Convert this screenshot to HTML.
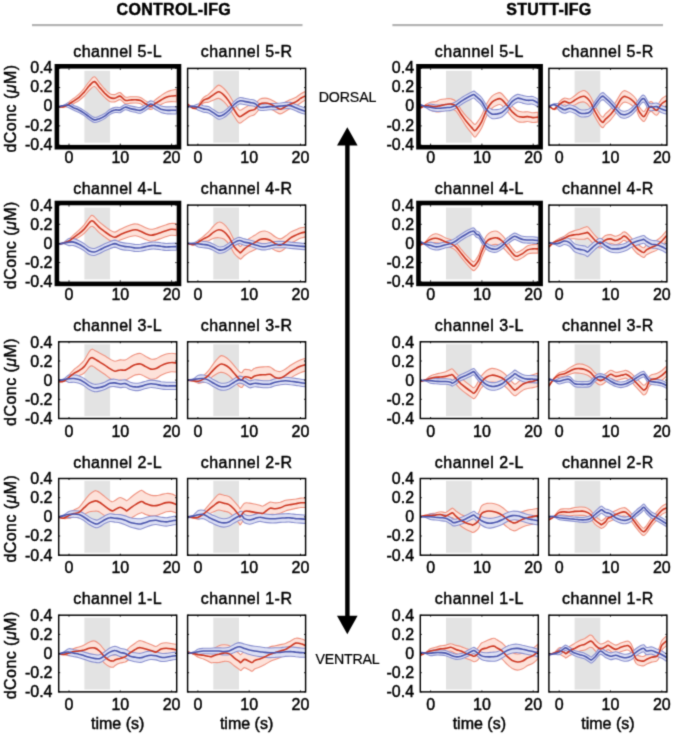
<!DOCTYPE html>
<html><head><meta charset="utf-8"><style>
html,body{margin:0;padding:0;background:#fff;width:675px;height:736px;overflow:hidden;position:relative;font-family:"Liberation Sans",sans-serif}
</style></head><body>
<svg width="675" height="736" viewBox="0 0 675 736" style="position:absolute;left:0;top:0;will-change:transform">
<defs><filter id="soft" x="0" y="0" width="675" height="736" filterUnits="userSpaceOnUse" color-interpolation-filters="sRGB"><feConvolveMatrix order="3" kernelMatrix="0.0225 0.1050 0.0225 0.1050 0.4900 0.1050 0.0225 0.1050 0.0225" preserveAlpha="true" edgeMode="duplicate"/></filter></defs>
<g filter="url(#soft)"><rect width="675" height="736" fill="#fff"/>
<text x="173.8" y="14.6" text-anchor="middle" font-size="16" font-weight="bold" letter-spacing="0.3" font-family="Liberation Sans, sans-serif" stroke="#000" stroke-width="0.45" fill="#000">CONTROL-IFG</text>
<text x="548.9" y="14.6" text-anchor="middle" font-size="16" font-weight="bold" letter-spacing="0.3" font-family="Liberation Sans, sans-serif" stroke="#000" stroke-width="0.45" fill="#000">STUTT-IFG</text>
<rect x="32" y="24" width="270.5" height="2.2" fill="#b4b4b4"/>
<rect x="392.4" y="24" width="270.6" height="2.2" fill="#b4b4b4"/>
<text x="117.7" y="56.6" text-anchor="middle" font-size="16" letter-spacing="0.5" font-family="Liberation Sans, sans-serif" stroke="#000" stroke-width="0.45" fill="#000">channel 5-L</text>
<rect x="84.4" y="70.8" width="25.7" height="71.9" fill="#e3e3e3"/>
<clipPath id="c00"><rect x="58.7" y="68.4" width="118.0" height="76.7"/></clipPath>
<g clip-path="url(#c00)"><path d="M58.5,106.7C59.4,106.6 61.9,107.3 63.6,106.6C65.3,105.8 67.1,103.5 68.8,102.1C70.5,100.7 72.2,99.6 73.9,98.2C75.6,96.9 77.3,95.9 79.0,94.2C80.7,92.6 82.4,90.4 84.2,88.3C85.9,86.2 87.6,83.4 89.3,81.5C91.0,79.5 92.7,76.5 94.4,76.7C96.1,77.0 97.8,80.8 99.5,82.9C101.3,84.9 103.0,87.2 104.7,89.0C106.4,90.8 108.1,92.8 109.8,93.7C111.5,94.6 113.2,94.7 114.9,94.6C116.6,94.4 118.4,92.2 120.1,92.6C121.8,93.1 123.5,96.3 125.2,97.0C126.9,97.7 128.6,96.9 130.3,96.8C132.0,96.8 133.7,96.6 135.5,96.7C137.2,96.8 138.9,96.7 140.6,97.4C142.3,98.1 144.0,99.9 145.7,100.9C147.4,101.8 149.1,103.4 150.8,103.1C152.6,102.9 154.3,100.4 156.0,99.2C157.7,97.9 159.4,96.8 161.1,95.6C162.8,94.4 164.5,93.0 166.2,92.2C167.9,91.3 169.7,90.8 171.4,90.3C173.1,89.8 175.6,89.5 176.5,89.3L176.5,101.9C175.6,101.9 173.1,101.6 171.4,101.6C169.7,101.7 167.9,101.8 166.2,102.2C164.5,102.7 162.8,103.6 161.1,104.4C159.4,105.1 157.7,105.9 156.0,106.7C154.3,107.6 152.6,109.4 150.8,109.4C149.1,109.5 147.4,108.1 145.7,107.2C144.0,106.2 142.3,104.4 140.6,103.7C138.9,103.0 137.2,103.1 135.5,103.0C133.7,102.9 132.0,103.0 130.3,103.1C128.6,103.3 126.9,104.2 125.2,103.7C123.5,103.1 121.8,99.9 120.1,99.6C118.4,99.4 116.6,101.6 114.9,101.9C113.2,102.2 111.5,102.1 109.8,101.4C108.1,100.6 106.4,98.9 104.7,97.4C103.0,95.8 101.3,93.8 99.5,91.9C97.8,90.1 96.1,86.8 94.4,86.5C92.7,86.2 91.0,88.6 89.3,90.2C87.6,91.8 85.9,94.3 84.2,96.0C82.4,97.7 80.7,99.3 79.0,100.5C77.3,101.8 75.6,102.5 73.9,103.5C72.2,104.4 70.5,105.7 68.8,106.3C67.1,106.9 65.3,106.9 63.6,107.1C61.9,107.2 59.4,107.0 58.5,107.0Z" fill="#fde2da" fill-opacity="1.0" stroke="#ef9381" stroke-width="1.1"/><path d="M58.5,106.4C59.4,106.2 61.9,105.8 63.6,105.2C65.3,104.6 67.1,102.7 68.8,102.8C70.5,102.8 72.2,104.6 73.9,105.4C75.6,106.2 77.3,106.6 79.0,107.5C80.7,108.3 82.4,109.4 84.2,110.6C85.9,111.8 87.6,113.3 89.3,114.4C91.0,115.6 92.7,117.1 94.4,117.4C96.1,117.7 97.8,116.8 99.5,116.1C101.3,115.5 103.0,114.6 104.7,113.5C106.4,112.4 108.1,110.5 109.8,109.5C111.5,108.5 113.2,107.7 114.9,107.4C116.6,107.0 118.4,107.8 120.1,107.4C121.8,106.9 123.5,104.8 125.2,104.5C126.9,104.3 128.6,105.5 130.3,105.9C132.0,106.3 133.7,106.6 135.5,106.9C137.2,107.1 138.9,107.9 140.6,107.4C142.3,107.0 144.0,105.4 145.7,104.4C147.4,103.3 149.1,101.1 150.8,100.9C152.6,100.7 154.3,102.4 156.0,103.3C157.7,104.1 159.4,105.3 161.1,105.9C162.8,106.5 164.5,106.7 166.2,106.9C167.9,107.0 169.7,106.8 171.4,106.8C173.1,106.7 175.6,106.7 176.5,106.6L176.5,114.0C175.6,114.0 173.1,113.9 171.4,113.9C169.7,113.8 167.9,114.0 166.2,113.7C164.5,113.5 162.8,113.3 161.1,112.6C159.4,111.9 157.7,110.6 156.0,109.7C154.3,108.8 152.6,107.0 150.8,107.1C149.1,107.2 147.4,109.3 145.7,110.3C144.0,111.3 142.3,112.8 140.6,113.2C138.9,113.5 137.2,112.7 135.5,112.3C133.7,112.0 132.0,111.6 130.3,111.2C128.6,110.7 126.9,109.5 125.2,109.8C123.5,110.0 121.8,112.1 120.1,112.6C118.4,113.0 116.6,112.2 114.9,112.5C113.2,112.9 111.5,113.6 109.8,114.6C108.1,115.6 106.4,117.5 104.7,118.6C103.0,119.7 101.3,120.6 99.5,121.2C97.8,121.9 96.1,122.8 94.4,122.5C92.7,122.2 91.0,120.6 89.3,119.5C87.6,118.3 85.9,116.8 84.2,115.6C82.4,114.4 80.7,113.3 79.0,112.5C77.3,111.6 75.6,111.1 73.9,110.3C72.2,109.6 70.5,108.4 68.8,107.7C67.1,107.0 65.3,106.1 63.6,106.0C61.9,105.9 59.4,107.0 58.5,107.2Z" fill="#dde0f4" fill-opacity="1.0" stroke="#8c92d0" stroke-width="1.1"/><path d="M58.5,106.8C59.4,106.8 61.9,107.2 63.6,106.8C65.3,106.4 67.1,105.2 68.8,104.2C70.5,103.2 72.2,102.0 73.9,100.9C75.6,99.7 77.3,98.8 79.0,97.4C80.7,95.9 82.4,94.0 84.2,92.1C85.9,90.2 87.6,87.6 89.3,85.8C91.0,84.1 92.7,81.4 94.4,81.6C96.1,81.9 97.8,85.5 99.5,87.4C101.3,89.3 103.0,91.5 104.7,93.2C106.4,94.9 108.1,96.7 109.8,97.5C111.5,98.4 113.2,98.5 114.9,98.2C116.6,98.0 118.4,95.8 120.1,96.1C121.8,96.5 123.5,99.7 125.2,100.3C126.9,101.0 128.6,100.1 130.3,100.0C132.0,99.9 133.7,99.7 135.5,99.8C137.2,99.9 138.9,99.8 140.6,100.5C142.3,101.2 144.0,103.1 145.7,104.0C147.4,105.0 149.1,106.5 150.8,106.3C152.6,106.1 154.3,104.0 156.0,103.0C157.7,101.9 159.4,101.0 161.1,100.0C162.8,99.0 164.5,97.9 166.2,97.2C167.9,96.5 169.7,96.2 171.4,96.0C173.1,95.7 175.6,95.7 176.5,95.6" fill="none" stroke="#cd3722" stroke-width="1.6"/><path d="M58.5,106.8C59.4,106.6 61.9,105.8 63.6,105.6C65.3,105.3 67.1,104.9 68.8,105.2C70.5,105.6 72.2,107.1 73.9,107.9C75.6,108.6 77.3,109.1 79.0,110.0C80.7,110.8 82.4,111.9 84.2,113.1C85.9,114.3 87.6,115.8 89.3,116.9C91.0,118.1 92.7,119.6 94.4,119.9C96.1,120.2 97.8,119.3 99.5,118.7C101.3,118.1 103.0,117.2 104.7,116.1C106.4,115.0 108.1,113.1 109.8,112.1C111.5,111.0 113.2,110.3 114.9,110.0C116.6,109.6 118.4,110.4 120.1,110.0C121.8,109.5 123.5,107.4 125.2,107.2C126.9,106.9 128.6,108.1 130.3,108.6C132.0,109.0 133.7,109.3 135.5,109.6C137.2,109.9 138.9,110.7 140.6,110.3C142.3,109.9 144.0,108.4 145.7,107.3C147.4,106.3 149.1,104.2 150.8,104.0C152.6,103.9 154.3,105.6 156.0,106.5C157.7,107.3 159.4,108.6 161.1,109.3C162.8,109.9 164.5,110.1 166.2,110.3C167.9,110.5 169.7,110.3 171.4,110.3C173.1,110.3 175.6,110.3 176.5,110.3" fill="none" stroke="#4b56ad" stroke-width="1.6"/></g>
<line x1="69.0" y1="145.1" x2="69.0" y2="143.6" stroke="#222" stroke-width="1"/>
<line x1="69.0" y1="68.4" x2="69.0" y2="69.9" stroke="#222" stroke-width="1"/>
<line x1="120.3" y1="145.1" x2="120.3" y2="143.6" stroke="#222" stroke-width="1"/>
<line x1="120.3" y1="68.4" x2="120.3" y2="69.9" stroke="#222" stroke-width="1"/>
<line x1="171.6" y1="145.1" x2="171.6" y2="143.6" stroke="#222" stroke-width="1"/>
<line x1="171.6" y1="68.4" x2="171.6" y2="69.9" stroke="#222" stroke-width="1"/>
<line x1="58.7" y1="145.1" x2="60.2" y2="145.1" stroke="#222" stroke-width="1"/>
<line x1="176.7" y1="145.1" x2="175.2" y2="145.1" stroke="#222" stroke-width="1"/>
<line x1="58.7" y1="125.9" x2="60.2" y2="125.9" stroke="#222" stroke-width="1"/>
<line x1="176.7" y1="125.9" x2="175.2" y2="125.9" stroke="#222" stroke-width="1"/>
<line x1="58.7" y1="106.8" x2="60.2" y2="106.8" stroke="#222" stroke-width="1"/>
<line x1="176.7" y1="106.8" x2="175.2" y2="106.8" stroke="#222" stroke-width="1"/>
<line x1="58.7" y1="87.6" x2="60.2" y2="87.6" stroke="#222" stroke-width="1"/>
<line x1="176.7" y1="87.6" x2="175.2" y2="87.6" stroke="#222" stroke-width="1"/>
<line x1="58.7" y1="68.4" x2="60.2" y2="68.4" stroke="#222" stroke-width="1"/>
<line x1="176.7" y1="68.4" x2="175.2" y2="68.4" stroke="#222" stroke-width="1"/>
<rect x="56.9" y="66.3" width="122.1" height="80.9" fill="none" stroke="#000" stroke-width="4.6"/>
<text x="69.0" y="162.9" text-anchor="middle" font-size="16" font-family="Liberation Sans, sans-serif" stroke="#000" stroke-width="0.45" fill="#000">0</text>
<text x="120.3" y="162.9" text-anchor="middle" font-size="16" font-family="Liberation Sans, sans-serif" stroke="#000" stroke-width="0.45" fill="#000">10</text>
<text x="171.6" y="162.9" text-anchor="middle" font-size="16" font-family="Liberation Sans, sans-serif" stroke="#000" stroke-width="0.45" fill="#000">20</text>
<text x="52.5" y="73.0" text-anchor="end" font-size="16" font-family="Liberation Sans, sans-serif" stroke="#000" stroke-width="0.45" fill="#000">0.4</text>
<text x="52.5" y="92.2" text-anchor="end" font-size="16" font-family="Liberation Sans, sans-serif" stroke="#000" stroke-width="0.45" fill="#000">0.2</text>
<text x="52.5" y="111.3" text-anchor="end" font-size="16" font-family="Liberation Sans, sans-serif" stroke="#000" stroke-width="0.45" fill="#000">0</text>
<text x="52.5" y="130.5" text-anchor="end" font-size="16" font-family="Liberation Sans, sans-serif" stroke="#000" stroke-width="0.45" fill="#000">-0.2</text>
<text x="52.5" y="149.7" text-anchor="end" font-size="16" font-family="Liberation Sans, sans-serif" stroke="#000" stroke-width="0.45" fill="#000">-0.4</text>
<text transform="translate(16.2 108.5) rotate(-90)" x="0" y="0" text-anchor="middle" font-size="16" letter-spacing="0.45" font-family="Liberation Sans, sans-serif" stroke="#000" stroke-width="0.45" fill="#000">dConc (<tspan font-style="italic">μ</tspan>M)</text>
<text x="246.6" y="56.6" text-anchor="middle" font-size="16" letter-spacing="0.5" font-family="Liberation Sans, sans-serif" stroke="#000" stroke-width="0.45" fill="#000">channel 5-R</text>
<rect x="213.3" y="70.8" width="25.7" height="71.9" fill="#e3e3e3"/>
<clipPath id="c01"><rect x="187.6" y="68.4" width="118.0" height="76.7"/></clipPath>
<g clip-path="url(#c01)"><path d="M188.0,104.3C188.9,104.9 191.4,107.9 193.1,107.9C194.8,107.9 196.6,106.2 198.3,104.5C200.0,102.8 201.7,99.4 203.4,97.7C205.1,96.0 206.8,95.7 208.5,94.3C210.2,92.9 211.9,90.8 213.7,89.3C215.4,87.7 217.1,85.3 218.8,85.1C220.5,85.0 222.2,86.9 223.9,88.5C225.6,90.1 227.3,92.4 229.0,94.8C230.8,97.3 232.5,100.7 234.2,103.3C235.9,105.8 237.6,109.4 239.3,110.1C241.0,110.9 242.7,108.7 244.4,107.9C246.1,107.1 247.9,105.8 249.6,105.1C251.3,104.5 253.0,105.0 254.7,104.0C256.4,103.0 258.1,100.1 259.8,99.1C261.5,98.1 263.2,98.1 265.0,98.1C266.7,98.1 268.4,98.6 270.1,99.2C271.8,99.9 273.5,101.0 275.2,101.9C276.9,102.8 278.6,104.6 280.3,104.6C282.1,104.6 283.8,102.9 285.5,102.0C287.2,101.2 288.9,100.2 290.6,99.5C292.3,98.7 294.0,98.4 295.7,97.4C297.4,96.5 299.2,94.8 300.9,93.8C302.6,92.8 305.1,91.7 306.0,91.3L306.0,100.0C305.1,100.4 302.6,101.6 300.9,102.7C299.2,103.7 297.4,105.4 295.7,106.4C294.0,107.4 292.3,107.8 290.6,108.6C288.9,109.4 287.2,110.3 285.5,111.2C283.8,112.1 282.1,113.9 280.3,113.9C278.6,113.9 276.9,112.2 275.2,111.4C273.5,110.5 271.8,109.4 270.1,108.8C268.4,108.2 266.7,107.8 265.0,107.8C263.2,107.8 261.5,107.8 259.8,108.9C258.1,110.0 256.4,113.3 254.7,114.5C253.0,115.8 251.3,115.6 249.6,116.5C247.9,117.4 246.1,119.0 244.4,120.1C242.7,121.1 241.0,123.7 239.3,123.1C237.6,122.4 235.9,118.8 234.2,116.3C232.5,113.8 230.8,110.4 229.0,107.9C227.3,105.5 225.6,103.3 223.9,101.7C222.2,100.1 220.5,98.7 218.8,98.4C217.1,98.1 215.4,99.2 213.7,99.9C211.9,100.5 210.2,101.7 208.5,102.2C206.8,102.7 205.1,101.9 203.4,103.0C201.7,104.1 200.0,107.8 198.3,108.7C196.6,109.7 194.8,109.2 193.1,108.5C191.4,107.8 188.9,105.4 188.0,104.8Z" fill="#fde2da" fill-opacity="1.0" stroke="#ef9381" stroke-width="1.1"/><path d="M188.0,105.9C188.9,105.9 191.4,106.2 193.1,105.9C194.8,105.6 196.6,104.0 198.3,104.0C200.0,104.0 201.7,105.3 203.4,105.8C205.1,106.2 206.8,106.0 208.5,106.6C210.2,107.3 211.9,108.7 213.7,109.8C215.4,110.8 217.1,112.7 218.8,112.9C220.5,113.2 222.2,112.3 223.9,111.4C225.6,110.4 227.3,108.8 229.0,107.2C230.8,105.5 232.5,103.0 234.2,101.4C235.9,99.8 237.6,98.2 239.3,97.7C241.0,97.2 242.7,98.0 244.4,98.2C246.1,98.5 247.9,98.9 249.6,99.3C251.3,99.6 253.0,99.6 254.7,100.3C256.4,101.1 258.1,103.4 259.8,104.0C261.5,104.6 263.2,104.1 265.0,104.0C266.7,103.9 268.4,103.6 270.1,103.5C271.8,103.4 273.5,103.6 275.2,103.5C276.9,103.4 278.6,103.1 280.3,103.0C282.1,102.8 283.8,102.5 285.5,102.4C287.2,102.4 288.9,102.1 290.6,102.4C292.3,102.8 294.0,103.8 295.7,104.5C297.4,105.2 299.2,106.0 300.9,106.6C302.6,107.2 305.1,107.9 306.0,108.2L306.0,114.5C305.1,114.2 302.6,113.5 300.9,112.9C299.2,112.3 297.4,111.5 295.7,110.8C294.0,110.1 292.3,109.1 290.6,108.7C288.9,108.4 287.2,108.6 285.5,108.7C283.8,108.8 282.1,109.1 280.3,109.3C278.6,109.4 276.9,109.7 275.2,109.8C273.5,109.9 271.8,109.7 270.1,109.8C268.4,109.9 266.7,110.2 265.0,110.3C263.2,110.4 261.5,110.9 259.8,110.3C258.1,109.7 256.4,107.4 254.7,106.6C253.0,105.8 251.3,105.9 249.6,105.6C247.9,105.2 246.1,104.8 244.4,104.5C242.7,104.3 241.0,103.5 239.3,104.0C237.6,104.5 235.9,106.1 234.2,107.7C232.5,109.3 230.8,111.8 229.0,113.5C227.3,115.1 225.6,116.7 223.9,117.6C222.2,118.6 220.5,119.5 218.8,119.2C217.1,119.0 215.4,117.1 213.7,116.1C211.9,115.0 210.2,113.6 208.5,112.9C206.8,112.3 205.1,112.5 203.4,112.1C201.7,111.6 200.0,111.1 198.3,110.3C196.6,109.5 194.8,107.5 193.1,107.0C191.4,106.4 188.9,107.0 188.0,107.0Z" fill="#dde0f4" fill-opacity="1.0" stroke="#8c92d0" stroke-width="1.1"/><path d="M188.0,104.5C188.9,105.1 191.4,107.9 193.1,108.2C194.8,108.6 196.6,107.9 198.3,106.6C200.0,105.3 201.7,101.7 203.4,100.3C205.1,98.9 206.8,99.2 208.5,98.2C210.2,97.3 211.9,95.6 213.7,94.6C215.4,93.5 217.1,91.7 218.8,91.8C220.5,91.9 222.2,93.5 223.9,95.1C225.6,96.7 227.3,98.9 229.0,101.4C230.8,103.8 232.5,107.2 234.2,109.8C235.9,112.3 237.6,115.9 239.3,116.6C241.0,117.3 242.7,114.9 244.4,114.0C246.1,113.0 247.9,111.6 249.6,110.8C251.3,110.0 253.0,110.4 254.7,109.3C256.4,108.1 258.1,105.1 259.8,104.0C261.5,103.0 263.2,103.0 265.0,103.0C266.7,103.0 268.4,103.4 270.1,104.0C271.8,104.6 273.5,105.8 275.2,106.6C276.9,107.5 278.6,109.3 280.3,109.3C282.1,109.3 283.8,107.5 285.5,106.6C287.2,105.8 288.9,104.8 290.6,104.0C292.3,103.2 294.0,102.9 295.7,101.9C297.4,101.0 299.2,99.3 300.9,98.2C302.6,97.2 305.1,96.1 306.0,95.6" fill="none" stroke="#cd3722" stroke-width="1.6"/><path d="M188.0,106.5C188.9,106.5 191.4,106.3 193.1,106.5C194.8,106.6 196.6,106.8 198.3,107.2C200.0,107.6 201.7,108.5 203.4,108.9C205.1,109.3 206.8,109.1 208.5,109.8C210.2,110.5 211.9,111.9 213.7,112.9C215.4,114.0 217.1,115.8 218.8,116.1C220.5,116.3 222.2,115.5 223.9,114.5C225.6,113.5 227.3,112.0 229.0,110.3C230.8,108.6 232.5,106.1 234.2,104.5C235.9,103.0 237.6,101.4 239.3,100.9C241.0,100.3 242.7,101.1 244.4,101.4C246.1,101.7 247.9,102.1 249.6,102.4C251.3,102.8 253.0,102.7 254.7,103.5C256.4,104.3 258.1,106.5 259.8,107.2C261.5,107.8 263.2,107.2 265.0,107.2C266.7,107.1 268.4,106.7 270.1,106.6C271.8,106.5 273.5,106.7 275.2,106.6C276.9,106.5 278.6,106.3 280.3,106.1C282.1,105.9 283.8,105.7 285.5,105.6C287.2,105.5 288.9,105.2 290.6,105.6C292.3,105.9 294.0,107.0 295.7,107.7C297.4,108.4 299.2,109.2 300.9,109.8C302.6,110.4 305.1,111.1 306.0,111.4" fill="none" stroke="#4b56ad" stroke-width="1.6"/></g>
<line x1="197.9" y1="145.1" x2="197.9" y2="143.6" stroke="#222" stroke-width="1"/>
<line x1="197.9" y1="68.4" x2="197.9" y2="69.9" stroke="#222" stroke-width="1"/>
<line x1="249.2" y1="145.1" x2="249.2" y2="143.6" stroke="#222" stroke-width="1"/>
<line x1="249.2" y1="68.4" x2="249.2" y2="69.9" stroke="#222" stroke-width="1"/>
<line x1="300.5" y1="145.1" x2="300.5" y2="143.6" stroke="#222" stroke-width="1"/>
<line x1="300.5" y1="68.4" x2="300.5" y2="69.9" stroke="#222" stroke-width="1"/>
<line x1="187.6" y1="145.1" x2="189.1" y2="145.1" stroke="#222" stroke-width="1"/>
<line x1="305.6" y1="145.1" x2="304.1" y2="145.1" stroke="#222" stroke-width="1"/>
<line x1="187.6" y1="125.9" x2="189.1" y2="125.9" stroke="#222" stroke-width="1"/>
<line x1="305.6" y1="125.9" x2="304.1" y2="125.9" stroke="#222" stroke-width="1"/>
<line x1="187.6" y1="106.8" x2="189.1" y2="106.8" stroke="#222" stroke-width="1"/>
<line x1="305.6" y1="106.8" x2="304.1" y2="106.8" stroke="#222" stroke-width="1"/>
<line x1="187.6" y1="87.6" x2="189.1" y2="87.6" stroke="#222" stroke-width="1"/>
<line x1="305.6" y1="87.6" x2="304.1" y2="87.6" stroke="#222" stroke-width="1"/>
<line x1="187.6" y1="68.4" x2="189.1" y2="68.4" stroke="#222" stroke-width="1"/>
<line x1="305.6" y1="68.4" x2="304.1" y2="68.4" stroke="#222" stroke-width="1"/>
<rect x="187.6" y="68.4" width="118.0" height="76.7" fill="none" stroke="#000" stroke-width="1.45"/>
<text x="197.9" y="162.9" text-anchor="middle" font-size="16" font-family="Liberation Sans, sans-serif" stroke="#000" stroke-width="0.45" fill="#000">0</text>
<text x="249.2" y="162.9" text-anchor="middle" font-size="16" font-family="Liberation Sans, sans-serif" stroke="#000" stroke-width="0.45" fill="#000">10</text>
<text x="300.5" y="162.9" text-anchor="middle" font-size="16" font-family="Liberation Sans, sans-serif" stroke="#000" stroke-width="0.45" fill="#000">20</text>
<text x="479.3" y="56.6" text-anchor="middle" font-size="16" letter-spacing="0.5" font-family="Liberation Sans, sans-serif" stroke="#000" stroke-width="0.45" fill="#000">channel 5-L</text>
<rect x="446.0" y="70.8" width="25.7" height="71.9" fill="#e3e3e3"/>
<clipPath id="c02"><rect x="420.3" y="68.4" width="118.0" height="76.7"/></clipPath>
<g clip-path="url(#c02)"><path d="M420.0,107.9C420.9,107.4 423.4,106.1 425.1,105.1C426.8,104.2 428.6,102.8 430.3,102.3C432.0,101.7 433.7,102.1 435.4,101.7C437.1,101.2 438.8,99.9 440.5,99.5C442.2,99.0 443.9,99.0 445.7,98.9C447.4,98.7 449.1,98.4 450.8,98.8C452.5,99.2 454.2,99.5 455.9,101.3C457.6,103.1 459.3,107.1 461.0,109.6C462.8,112.1 464.5,114.3 466.2,116.2C467.9,118.1 469.9,119.9 471.3,121.2C472.7,122.6 473.5,124.0 474.4,124.3C475.2,124.6 475.2,124.7 476.4,123.3C477.6,121.8 479.9,118.9 481.6,115.6C483.3,112.4 485.0,106.9 486.7,103.7C488.4,100.4 490.1,98.1 491.8,96.4C493.5,94.7 495.7,93.9 497.0,93.3C498.2,92.7 498.7,92.5 499.5,92.6C500.4,92.8 500.8,92.8 502.1,94.0C503.4,95.2 505.5,97.9 507.2,99.9C508.9,102.0 510.6,104.6 512.3,106.4C514.1,108.2 515.8,109.9 517.5,110.8C519.2,111.7 520.9,111.9 522.6,112.0C524.3,112.2 526.0,111.6 527.7,111.7C529.4,111.8 531.2,112.7 532.9,112.8C534.6,112.8 537.1,112.3 538.0,112.2L538.0,122.0C537.1,122.1 534.6,122.6 532.9,122.5C531.2,122.5 529.4,121.5 527.7,121.5C526.0,121.4 524.3,122.2 522.6,122.2C520.9,122.2 519.2,122.2 517.5,121.4C515.8,120.5 514.1,119.0 512.3,117.3C510.6,115.7 508.9,113.2 507.2,111.2C505.5,109.3 503.4,106.8 502.1,105.7C500.8,104.5 500.4,104.6 499.5,104.5C498.7,104.5 498.2,104.6 497.0,105.3C495.7,105.9 493.5,106.7 491.8,108.5C490.1,110.3 488.4,112.6 486.7,115.9C485.0,119.2 483.3,124.7 481.6,128.0C479.9,131.4 477.6,134.3 476.4,135.8C475.2,137.3 475.2,137.4 474.4,136.9C473.5,136.4 472.7,134.7 471.3,132.9C469.9,131.2 467.9,128.9 466.2,126.4C464.5,124.0 462.8,120.9 461.0,118.3C459.3,115.8 457.6,112.4 455.9,110.9C454.2,109.4 452.5,109.4 450.8,109.3C449.1,109.1 447.4,109.8 445.7,110.2C443.9,110.6 442.2,111.5 440.5,111.7C438.8,111.9 437.1,111.9 435.4,111.6C433.7,111.3 432.0,110.9 430.3,110.0C428.6,109.0 426.8,106.3 425.1,106.1C423.4,105.8 420.9,108.1 420.0,108.5Z" fill="#fde2da" fill-opacity="1.0" stroke="#ef9381" stroke-width="1.1"/><path d="M420.0,104.0C420.9,104.4 423.4,106.1 425.1,106.1C426.8,106.1 428.6,104.2 430.3,104.0C432.0,103.8 433.7,104.8 435.4,105.0C437.1,105.2 438.8,105.1 440.5,105.0C442.2,104.9 443.9,104.6 445.7,104.4C447.4,104.3 449.1,104.3 450.8,103.9C452.5,103.5 454.2,102.8 455.9,101.8C457.6,100.8 459.3,99.2 461.0,98.1C462.8,97.0 464.5,95.9 466.2,94.9C467.9,94.0 470.0,92.9 471.3,92.3C472.6,91.7 473.0,91.0 473.9,91.1C474.7,91.2 475.2,92.0 476.4,93.0C477.7,94.1 479.9,95.4 481.6,97.5C483.3,99.5 485.0,103.5 486.7,105.5C488.4,107.5 490.1,108.8 491.8,109.4C493.5,110.1 495.2,109.8 497.0,109.6C498.7,109.4 500.4,109.1 502.1,108.1C503.8,107.1 505.5,105.3 507.2,103.6C508.9,101.8 510.6,98.9 512.3,97.4C514.1,95.9 515.8,94.7 517.5,94.4C519.2,94.1 520.9,95.1 522.6,95.4C524.3,95.8 526.0,96.3 527.7,96.5C529.4,96.7 531.2,96.1 532.9,96.5C534.6,96.9 537.1,98.7 538.0,99.1L538.0,106.8C537.1,106.4 534.6,104.6 532.9,104.2C531.2,103.7 529.4,104.4 527.7,104.2C526.0,104.0 524.3,103.5 522.6,103.1C520.9,102.8 519.2,101.7 517.5,102.1C515.8,102.5 514.1,103.8 512.3,105.4C510.6,107.0 508.9,109.9 507.2,111.8C505.5,113.7 503.8,115.6 502.1,116.7C500.4,117.8 498.7,118.1 497.0,118.4C495.2,118.7 493.5,119.2 491.8,118.5C490.1,117.8 488.4,116.2 486.7,114.0C485.0,111.8 483.3,107.6 481.6,105.3C479.9,103.0 477.7,101.5 476.4,100.3C475.2,99.1 474.7,98.3 473.9,98.0C473.0,97.8 472.6,98.4 471.3,98.9C470.0,99.5 467.9,100.6 466.2,101.5C464.5,102.5 462.8,103.5 461.0,104.7C459.3,105.8 457.6,107.4 455.9,108.3C454.2,109.3 452.5,110.0 450.8,110.4C449.1,110.8 447.4,110.7 445.7,110.9C443.9,111.1 442.2,111.3 440.5,111.4C438.8,111.5 437.1,111.6 435.4,111.4C433.7,111.2 432.0,111.0 430.3,110.3C428.6,109.6 426.8,108.1 425.1,107.2C423.4,106.3 420.9,105.4 420.0,105.1Z" fill="#dde0f4" fill-opacity="1.0" stroke="#8c92d0" stroke-width="1.1"/><path d="M420.0,108.2C420.9,107.8 423.4,105.9 425.1,105.6C426.8,105.2 428.6,105.9 430.3,106.1C432.0,106.3 433.7,106.7 435.4,106.6C437.1,106.5 438.8,105.9 440.5,105.6C442.2,105.2 443.9,104.8 445.7,104.5C447.4,104.3 449.1,103.7 450.8,104.0C452.5,104.3 454.2,104.4 455.9,106.1C457.6,107.8 459.3,111.4 461.0,114.0C462.8,116.5 464.5,119.1 466.2,121.3C467.9,123.5 469.9,125.5 471.3,127.1C472.7,128.6 473.5,130.2 474.4,130.6C475.2,131.0 475.2,131.0 476.4,129.5C477.6,128.1 479.9,125.1 481.6,121.8C483.3,118.6 485.0,113.0 486.7,109.8C488.4,106.5 490.1,104.2 491.8,102.4C493.5,100.7 495.7,99.9 497.0,99.3C498.2,98.7 498.7,98.5 499.5,98.6C500.4,98.7 500.8,98.7 502.1,99.8C503.4,101.0 505.5,103.6 507.2,105.6C508.9,107.6 510.6,110.1 512.3,111.9C514.1,113.6 515.8,115.2 517.5,116.1C519.2,116.9 520.9,117.0 522.6,117.1C524.3,117.2 526.0,116.5 527.7,116.6C529.4,116.7 531.2,117.6 532.9,117.6C534.6,117.7 537.1,117.2 538.0,117.1" fill="none" stroke="#cd3722" stroke-width="1.6"/><path d="M420.0,104.5C420.9,104.9 423.4,106.2 425.1,106.6C426.8,107.1 428.6,106.9 430.3,107.2C432.0,107.4 433.7,108.0 435.4,108.2C437.1,108.4 438.8,108.3 440.5,108.2C442.2,108.1 443.9,107.9 445.7,107.7C447.4,107.5 449.1,107.6 450.8,107.2C452.5,106.7 454.2,106.0 455.9,105.1C457.6,104.1 459.3,102.5 461.0,101.4C462.8,100.3 464.5,99.2 466.2,98.2C467.9,97.3 470.0,96.2 471.3,95.6C472.6,95.0 473.0,94.4 473.9,94.6C474.7,94.7 475.2,95.5 476.4,96.7C477.7,97.8 479.9,99.2 481.6,101.4C483.3,103.6 485.0,107.7 486.7,109.8C488.4,111.9 490.1,113.3 491.8,114.0C493.5,114.7 495.2,114.2 497.0,114.0C498.7,113.7 500.4,113.5 502.1,112.4C503.8,111.4 505.5,109.5 507.2,107.7C508.9,105.8 510.6,103.0 512.3,101.4C514.1,99.8 515.8,98.6 517.5,98.2C519.2,97.9 520.9,98.9 522.6,99.3C524.3,99.6 526.0,100.2 527.7,100.3C529.4,100.5 531.2,99.9 532.9,100.3C534.6,100.8 537.1,102.5 538.0,103.0" fill="none" stroke="#4b56ad" stroke-width="1.6"/></g>
<line x1="430.6" y1="145.1" x2="430.6" y2="143.6" stroke="#222" stroke-width="1"/>
<line x1="430.6" y1="68.4" x2="430.6" y2="69.9" stroke="#222" stroke-width="1"/>
<line x1="481.9" y1="145.1" x2="481.9" y2="143.6" stroke="#222" stroke-width="1"/>
<line x1="481.9" y1="68.4" x2="481.9" y2="69.9" stroke="#222" stroke-width="1"/>
<line x1="533.2" y1="145.1" x2="533.2" y2="143.6" stroke="#222" stroke-width="1"/>
<line x1="533.2" y1="68.4" x2="533.2" y2="69.9" stroke="#222" stroke-width="1"/>
<line x1="420.3" y1="145.1" x2="421.8" y2="145.1" stroke="#222" stroke-width="1"/>
<line x1="538.3" y1="145.1" x2="536.8" y2="145.1" stroke="#222" stroke-width="1"/>
<line x1="420.3" y1="125.9" x2="421.8" y2="125.9" stroke="#222" stroke-width="1"/>
<line x1="538.3" y1="125.9" x2="536.8" y2="125.9" stroke="#222" stroke-width="1"/>
<line x1="420.3" y1="106.8" x2="421.8" y2="106.8" stroke="#222" stroke-width="1"/>
<line x1="538.3" y1="106.8" x2="536.8" y2="106.8" stroke="#222" stroke-width="1"/>
<line x1="420.3" y1="87.6" x2="421.8" y2="87.6" stroke="#222" stroke-width="1"/>
<line x1="538.3" y1="87.6" x2="536.8" y2="87.6" stroke="#222" stroke-width="1"/>
<line x1="420.3" y1="68.4" x2="421.8" y2="68.4" stroke="#222" stroke-width="1"/>
<line x1="538.3" y1="68.4" x2="536.8" y2="68.4" stroke="#222" stroke-width="1"/>
<rect x="418.5" y="66.3" width="122.1" height="80.9" fill="none" stroke="#000" stroke-width="4.6"/>
<text x="430.6" y="162.9" text-anchor="middle" font-size="16" font-family="Liberation Sans, sans-serif" stroke="#000" stroke-width="0.45" fill="#000">0</text>
<text x="481.9" y="162.9" text-anchor="middle" font-size="16" font-family="Liberation Sans, sans-serif" stroke="#000" stroke-width="0.45" fill="#000">10</text>
<text x="533.2" y="162.9" text-anchor="middle" font-size="16" font-family="Liberation Sans, sans-serif" stroke="#000" stroke-width="0.45" fill="#000">20</text>
<text x="414.1" y="73.0" text-anchor="end" font-size="16" font-family="Liberation Sans, sans-serif" stroke="#000" stroke-width="0.45" fill="#000">0.4</text>
<text x="414.1" y="92.2" text-anchor="end" font-size="16" font-family="Liberation Sans, sans-serif" stroke="#000" stroke-width="0.45" fill="#000">0.2</text>
<text x="414.1" y="111.3" text-anchor="end" font-size="16" font-family="Liberation Sans, sans-serif" stroke="#000" stroke-width="0.45" fill="#000">0</text>
<text x="414.1" y="130.5" text-anchor="end" font-size="16" font-family="Liberation Sans, sans-serif" stroke="#000" stroke-width="0.45" fill="#000">-0.2</text>
<text x="414.1" y="149.7" text-anchor="end" font-size="16" font-family="Liberation Sans, sans-serif" stroke="#000" stroke-width="0.45" fill="#000">-0.4</text>
<text x="607.9" y="56.6" text-anchor="middle" font-size="16" letter-spacing="0.5" font-family="Liberation Sans, sans-serif" stroke="#000" stroke-width="0.45" fill="#000">channel 5-R</text>
<rect x="574.6" y="70.8" width="25.7" height="71.9" fill="#e3e3e3"/>
<clipPath id="c03"><rect x="548.9" y="68.4" width="118.0" height="76.7"/></clipPath>
<g clip-path="url(#c03)"><path d="M549.0,105.9C549.9,106.4 552.4,109.6 554.1,108.9C555.8,108.2 557.6,103.7 559.3,101.9C561.0,100.0 562.7,98.5 564.4,98.1C566.1,97.6 567.8,99.4 569.5,99.0C571.2,98.7 572.9,97.0 574.7,95.8C576.4,94.6 578.1,92.9 579.8,92.0C581.5,91.2 583.2,90.1 584.9,90.7C586.6,91.3 588.3,93.2 590.0,95.8C591.8,98.4 593.5,103.2 595.2,106.4C596.9,109.6 599.0,113.2 600.3,115.0C601.6,116.7 602.0,117.3 602.9,117.1C603.7,116.9 604.2,115.3 605.4,113.9C606.7,112.6 608.9,111.0 610.6,109.1C612.3,107.1 614.0,104.7 615.7,102.1C617.4,99.5 619.5,95.5 620.8,93.6C622.1,91.7 622.5,91.3 623.4,90.9C624.2,90.5 624.7,90.5 626.0,91.0C627.2,91.5 629.4,92.5 631.1,93.9C632.8,95.2 634.9,97.3 636.2,99.3C637.5,101.3 637.9,104.0 638.8,105.7C639.6,107.4 640.5,108.5 641.3,109.5C642.2,110.5 643.1,111.9 643.9,111.7C644.8,111.5 645.6,109.5 646.5,108.0C647.3,106.5 648.2,103.8 649.0,102.8C649.9,101.7 650.3,101.3 651.6,101.7C652.9,102.2 655.0,105.9 656.7,105.4C658.4,104.9 660.2,100.3 661.9,98.6C663.6,96.9 666.1,96.0 667.0,95.4L667.0,105.2C666.1,105.8 663.6,106.7 661.9,108.4C660.2,110.0 658.4,114.7 656.7,115.2C655.0,115.7 652.9,112.0 651.6,111.5C650.3,111.1 649.9,111.5 649.0,112.6C648.2,113.6 647.3,116.3 646.5,117.8C645.6,119.3 644.8,121.2 643.9,121.5C643.1,121.8 642.2,120.4 641.3,119.5C640.5,118.6 639.6,117.6 638.8,115.9C637.9,114.3 637.5,111.6 636.2,109.8C634.9,107.9 632.8,106.0 631.1,104.7C629.4,103.5 627.2,102.7 626.0,102.3C624.7,101.9 624.2,102.0 623.4,102.4C622.5,102.9 622.1,103.2 620.8,105.0C619.5,106.8 617.4,110.8 615.7,113.3C614.0,115.7 612.3,118.1 610.6,119.9C608.9,121.8 606.7,123.3 605.4,124.5C604.2,125.8 603.7,127.4 602.9,127.6C602.0,127.8 601.6,127.3 600.3,125.6C599.0,123.9 596.9,120.4 595.2,117.3C593.5,114.3 591.8,109.5 590.0,107.0C588.3,104.5 586.6,103.0 584.9,102.3C583.2,101.5 581.5,101.9 579.8,102.4C578.1,102.8 576.4,104.1 574.7,104.9C572.9,105.6 571.2,106.9 569.5,106.9C567.8,106.9 566.1,104.7 564.4,104.7C562.7,104.8 561.0,106.4 559.3,107.2C557.6,108.0 555.8,109.7 554.1,109.6C552.4,109.5 549.9,106.9 549.0,106.3Z" fill="#fde2da" fill-opacity="1.0" stroke="#ef9381" stroke-width="1.1"/><path d="M549.0,106.0C549.9,105.7 552.4,104.3 554.1,103.9C555.8,103.5 557.6,103.3 559.3,103.7C561.0,104.1 562.7,106.1 564.4,106.3C566.1,106.5 567.8,104.7 569.5,104.7C571.2,104.7 572.9,105.5 574.7,106.3C576.4,107.1 578.1,108.8 579.8,109.4C581.5,110.0 583.2,110.1 584.9,110.0C586.6,109.8 588.3,109.9 590.0,108.4C591.8,106.9 593.5,103.4 595.2,101.0C596.9,98.7 599.0,95.6 600.3,94.2C601.6,92.8 602.0,92.6 602.9,92.6C603.7,92.7 604.2,93.6 605.4,94.7C606.7,95.9 608.9,97.7 610.6,99.5C612.3,101.2 614.0,103.4 615.7,105.2C617.4,107.1 619.1,109.5 620.8,110.5C622.5,111.4 624.2,111.4 626.0,111.0C627.7,110.7 629.4,109.7 631.1,108.4C632.8,107.1 634.5,105.1 636.2,103.1C637.9,101.1 640.1,97.6 641.3,96.3C642.6,95.0 643.1,94.8 643.9,95.3C644.8,95.7 645.6,97.6 646.5,98.9C647.3,100.3 648.2,102.4 649.0,103.1C649.9,103.9 650.3,103.7 651.6,103.7C652.9,103.7 655.0,102.8 656.7,103.1C658.4,103.5 660.2,105.1 661.9,105.8C663.6,106.5 666.1,107.1 667.0,107.3L667.0,114.3C666.1,114.1 663.6,113.5 661.9,112.8C660.2,112.1 658.4,110.5 656.7,110.1C655.0,109.8 652.9,110.7 651.6,110.7C650.3,110.7 649.9,110.9 649.0,110.1C648.2,109.3 647.3,107.2 646.5,105.9C645.6,104.6 644.8,102.7 643.9,102.3C643.1,101.8 642.6,102.0 641.3,103.3C640.1,104.6 637.9,108.1 636.2,110.1C634.5,112.1 632.8,114.1 631.1,115.4C629.4,116.7 627.7,117.6 626.0,118.0C624.2,118.3 622.5,118.4 620.8,117.5C619.1,116.5 617.4,114.1 615.7,112.2C614.0,110.4 612.3,108.2 610.6,106.5C608.9,104.7 606.7,102.9 605.4,101.7C604.2,100.6 603.7,99.7 602.9,99.6C602.0,99.6 601.6,99.8 600.3,101.2C599.0,102.6 596.9,105.7 595.2,108.0C593.5,110.4 591.8,113.9 590.0,115.4C588.3,116.9 586.6,116.8 584.9,116.9C583.2,117.1 581.5,117.0 579.8,116.4C578.1,115.8 576.4,114.1 574.7,113.3C572.9,112.5 571.2,111.7 569.5,111.7C567.8,111.7 566.1,113.5 564.4,113.3C562.7,113.1 561.0,112.0 559.3,110.7C557.6,109.3 555.8,105.7 554.1,105.1C552.4,104.6 549.9,106.9 549.0,107.2Z" fill="#dde0f4" fill-opacity="1.0" stroke="#8c92d0" stroke-width="1.1"/><path d="M549.0,106.1C549.9,106.6 552.4,109.5 554.1,109.3C555.8,109.0 557.6,105.8 559.3,104.5C561.0,103.2 562.7,101.7 564.4,101.4C566.1,101.1 567.8,103.1 569.5,103.0C571.2,102.8 572.9,101.3 574.7,100.3C576.4,99.4 578.1,97.8 579.8,97.2C581.5,96.6 583.2,95.8 584.9,96.5C586.6,97.2 588.3,98.8 590.0,101.4C591.8,104.0 593.5,108.7 595.2,111.9C596.9,115.0 599.0,118.5 600.3,120.3C601.6,122.0 602.0,122.5 602.9,122.4C603.7,122.2 604.2,120.5 605.4,119.2C606.7,117.9 608.9,116.4 610.6,114.5C612.3,112.6 614.0,110.2 615.7,107.7C617.4,105.1 619.5,101.1 620.8,99.3C622.1,97.5 622.5,97.1 623.4,96.7C624.2,96.2 624.7,96.2 626.0,96.7C627.2,97.1 629.4,98.0 631.1,99.3C632.8,100.6 634.9,102.6 636.2,104.5C637.5,106.5 637.9,109.2 638.8,110.8C639.6,112.5 640.5,113.5 641.3,114.5C642.2,115.5 643.1,116.9 643.9,116.6C644.8,116.3 645.6,114.4 646.5,112.9C647.3,111.4 648.2,108.7 649.0,107.7C649.9,106.6 650.3,106.2 651.6,106.6C652.9,107.1 655.0,110.8 656.7,110.3C658.4,109.8 660.2,105.1 661.9,103.5C663.6,101.8 666.1,100.9 667.0,100.3" fill="none" stroke="#cd3722" stroke-width="1.6"/><path d="M549.0,106.6C549.9,106.3 552.4,104.4 554.1,104.5C555.8,104.6 557.6,106.3 559.3,107.2C561.0,108.0 562.7,109.6 564.4,109.8C566.1,110.0 567.8,108.2 569.5,108.2C571.2,108.2 572.9,109.0 574.7,109.8C576.4,110.6 578.1,112.3 579.8,112.9C581.5,113.5 583.2,113.6 584.9,113.5C586.6,113.3 588.3,113.4 590.0,111.9C591.8,110.4 593.5,106.9 595.2,104.5C596.9,102.2 599.0,99.1 600.3,97.7C601.6,96.3 602.0,96.1 602.9,96.1C603.7,96.2 604.2,97.1 605.4,98.2C606.7,99.4 608.9,101.2 610.6,103.0C612.3,104.7 614.0,106.9 615.7,108.7C617.4,110.6 619.1,113.0 620.8,114.0C622.5,114.9 624.2,114.9 626.0,114.5C627.7,114.2 629.4,113.2 631.1,111.9C632.8,110.6 634.5,108.6 636.2,106.6C637.9,104.6 640.1,101.1 641.3,99.8C642.6,98.5 643.1,98.3 643.9,98.8C644.8,99.2 645.6,101.1 646.5,102.4C647.3,103.7 648.2,105.8 649.0,106.6C649.9,107.4 650.3,107.2 651.6,107.2C652.9,107.2 655.0,106.3 656.7,106.6C658.4,107.0 660.2,108.6 661.9,109.3C663.6,110.0 666.1,110.6 667.0,110.8" fill="none" stroke="#4b56ad" stroke-width="1.6"/></g>
<line x1="559.2" y1="145.1" x2="559.2" y2="143.6" stroke="#222" stroke-width="1"/>
<line x1="559.2" y1="68.4" x2="559.2" y2="69.9" stroke="#222" stroke-width="1"/>
<line x1="610.5" y1="145.1" x2="610.5" y2="143.6" stroke="#222" stroke-width="1"/>
<line x1="610.5" y1="68.4" x2="610.5" y2="69.9" stroke="#222" stroke-width="1"/>
<line x1="661.8" y1="145.1" x2="661.8" y2="143.6" stroke="#222" stroke-width="1"/>
<line x1="661.8" y1="68.4" x2="661.8" y2="69.9" stroke="#222" stroke-width="1"/>
<line x1="548.9" y1="145.1" x2="550.4" y2="145.1" stroke="#222" stroke-width="1"/>
<line x1="666.9" y1="145.1" x2="665.4" y2="145.1" stroke="#222" stroke-width="1"/>
<line x1="548.9" y1="125.9" x2="550.4" y2="125.9" stroke="#222" stroke-width="1"/>
<line x1="666.9" y1="125.9" x2="665.4" y2="125.9" stroke="#222" stroke-width="1"/>
<line x1="548.9" y1="106.8" x2="550.4" y2="106.8" stroke="#222" stroke-width="1"/>
<line x1="666.9" y1="106.8" x2="665.4" y2="106.8" stroke="#222" stroke-width="1"/>
<line x1="548.9" y1="87.6" x2="550.4" y2="87.6" stroke="#222" stroke-width="1"/>
<line x1="666.9" y1="87.6" x2="665.4" y2="87.6" stroke="#222" stroke-width="1"/>
<line x1="548.9" y1="68.4" x2="550.4" y2="68.4" stroke="#222" stroke-width="1"/>
<line x1="666.9" y1="68.4" x2="665.4" y2="68.4" stroke="#222" stroke-width="1"/>
<rect x="548.9" y="68.4" width="118.0" height="76.7" fill="none" stroke="#000" stroke-width="1.45"/>
<text x="559.2" y="162.9" text-anchor="middle" font-size="16" font-family="Liberation Sans, sans-serif" stroke="#000" stroke-width="0.45" fill="#000">0</text>
<text x="610.5" y="162.9" text-anchor="middle" font-size="16" font-family="Liberation Sans, sans-serif" stroke="#000" stroke-width="0.45" fill="#000">10</text>
<text x="661.8" y="162.9" text-anchor="middle" font-size="16" font-family="Liberation Sans, sans-serif" stroke="#000" stroke-width="0.45" fill="#000">20</text>
<text x="117.7" y="194.1" text-anchor="middle" font-size="16" letter-spacing="0.5" font-family="Liberation Sans, sans-serif" stroke="#000" stroke-width="0.45" fill="#000">channel 4-L</text>
<rect x="84.4" y="207.5" width="25.7" height="71.9" fill="#e3e3e3"/>
<clipPath id="c10"><rect x="58.7" y="205.1" width="118.0" height="76.7"/></clipPath>
<g clip-path="url(#c10)"><path d="M58.5,244.0C59.4,243.8 61.9,243.7 63.6,242.9C65.3,242.1 67.1,240.6 68.8,239.3C70.5,237.9 72.2,236.2 73.9,234.7C75.6,233.2 77.3,231.9 79.0,230.2C80.7,228.6 82.4,227.0 84.2,224.9C85.9,222.8 88.0,219.4 89.3,217.8C90.6,216.2 91.0,215.5 91.8,215.3C92.7,215.2 93.1,215.8 94.4,216.9C95.7,218.1 97.8,220.6 99.5,222.2C101.3,223.7 103.0,225.0 104.7,226.2C106.4,227.5 108.1,229.0 109.8,230.0C111.5,230.9 113.2,232.2 114.9,232.1C116.6,232.0 118.4,230.1 120.1,229.3C121.8,228.5 123.5,227.8 125.2,227.0C126.9,226.3 128.6,225.5 130.3,224.9C132.0,224.4 133.7,223.8 135.5,223.9C137.2,223.9 138.9,224.6 140.6,225.3C142.3,225.9 144.0,227.1 145.7,227.7C147.4,228.4 149.1,229.2 150.8,229.3C152.6,229.4 154.3,228.7 156.0,228.3C157.7,227.8 159.4,227.1 161.1,226.5C162.8,225.9 164.5,225.3 166.2,224.8C167.9,224.2 169.7,223.5 171.4,223.4C173.1,223.2 175.6,223.6 176.5,223.7L176.5,235.6C175.6,235.5 173.1,235.1 171.4,235.2C169.7,235.4 167.9,236.1 166.2,236.6C164.5,237.2 162.8,237.8 161.1,238.4C159.4,239.0 157.7,239.7 156.0,240.1C154.3,240.6 152.6,241.3 150.8,241.2C149.1,241.1 147.4,240.3 145.7,239.6C144.0,238.9 142.3,237.8 140.6,237.2C138.9,236.5 137.2,235.9 135.5,235.8C133.7,235.7 132.0,236.1 130.3,236.5C128.6,236.9 126.9,237.6 125.2,238.2C123.5,238.8 121.8,239.4 120.1,240.1C118.4,240.9 116.6,242.5 114.9,242.6C113.2,242.6 111.5,241.5 109.8,240.5C108.1,239.6 106.4,238.2 104.7,236.9C103.0,235.6 101.3,234.4 99.5,232.9C97.8,231.4 95.7,228.8 94.4,227.7C93.1,226.6 92.7,226.1 91.8,226.2C91.0,226.2 90.6,226.7 89.3,227.9C88.0,229.0 85.9,231.8 84.2,233.3C82.4,234.9 80.7,236.0 79.0,237.1C77.3,238.2 75.6,239.0 73.9,240.0C72.2,240.9 70.5,242.2 68.8,242.8C67.1,243.3 65.3,243.1 63.6,243.3C61.9,243.6 59.4,244.1 58.5,244.3Z" fill="#fde2da" fill-opacity="1.0" stroke="#ef9381" stroke-width="1.1"/><path d="M58.5,243.6C59.4,243.4 61.9,243.3 63.6,242.5C65.3,241.7 67.1,239.2 68.8,238.6C70.5,237.9 72.2,238.2 73.9,238.6C75.6,238.9 77.3,239.8 79.0,240.7C80.7,241.5 82.4,242.7 84.2,243.8C85.9,244.9 87.6,246.7 89.3,247.5C91.0,248.3 92.7,248.7 94.4,248.5C96.1,248.4 97.8,247.2 99.5,246.4C101.3,245.6 103.0,244.6 104.7,243.8C106.4,243.0 108.1,242.3 109.8,241.7C111.5,241.1 113.2,240.1 114.9,240.1C116.6,240.2 118.4,241.6 120.1,242.1C121.8,242.6 123.5,242.9 125.2,243.1C126.9,243.3 128.6,243.2 130.3,243.5C132.0,243.7 133.7,244.4 135.5,244.5C137.2,244.6 138.9,244.4 140.6,244.2C142.3,243.9 144.0,243.5 145.7,243.1C147.4,242.8 149.1,242.2 150.8,242.1C152.6,241.9 154.3,241.9 156.0,242.1C157.7,242.2 159.4,242.5 161.1,242.8C162.8,243.0 164.5,243.4 166.2,243.5C167.9,243.5 169.7,243.3 171.4,243.3C173.1,243.2 175.6,243.1 176.5,243.1L176.5,250.1C175.6,250.1 173.1,250.2 171.4,250.3C169.7,250.3 167.9,250.5 166.2,250.5C164.5,250.4 162.8,250.0 161.1,249.8C159.4,249.5 157.7,249.2 156.0,249.1C154.3,248.9 152.6,248.9 150.8,249.1C149.1,249.2 147.4,249.8 145.7,250.1C144.0,250.5 142.3,250.9 140.6,251.2C138.9,251.4 137.2,251.6 135.5,251.5C133.7,251.4 132.0,250.7 130.3,250.5C128.6,250.2 126.9,250.3 125.2,250.1C123.5,249.9 121.8,249.5 120.1,249.1C118.4,248.6 116.6,247.2 114.9,247.1C113.2,247.1 111.5,248.1 109.8,248.7C108.1,249.3 106.4,250.0 104.7,250.8C103.0,251.6 101.3,252.6 99.5,253.4C97.8,254.2 96.1,255.3 94.4,255.5C92.7,255.7 91.0,255.3 89.3,254.5C87.6,253.7 85.9,251.9 84.2,250.8C82.4,249.7 80.7,248.5 79.0,247.7C77.3,246.8 75.6,245.9 73.9,245.6C72.2,245.2 70.5,245.9 68.8,245.6C67.1,245.2 65.3,243.8 63.6,243.7C61.9,243.6 59.4,244.6 58.5,244.8Z" fill="#dde0f4" fill-opacity="1.0" stroke="#8c92d0" stroke-width="1.1"/><path d="M58.5,244.2C59.4,244.0 61.9,243.6 63.6,243.1C65.3,242.6 67.1,242.0 68.8,241.0C70.5,240.1 72.2,238.6 73.9,237.3C75.6,236.1 77.3,235.0 79.0,233.7C80.7,232.3 82.4,230.9 84.2,229.1C85.9,227.3 88.0,224.2 89.3,222.8C90.6,221.4 91.0,220.8 91.8,220.7C92.7,220.6 93.1,221.2 94.4,222.3C95.7,223.4 97.8,226.0 99.5,227.6C101.3,229.1 103.0,230.3 104.7,231.6C106.4,232.9 108.1,234.3 109.8,235.2C111.5,236.2 113.2,237.4 114.9,237.3C116.6,237.3 118.4,235.5 120.1,234.7C121.8,233.9 123.5,233.3 125.2,232.6C126.9,232.0 128.6,231.2 130.3,230.7C132.0,230.2 133.7,229.7 135.5,229.8C137.2,229.9 138.9,230.6 140.6,231.2C142.3,231.9 144.0,233.0 145.7,233.7C147.4,234.3 149.1,235.2 150.8,235.2C152.6,235.3 154.3,234.7 156.0,234.2C157.7,233.7 159.4,233.0 161.1,232.4C162.8,231.9 164.5,231.2 166.2,230.7C167.9,230.2 169.7,229.5 171.4,229.3C173.1,229.1 175.6,229.6 176.5,229.6" fill="none" stroke="#cd3722" stroke-width="1.6"/><path d="M58.5,244.2C59.4,244.0 61.9,243.5 63.6,243.1C65.3,242.8 67.1,242.2 68.8,242.1C70.5,241.9 72.2,241.7 73.9,242.1C75.6,242.4 77.3,243.3 79.0,244.2C80.7,245.0 82.4,246.2 84.2,247.3C85.9,248.4 87.6,250.2 89.3,251.0C91.0,251.8 92.7,252.2 94.4,252.0C96.1,251.9 97.8,250.7 99.5,249.9C101.3,249.1 103.0,248.1 104.7,247.3C106.4,246.5 108.1,245.8 109.8,245.2C111.5,244.6 113.2,243.6 114.9,243.6C116.6,243.7 118.4,245.1 120.1,245.6C121.8,246.1 123.5,246.4 125.2,246.6C126.9,246.8 128.6,246.7 130.3,247.0C132.0,247.2 133.7,247.9 135.5,248.0C137.2,248.1 138.9,247.9 140.6,247.7C142.3,247.4 144.0,247.0 145.7,246.6C147.4,246.3 149.1,245.7 150.8,245.6C152.6,245.4 154.3,245.4 156.0,245.6C157.7,245.7 159.4,246.0 161.1,246.3C162.8,246.5 164.5,246.9 166.2,247.0C167.9,247.0 169.7,246.8 171.4,246.8C173.1,246.7 175.6,246.6 176.5,246.6" fill="none" stroke="#4b56ad" stroke-width="1.6"/></g>
<line x1="69.0" y1="281.8" x2="69.0" y2="280.3" stroke="#222" stroke-width="1"/>
<line x1="69.0" y1="205.1" x2="69.0" y2="206.6" stroke="#222" stroke-width="1"/>
<line x1="120.3" y1="281.8" x2="120.3" y2="280.3" stroke="#222" stroke-width="1"/>
<line x1="120.3" y1="205.1" x2="120.3" y2="206.6" stroke="#222" stroke-width="1"/>
<line x1="171.6" y1="281.8" x2="171.6" y2="280.3" stroke="#222" stroke-width="1"/>
<line x1="171.6" y1="205.1" x2="171.6" y2="206.6" stroke="#222" stroke-width="1"/>
<line x1="58.7" y1="281.8" x2="60.2" y2="281.8" stroke="#222" stroke-width="1"/>
<line x1="176.7" y1="281.8" x2="175.2" y2="281.8" stroke="#222" stroke-width="1"/>
<line x1="58.7" y1="262.6" x2="60.2" y2="262.6" stroke="#222" stroke-width="1"/>
<line x1="176.7" y1="262.6" x2="175.2" y2="262.6" stroke="#222" stroke-width="1"/>
<line x1="58.7" y1="243.4" x2="60.2" y2="243.4" stroke="#222" stroke-width="1"/>
<line x1="176.7" y1="243.4" x2="175.2" y2="243.4" stroke="#222" stroke-width="1"/>
<line x1="58.7" y1="224.3" x2="60.2" y2="224.3" stroke="#222" stroke-width="1"/>
<line x1="176.7" y1="224.3" x2="175.2" y2="224.3" stroke="#222" stroke-width="1"/>
<line x1="58.7" y1="205.1" x2="60.2" y2="205.1" stroke="#222" stroke-width="1"/>
<line x1="176.7" y1="205.1" x2="175.2" y2="205.1" stroke="#222" stroke-width="1"/>
<rect x="56.9" y="203.0" width="122.1" height="80.9" fill="none" stroke="#000" stroke-width="4.6"/>
<text x="69.0" y="299.9" text-anchor="middle" font-size="16" font-family="Liberation Sans, sans-serif" stroke="#000" stroke-width="0.45" fill="#000">0</text>
<text x="120.3" y="299.9" text-anchor="middle" font-size="16" font-family="Liberation Sans, sans-serif" stroke="#000" stroke-width="0.45" fill="#000">10</text>
<text x="171.6" y="299.9" text-anchor="middle" font-size="16" font-family="Liberation Sans, sans-serif" stroke="#000" stroke-width="0.45" fill="#000">20</text>
<text x="52.5" y="210.5" text-anchor="end" font-size="16" font-family="Liberation Sans, sans-serif" stroke="#000" stroke-width="0.45" fill="#000">0.4</text>
<text x="52.5" y="229.7" text-anchor="end" font-size="16" font-family="Liberation Sans, sans-serif" stroke="#000" stroke-width="0.45" fill="#000">0.2</text>
<text x="52.5" y="248.8" text-anchor="end" font-size="16" font-family="Liberation Sans, sans-serif" stroke="#000" stroke-width="0.45" fill="#000">0</text>
<text x="52.5" y="268.0" text-anchor="end" font-size="16" font-family="Liberation Sans, sans-serif" stroke="#000" stroke-width="0.45" fill="#000">-0.2</text>
<text x="52.5" y="287.2" text-anchor="end" font-size="16" font-family="Liberation Sans, sans-serif" stroke="#000" stroke-width="0.45" fill="#000">-0.4</text>
<text transform="translate(16.2 245.2) rotate(-90)" x="0" y="0" text-anchor="middle" font-size="16" letter-spacing="0.45" font-family="Liberation Sans, sans-serif" stroke="#000" stroke-width="0.45" fill="#000">dConc (<tspan font-style="italic">μ</tspan>M)</text>
<text x="246.6" y="194.1" text-anchor="middle" font-size="16" letter-spacing="0.5" font-family="Liberation Sans, sans-serif" stroke="#000" stroke-width="0.45" fill="#000">channel 4-R</text>
<rect x="213.3" y="207.5" width="25.7" height="71.9" fill="#e3e3e3"/>
<clipPath id="c11"><rect x="187.6" y="205.1" width="118.0" height="76.7"/></clipPath>
<g clip-path="url(#c11)"><path d="M188.0,243.3C188.9,243.5 191.4,245.0 193.1,244.5C194.8,244.0 196.6,241.7 198.3,240.3C200.0,239.0 201.7,237.7 203.4,236.3C205.1,234.9 206.8,233.6 208.5,231.9C210.2,230.2 211.9,227.6 213.7,226.0C215.4,224.3 217.1,222.3 218.8,222.0C220.5,221.6 222.2,222.7 223.9,224.1C225.6,225.5 227.3,227.6 229.0,230.3C230.8,232.9 232.5,237.5 234.2,240.1C235.9,242.7 238.2,244.7 239.3,245.7C240.4,246.7 240.0,246.7 240.8,246.2C241.7,245.6 243.0,243.6 244.4,242.3C245.9,241.0 247.9,239.4 249.6,238.3C251.3,237.1 253.0,236.4 254.7,235.3C256.4,234.3 258.1,232.6 259.8,231.9C261.5,231.2 263.2,230.9 265.0,231.0C266.7,231.2 268.4,232.0 270.1,233.0C271.8,233.9 273.5,235.8 275.2,236.8C276.9,237.8 278.6,239.0 280.3,238.9C282.1,238.8 283.8,237.2 285.5,236.0C287.2,234.9 288.9,233.2 290.6,232.1C292.3,231.1 294.0,230.5 295.7,229.8C297.4,229.1 299.2,228.3 300.9,227.8C302.6,227.3 305.1,227.2 306.0,227.0L306.0,236.8C305.1,237.0 302.6,237.5 300.9,238.1C299.2,238.8 297.4,239.8 295.7,240.7C294.0,241.6 292.3,242.4 290.6,243.6C288.9,244.8 287.2,246.8 285.5,248.1C283.8,249.4 282.1,251.1 280.3,251.5C278.6,251.9 276.9,251.1 275.2,250.5C273.5,249.8 271.8,248.3 270.1,247.7C268.4,247.0 266.7,246.9 265.0,246.8C263.2,246.7 261.5,246.5 259.8,247.0C258.1,247.5 256.4,249.0 254.7,249.8C253.0,250.7 251.3,251.2 249.6,252.1C247.9,253.1 245.9,254.4 244.4,255.5C243.0,256.6 241.7,258.5 240.8,258.9C240.0,259.4 240.4,259.2 239.3,258.3C238.2,257.4 235.9,255.8 234.2,253.5C232.5,251.2 230.8,246.8 229.0,244.4C227.3,242.0 225.6,240.2 223.9,239.0C222.2,237.9 220.5,237.8 218.8,237.7C217.1,237.6 215.4,237.7 213.7,238.2C211.9,238.7 210.2,240.1 208.5,240.7C206.8,241.2 205.1,241.0 203.4,241.5C201.7,242.1 200.0,243.2 198.3,243.8C196.6,244.4 194.8,244.9 193.1,244.9C191.4,244.9 188.9,243.8 188.0,243.6Z" fill="#fde2da" fill-opacity="1.0" stroke="#ef9381" stroke-width="1.1"/><path d="M188.0,242.9C188.9,243.0 191.4,243.5 193.1,243.1C194.8,242.7 196.6,241.0 198.3,240.7C200.0,240.4 201.7,241.1 203.4,241.4C205.1,241.6 206.8,241.6 208.5,242.1C210.2,242.5 211.9,243.4 213.7,244.2C215.4,244.9 217.1,246.4 218.8,246.8C220.5,247.1 222.2,246.9 223.9,246.3C225.6,245.6 227.3,244.2 229.0,243.1C230.8,242.0 232.5,240.4 234.2,239.4C235.9,238.5 237.6,237.4 239.3,237.3C241.0,237.3 242.7,238.5 244.4,238.9C246.1,239.4 247.9,239.5 249.6,240.0C251.3,240.4 253.0,241.0 254.7,241.5C256.4,242.1 258.1,242.8 259.8,243.1C261.5,243.5 263.2,243.7 265.0,243.6C266.7,243.5 268.4,242.9 270.1,242.6C271.8,242.2 273.5,241.7 275.2,241.5C276.9,241.3 278.6,241.4 280.3,241.4C282.1,241.4 283.8,241.4 285.5,241.5C287.2,241.7 288.9,241.9 290.6,242.1C292.3,242.2 294.0,242.4 295.7,242.6C297.4,242.8 299.2,243.0 300.9,243.1C302.6,243.3 305.1,243.4 306.0,243.5L306.0,249.8C305.1,249.7 302.6,249.5 300.9,249.4C299.2,249.3 297.4,249.1 295.7,248.9C294.0,248.7 292.3,248.5 290.6,248.4C288.9,248.2 287.2,247.9 285.5,247.8C283.8,247.7 282.1,247.7 280.3,247.7C278.6,247.7 276.9,247.6 275.2,247.8C273.5,248.0 271.8,248.5 270.1,248.9C268.4,249.2 266.7,249.8 265.0,249.9C263.2,250.0 261.5,249.8 259.8,249.4C258.1,249.1 256.4,248.4 254.7,247.8C253.0,247.3 251.3,246.7 249.6,246.3C247.9,245.8 246.1,245.6 244.4,245.2C242.7,244.8 241.0,243.5 239.3,243.6C237.6,243.7 235.9,244.8 234.2,245.7C232.5,246.7 230.8,248.3 229.0,249.4C227.3,250.5 225.6,251.9 223.9,252.5C222.2,253.2 220.5,253.4 218.8,253.1C217.1,252.7 215.4,251.2 213.7,250.5C211.9,249.7 210.2,248.8 208.5,248.4C206.8,247.9 205.1,247.9 203.4,247.7C201.7,247.4 200.0,247.5 198.3,247.0C196.6,246.4 194.8,244.7 193.1,244.2C191.4,243.7 188.9,244.0 188.0,244.0Z" fill="#dde0f4" fill-opacity="1.0" stroke="#8c92d0" stroke-width="1.1"/><path d="M188.0,243.5C188.9,243.7 191.4,244.9 193.1,244.7C194.8,244.4 196.6,243.0 198.3,242.1C200.0,241.1 201.7,239.9 203.4,238.9C205.1,238.0 206.8,237.4 208.5,236.3C210.2,235.2 211.9,233.2 213.7,232.1C215.4,231.0 217.1,229.9 218.8,229.8C220.5,229.7 222.2,230.3 223.9,231.6C225.6,232.8 227.3,234.8 229.0,237.3C230.8,239.9 232.5,244.3 234.2,246.8C235.9,249.2 238.2,251.1 239.3,252.0C240.4,253.0 240.0,253.1 240.8,252.5C241.7,252.0 243.0,250.1 244.4,248.9C245.9,247.7 247.9,246.3 249.6,245.2C251.3,244.2 253.0,243.5 254.7,242.6C256.4,241.6 258.1,240.1 259.8,239.4C261.5,238.8 263.2,238.8 265.0,238.9C266.7,239.1 268.4,239.5 270.1,240.3C271.8,241.1 273.5,242.8 275.2,243.6C276.9,244.4 278.6,245.5 280.3,245.2C282.1,244.9 283.8,243.3 285.5,242.1C287.2,240.8 288.9,239.0 290.6,237.9C292.3,236.7 294.0,236.1 295.7,235.2C297.4,234.4 299.2,233.5 300.9,233.0C302.6,232.4 305.1,232.1 306.0,231.9" fill="none" stroke="#cd3722" stroke-width="1.6"/><path d="M188.0,243.5C188.9,243.5 191.4,243.6 193.1,243.6C194.8,243.7 196.6,243.7 198.3,243.8C200.0,244.0 201.7,244.3 203.4,244.5C205.1,244.7 206.8,244.7 208.5,245.2C210.2,245.7 211.9,246.5 213.7,247.3C215.4,248.1 217.1,249.6 218.8,249.9C220.5,250.3 222.2,250.0 223.9,249.4C225.6,248.8 227.3,247.4 229.0,246.3C230.8,245.1 232.5,243.5 234.2,242.6C235.9,241.6 237.6,240.6 239.3,240.5C241.0,240.4 242.7,241.6 244.4,242.1C246.1,242.5 247.9,242.7 249.6,243.1C251.3,243.5 253.0,244.2 254.7,244.7C256.4,245.2 258.1,245.9 259.8,246.3C261.5,246.6 263.2,246.9 265.0,246.8C266.7,246.7 268.4,246.1 270.1,245.7C271.8,245.4 273.5,244.9 275.2,244.7C276.9,244.5 278.6,244.5 280.3,244.5C282.1,244.5 283.8,244.6 285.5,244.7C287.2,244.8 288.9,245.0 290.6,245.2C292.3,245.4 294.0,245.6 295.7,245.7C297.4,245.9 299.2,246.1 300.9,246.3C302.6,246.4 305.1,246.5 306.0,246.6" fill="none" stroke="#4b56ad" stroke-width="1.6"/></g>
<line x1="197.9" y1="281.8" x2="197.9" y2="280.3" stroke="#222" stroke-width="1"/>
<line x1="197.9" y1="205.1" x2="197.9" y2="206.6" stroke="#222" stroke-width="1"/>
<line x1="249.2" y1="281.8" x2="249.2" y2="280.3" stroke="#222" stroke-width="1"/>
<line x1="249.2" y1="205.1" x2="249.2" y2="206.6" stroke="#222" stroke-width="1"/>
<line x1="300.5" y1="281.8" x2="300.5" y2="280.3" stroke="#222" stroke-width="1"/>
<line x1="300.5" y1="205.1" x2="300.5" y2="206.6" stroke="#222" stroke-width="1"/>
<line x1="187.6" y1="281.8" x2="189.1" y2="281.8" stroke="#222" stroke-width="1"/>
<line x1="305.6" y1="281.8" x2="304.1" y2="281.8" stroke="#222" stroke-width="1"/>
<line x1="187.6" y1="262.6" x2="189.1" y2="262.6" stroke="#222" stroke-width="1"/>
<line x1="305.6" y1="262.6" x2="304.1" y2="262.6" stroke="#222" stroke-width="1"/>
<line x1="187.6" y1="243.4" x2="189.1" y2="243.4" stroke="#222" stroke-width="1"/>
<line x1="305.6" y1="243.4" x2="304.1" y2="243.4" stroke="#222" stroke-width="1"/>
<line x1="187.6" y1="224.3" x2="189.1" y2="224.3" stroke="#222" stroke-width="1"/>
<line x1="305.6" y1="224.3" x2="304.1" y2="224.3" stroke="#222" stroke-width="1"/>
<line x1="187.6" y1="205.1" x2="189.1" y2="205.1" stroke="#222" stroke-width="1"/>
<line x1="305.6" y1="205.1" x2="304.1" y2="205.1" stroke="#222" stroke-width="1"/>
<rect x="187.6" y="205.1" width="118.0" height="76.7" fill="none" stroke="#000" stroke-width="1.45"/>
<text x="197.9" y="299.9" text-anchor="middle" font-size="16" font-family="Liberation Sans, sans-serif" stroke="#000" stroke-width="0.45" fill="#000">0</text>
<text x="249.2" y="299.9" text-anchor="middle" font-size="16" font-family="Liberation Sans, sans-serif" stroke="#000" stroke-width="0.45" fill="#000">10</text>
<text x="300.5" y="299.9" text-anchor="middle" font-size="16" font-family="Liberation Sans, sans-serif" stroke="#000" stroke-width="0.45" fill="#000">20</text>
<text x="479.3" y="194.1" text-anchor="middle" font-size="16" letter-spacing="0.5" font-family="Liberation Sans, sans-serif" stroke="#000" stroke-width="0.45" fill="#000">channel 4-L</text>
<rect x="446.0" y="207.5" width="25.7" height="71.9" fill="#e3e3e3"/>
<clipPath id="c12"><rect x="420.3" y="205.1" width="118.0" height="76.7"/></clipPath>
<g clip-path="url(#c12)"><path d="M420.0,245.0C420.9,244.5 423.4,243.7 425.1,242.2C426.8,240.7 428.6,237.4 430.3,236.1C432.0,234.7 433.7,234.0 435.4,233.8C437.1,233.7 438.8,234.5 440.5,235.2C442.2,235.9 443.9,237.2 445.7,238.0C447.4,238.7 449.1,238.8 450.8,239.7C452.5,240.5 454.2,241.4 455.9,242.9C457.6,244.5 459.3,247.0 461.0,249.1C462.8,251.1 464.5,253.3 466.2,255.2C467.9,257.1 470.0,259.2 471.3,260.3C472.6,261.4 473.0,262.1 473.9,261.8C474.7,261.6 475.6,260.1 476.4,258.9C477.3,257.6 478.1,256.4 479.0,254.3C479.9,252.3 480.3,249.8 481.6,246.7C482.8,243.5 485.0,238.0 486.7,235.5C488.4,233.0 490.1,232.4 491.8,231.7C493.5,231.0 495.2,230.7 497.0,231.2C498.7,231.8 500.4,233.3 502.1,235.1C503.8,236.8 505.5,239.3 507.2,241.5C508.9,243.8 511.1,246.9 512.3,248.5C513.6,250.2 514.1,250.9 514.9,251.5C515.8,252.1 516.2,252.7 517.5,252.4C518.8,252.1 520.9,250.7 522.6,249.6C524.3,248.5 526.0,246.6 527.7,245.8C529.4,245.0 531.2,244.9 532.9,244.6C534.6,244.4 537.1,244.5 538.0,244.5L538.0,253.2C537.1,253.2 534.6,253.0 532.9,253.1C531.2,253.2 529.4,253.3 527.7,254.0C526.0,254.8 524.3,256.6 522.6,257.6C520.9,258.6 518.8,259.7 517.5,260.1C516.2,260.5 515.8,260.3 514.9,259.9C514.1,259.5 513.6,258.9 512.3,257.6C511.1,256.3 508.9,253.8 507.2,252.0C505.5,250.2 503.8,248.2 502.1,247.0C500.4,245.7 498.7,244.8 497.0,244.5C495.2,244.2 493.5,244.5 491.8,245.1C490.1,245.6 488.4,245.5 486.7,247.5C485.0,249.6 482.8,254.6 481.6,257.4C480.3,260.2 479.9,262.6 479.0,264.4C478.1,266.2 477.3,267.2 476.4,268.3C475.6,269.3 474.7,270.4 473.9,270.6C473.0,270.7 472.6,270.1 471.3,268.9C470.0,267.7 467.9,265.5 466.2,263.5C464.5,261.5 462.8,259.2 461.0,257.1C459.3,254.9 457.6,252.2 455.9,250.6C454.2,249.1 452.5,248.4 450.8,247.6C449.1,246.9 447.4,246.8 445.7,246.2C443.9,245.5 442.2,244.3 440.5,243.7C438.8,243.1 437.1,242.7 435.4,242.6C433.7,242.4 432.0,242.8 430.3,242.8C428.6,242.9 426.8,242.6 425.1,243.0C423.4,243.4 420.9,245.0 420.0,245.4Z" fill="#fde2da" fill-opacity="1.0" stroke="#ef9381" stroke-width="1.1"/><path d="M420.0,241.0C420.9,241.4 423.4,243.4 425.1,243.6C426.8,243.8 428.6,242.1 430.3,242.1C432.0,242.1 433.7,243.5 435.4,243.6C437.1,243.8 438.8,243.5 440.5,243.1C442.2,242.8 443.9,242.0 445.7,241.5C447.4,241.1 449.1,241.1 450.8,240.5C452.5,239.9 454.2,238.9 455.9,237.9C457.6,236.8 459.3,235.3 461.0,234.2C462.8,233.1 464.5,232.0 466.2,231.0C467.9,230.1 470.0,228.9 471.3,228.4C472.6,227.9 473.0,227.6 473.9,228.1C474.7,228.5 475.6,230.4 476.4,231.0C477.3,231.7 478.1,231.2 479.0,232.1C479.9,233.0 480.3,234.5 481.6,236.3C482.8,238.1 485.0,241.5 486.7,243.1C488.4,244.7 490.1,245.3 491.8,245.7C493.5,246.2 495.2,246.3 497.0,245.7C498.7,245.2 500.4,243.9 502.1,242.6C503.8,241.3 505.5,239.3 507.2,237.9C508.9,236.5 511.1,235.0 512.3,234.2C513.6,233.4 514.1,233.1 514.9,233.1C515.8,233.1 516.2,233.7 517.5,234.2C518.8,234.7 520.9,235.9 522.6,236.3C524.3,236.7 526.0,236.7 527.7,236.8C529.4,236.9 531.2,236.7 532.9,236.8C534.6,236.9 537.1,237.3 538.0,237.3L538.0,243.6C537.1,243.5 534.6,243.2 532.9,243.1C531.2,243.0 529.4,243.2 527.7,243.1C526.0,243.0 524.3,243.0 522.6,242.6C520.9,242.1 518.8,241.0 517.5,240.5C516.2,240.0 515.8,239.4 514.9,239.4C514.1,239.4 513.6,239.7 512.3,240.5C511.1,241.3 508.9,242.8 507.2,244.2C505.5,245.6 503.8,247.6 502.1,248.9C500.4,250.2 498.7,251.5 497.0,252.0C495.2,252.5 493.5,252.5 491.8,252.0C490.1,251.6 488.4,251.0 486.7,249.4C485.0,247.8 482.8,244.4 481.6,242.6C480.3,240.7 479.9,239.3 479.0,238.4C478.1,237.5 477.3,238.0 476.4,237.3C475.6,236.7 474.7,234.8 473.9,234.4C473.0,233.9 472.6,234.2 471.3,234.7C470.0,235.2 467.9,236.4 466.2,237.3C464.5,238.3 462.8,239.4 461.0,240.5C459.3,241.6 457.6,243.1 455.9,244.2C454.2,245.2 452.5,246.2 450.8,246.8C449.1,247.4 447.4,247.4 445.7,247.8C443.9,248.3 442.2,249.1 440.5,249.4C438.8,249.8 437.1,250.1 435.4,249.9C433.7,249.8 432.0,249.2 430.3,248.4C428.6,247.5 426.8,245.7 425.1,244.7C423.4,243.6 420.9,242.5 420.0,242.1Z" fill="#dde0f4" fill-opacity="1.0" stroke="#8c92d0" stroke-width="1.1"/><path d="M420.0,245.2C420.9,244.8 423.4,243.5 425.1,242.6C426.8,241.6 428.6,240.2 430.3,239.4C432.0,238.7 433.7,238.2 435.4,238.2C437.1,238.2 438.8,238.8 440.5,239.4C442.2,240.1 443.9,241.4 445.7,242.1C447.4,242.8 449.1,242.8 450.8,243.6C452.5,244.4 454.2,245.2 455.9,246.8C457.6,248.4 459.3,251.0 461.0,253.1C462.8,255.2 464.5,257.4 466.2,259.4C467.9,261.3 470.0,263.5 471.3,264.6C472.6,265.7 473.0,266.4 473.9,266.2C474.7,266.0 475.6,264.7 476.4,263.6C477.3,262.4 478.1,261.3 479.0,259.4C479.9,257.4 480.3,255.0 481.6,252.0C482.8,249.1 485.0,243.8 486.7,241.5C488.4,239.3 490.1,239.0 491.8,238.4C493.5,237.8 495.2,237.4 497.0,237.9C498.7,238.3 500.4,239.5 502.1,241.0C503.8,242.5 505.5,244.8 507.2,246.8C508.9,248.8 511.1,251.6 512.3,253.1C513.6,254.6 514.1,255.2 514.9,255.7C515.8,256.2 516.2,256.6 517.5,256.2C518.8,255.9 520.9,254.6 522.6,253.6C524.3,252.5 526.0,250.7 527.7,249.9C529.4,249.1 531.2,249.1 532.9,248.9C534.6,248.7 537.1,248.9 538.0,248.9" fill="none" stroke="#cd3722" stroke-width="1.6"/><path d="M420.0,241.5C420.9,242.0 423.4,243.5 425.1,244.2C426.8,244.8 428.6,244.8 430.3,245.2C432.0,245.6 433.7,246.6 435.4,246.8C437.1,247.0 438.8,246.6 440.5,246.3C442.2,245.9 443.9,245.1 445.7,244.7C447.4,244.2 449.1,244.2 450.8,243.6C452.5,243.0 454.2,242.1 455.9,241.0C457.6,240.0 459.3,238.5 461.0,237.3C462.8,236.2 464.5,235.2 466.2,234.2C467.9,233.2 470.0,232.1 471.3,231.6C472.6,231.1 473.0,230.8 473.9,231.2C474.7,231.7 475.6,233.5 476.4,234.2C477.3,234.9 478.1,234.4 479.0,235.2C479.9,236.1 480.3,237.6 481.6,239.4C482.8,241.3 485.0,244.7 486.7,246.3C488.4,247.8 490.1,248.4 491.8,248.9C493.5,249.3 495.2,249.4 497.0,248.9C498.7,248.4 500.4,247.0 502.1,245.7C503.8,244.4 505.5,242.4 507.2,241.0C508.9,239.6 511.1,238.1 512.3,237.3C513.6,236.6 514.1,236.3 514.9,236.3C515.8,236.3 516.2,236.8 517.5,237.3C518.8,237.9 520.9,239.0 522.6,239.4C524.3,239.9 526.0,239.9 527.7,240.0C529.4,240.1 531.2,239.9 532.9,240.0C534.6,240.1 537.1,240.4 538.0,240.5" fill="none" stroke="#4b56ad" stroke-width="1.6"/></g>
<line x1="430.6" y1="281.8" x2="430.6" y2="280.3" stroke="#222" stroke-width="1"/>
<line x1="430.6" y1="205.1" x2="430.6" y2="206.6" stroke="#222" stroke-width="1"/>
<line x1="481.9" y1="281.8" x2="481.9" y2="280.3" stroke="#222" stroke-width="1"/>
<line x1="481.9" y1="205.1" x2="481.9" y2="206.6" stroke="#222" stroke-width="1"/>
<line x1="533.2" y1="281.8" x2="533.2" y2="280.3" stroke="#222" stroke-width="1"/>
<line x1="533.2" y1="205.1" x2="533.2" y2="206.6" stroke="#222" stroke-width="1"/>
<line x1="420.3" y1="281.8" x2="421.8" y2="281.8" stroke="#222" stroke-width="1"/>
<line x1="538.3" y1="281.8" x2="536.8" y2="281.8" stroke="#222" stroke-width="1"/>
<line x1="420.3" y1="262.6" x2="421.8" y2="262.6" stroke="#222" stroke-width="1"/>
<line x1="538.3" y1="262.6" x2="536.8" y2="262.6" stroke="#222" stroke-width="1"/>
<line x1="420.3" y1="243.4" x2="421.8" y2="243.4" stroke="#222" stroke-width="1"/>
<line x1="538.3" y1="243.4" x2="536.8" y2="243.4" stroke="#222" stroke-width="1"/>
<line x1="420.3" y1="224.3" x2="421.8" y2="224.3" stroke="#222" stroke-width="1"/>
<line x1="538.3" y1="224.3" x2="536.8" y2="224.3" stroke="#222" stroke-width="1"/>
<line x1="420.3" y1="205.1" x2="421.8" y2="205.1" stroke="#222" stroke-width="1"/>
<line x1="538.3" y1="205.1" x2="536.8" y2="205.1" stroke="#222" stroke-width="1"/>
<rect x="418.5" y="203.0" width="122.1" height="80.9" fill="none" stroke="#000" stroke-width="4.6"/>
<text x="430.6" y="299.9" text-anchor="middle" font-size="16" font-family="Liberation Sans, sans-serif" stroke="#000" stroke-width="0.45" fill="#000">0</text>
<text x="481.9" y="299.9" text-anchor="middle" font-size="16" font-family="Liberation Sans, sans-serif" stroke="#000" stroke-width="0.45" fill="#000">10</text>
<text x="533.2" y="299.9" text-anchor="middle" font-size="16" font-family="Liberation Sans, sans-serif" stroke="#000" stroke-width="0.45" fill="#000">20</text>
<text x="414.1" y="210.5" text-anchor="end" font-size="16" font-family="Liberation Sans, sans-serif" stroke="#000" stroke-width="0.45" fill="#000">0.4</text>
<text x="414.1" y="229.7" text-anchor="end" font-size="16" font-family="Liberation Sans, sans-serif" stroke="#000" stroke-width="0.45" fill="#000">0.2</text>
<text x="414.1" y="248.8" text-anchor="end" font-size="16" font-family="Liberation Sans, sans-serif" stroke="#000" stroke-width="0.45" fill="#000">0</text>
<text x="414.1" y="268.0" text-anchor="end" font-size="16" font-family="Liberation Sans, sans-serif" stroke="#000" stroke-width="0.45" fill="#000">-0.2</text>
<text x="414.1" y="287.2" text-anchor="end" font-size="16" font-family="Liberation Sans, sans-serif" stroke="#000" stroke-width="0.45" fill="#000">-0.4</text>
<text x="607.9" y="194.1" text-anchor="middle" font-size="16" letter-spacing="0.5" font-family="Liberation Sans, sans-serif" stroke="#000" stroke-width="0.45" fill="#000">channel 4-R</text>
<rect x="574.6" y="207.5" width="25.7" height="71.9" fill="#e3e3e3"/>
<clipPath id="c13"><rect x="548.9" y="205.1" width="118.0" height="76.7"/></clipPath>
<g clip-path="url(#c13)"><path d="M549.0,246.5C549.9,245.7 552.4,243.1 554.1,241.8C555.8,240.4 557.6,239.4 559.3,238.5C561.0,237.6 562.7,237.1 564.4,236.1C566.1,235.1 567.8,233.5 569.5,232.6C571.2,231.7 572.9,231.2 574.7,230.6C576.4,230.0 578.1,229.7 579.8,229.2C581.5,228.6 583.6,227.6 584.9,227.2C586.2,226.8 586.6,226.4 587.5,226.8C588.3,227.1 588.8,227.8 590.0,229.3C591.3,230.8 593.5,233.9 595.2,235.6C596.9,237.3 598.6,239.3 600.3,239.3C602.0,239.3 603.7,236.4 605.4,235.6C607.1,234.9 608.9,234.5 610.6,234.6C612.3,234.7 614.0,236.3 615.7,236.2C617.4,236.2 619.5,234.9 620.8,234.2C622.1,233.5 622.5,232.4 623.4,232.1C624.2,231.8 624.7,231.6 626.0,232.5C627.2,233.5 629.4,235.8 631.1,237.6C632.8,239.4 634.5,241.7 636.2,243.2C637.9,244.7 640.1,246.0 641.3,246.7C642.6,247.4 643.1,247.9 643.9,247.7C644.8,247.4 645.2,245.9 646.5,245.0C647.8,244.2 649.9,243.2 651.6,242.4C653.3,241.6 655.0,241.4 656.7,240.3C658.4,239.3 660.2,237.8 661.9,236.1C663.6,234.5 666.1,231.3 667.0,230.3L667.0,240.1C666.1,241.1 663.6,244.2 661.9,245.9C660.2,247.6 658.4,249.1 656.7,250.1C655.0,251.2 653.3,251.4 651.6,252.2C649.9,253.0 647.8,253.9 646.5,254.8C645.2,255.7 644.8,257.2 643.9,257.4C643.1,257.7 642.6,257.1 641.3,256.3C640.1,255.5 637.9,254.1 636.2,252.5C634.5,250.8 632.8,248.4 631.1,246.5C629.4,244.6 627.2,242.1 626.0,241.1C624.7,240.1 624.2,240.2 623.4,240.5C622.5,240.7 622.1,241.9 620.8,242.6C619.5,243.3 617.4,244.6 615.7,244.7C614.0,244.8 612.3,243.3 610.6,243.2C608.9,243.1 607.1,243.5 605.4,244.3C603.7,245.1 602.0,247.8 600.3,248.0C598.6,248.2 596.9,246.7 595.2,245.4C593.5,244.1 591.3,241.3 590.0,240.1C588.8,238.9 588.3,238.3 587.5,238.1C586.6,238.0 586.2,238.9 584.9,239.1C583.6,239.3 581.5,239.3 579.8,239.2C578.1,239.2 576.4,238.9 574.7,238.8C572.9,238.8 571.2,238.7 569.5,239.0C567.8,239.3 566.1,240.1 564.4,240.7C562.7,241.2 561.0,242.2 559.3,242.5C557.6,242.7 555.8,241.6 554.1,242.3C552.4,243.1 549.9,246.2 549.0,247.0Z" fill="#fde2da" fill-opacity="1.0" stroke="#ef9381" stroke-width="1.1"/><path d="M549.0,242.1C549.9,242.3 552.4,243.5 554.1,243.1C555.8,242.7 557.6,240.8 559.3,239.8C561.0,238.9 562.7,237.7 564.4,237.5C566.1,237.4 567.8,237.8 569.5,238.9C571.2,239.9 572.9,242.8 574.7,243.9C576.4,244.9 578.1,244.8 579.8,245.2C581.5,245.6 583.6,245.6 584.9,246.0C586.2,246.4 586.6,247.6 587.5,247.5C588.3,247.4 588.8,246.6 590.0,245.5C591.3,244.5 593.5,242.3 595.2,241.1C596.9,239.9 598.6,238.1 600.3,238.3C602.0,238.4 603.7,241.0 605.4,242.1C607.1,243.1 608.9,244.2 610.6,244.7C612.3,245.2 614.0,245.1 615.7,245.0C617.4,245.0 619.1,244.9 620.8,244.5C622.5,244.2 624.2,243.7 626.0,242.9C627.7,242.1 629.4,240.7 631.1,239.8C632.8,238.9 634.5,238.3 636.2,237.7C637.9,237.1 640.1,236.5 641.3,236.1C642.6,235.8 643.1,235.3 643.9,235.6C644.8,235.9 645.2,236.9 646.5,237.7C647.8,238.5 649.9,239.8 651.6,240.3C653.3,240.8 655.0,240.4 656.7,240.8C658.4,241.3 660.2,242.1 661.9,242.9C663.6,243.7 666.1,245.1 667.0,245.6L667.0,253.2C666.1,252.8 663.6,251.4 661.9,250.6C660.2,249.8 658.4,249.0 656.7,248.5C655.0,248.1 653.3,248.5 651.6,248.0C649.9,247.5 647.8,246.2 646.5,245.4C645.2,244.6 644.8,243.5 643.9,243.3C643.1,243.0 642.6,243.5 641.3,243.8C640.1,244.2 637.9,244.8 636.2,245.4C634.5,246.0 632.8,246.6 631.1,247.5C629.4,248.4 627.7,249.8 626.0,250.6C624.2,251.4 622.5,251.9 620.8,252.2C619.1,252.5 617.4,252.8 615.7,252.7C614.0,252.7 612.3,252.6 610.6,252.0C608.9,251.4 607.1,250.1 605.4,249.1C603.7,248.0 602.0,245.8 600.3,245.9C598.6,245.9 596.9,247.9 595.2,249.3C593.5,250.7 591.3,253.1 590.0,254.3C588.8,255.5 588.3,256.5 587.5,256.6C586.6,256.7 586.2,255.4 584.9,254.9C583.6,254.4 581.5,254.1 579.8,253.6C578.1,253.1 576.4,253.0 574.7,251.8C572.9,250.6 571.2,247.5 569.5,246.3C567.8,245.1 566.1,244.5 564.4,244.5C562.7,244.5 561.0,246.4 559.3,246.4C557.6,246.3 555.8,244.7 554.1,244.1C552.4,243.6 549.9,243.2 549.0,243.1Z" fill="#dde0f4" fill-opacity="1.0" stroke="#8c92d0" stroke-width="1.1"/><path d="M549.0,246.8C549.9,246.0 552.4,243.1 554.1,242.1C555.8,241.0 557.6,241.1 559.3,240.5C561.0,239.9 562.7,239.2 564.4,238.4C566.1,237.6 567.8,236.4 569.5,235.8C571.2,235.2 572.9,235.0 574.7,234.7C576.4,234.5 578.1,234.5 579.8,234.2C581.5,233.9 583.6,233.4 584.9,233.1C586.2,232.9 586.6,232.2 587.5,232.4C588.3,232.7 588.8,233.4 590.0,234.7C591.3,236.1 593.5,239.0 595.2,240.5C596.9,242.0 598.6,243.7 600.3,243.6C602.0,243.5 603.7,240.7 605.4,240.0C607.1,239.2 608.9,238.8 610.6,238.9C612.3,239.0 614.0,240.6 615.7,240.5C617.4,240.4 619.5,239.1 620.8,238.4C622.1,237.7 622.5,236.6 623.4,236.3C624.2,236.0 624.7,235.9 626.0,236.8C627.2,237.8 629.4,240.2 631.1,242.1C632.8,243.9 634.5,246.3 636.2,247.8C637.9,249.4 640.1,250.7 641.3,251.5C642.6,252.3 643.1,252.8 643.9,252.5C644.8,252.3 645.2,250.8 646.5,249.9C647.8,249.1 649.9,248.1 651.6,247.3C653.3,246.5 655.0,246.3 656.7,245.2C658.4,244.2 660.2,242.7 661.9,241.0C663.6,239.4 666.1,236.2 667.0,235.2" fill="none" stroke="#cd3722" stroke-width="1.6"/><path d="M549.0,242.6C549.9,242.8 552.4,243.5 554.1,243.6C555.8,243.7 557.6,243.5 559.3,243.1C561.0,242.7 562.7,241.1 564.4,241.0C566.1,240.9 567.8,241.4 569.5,242.6C571.2,243.7 572.9,246.7 574.7,247.8C576.4,249.0 578.1,249.0 579.8,249.4C581.5,249.8 583.6,250.0 584.9,250.5C586.2,250.9 586.6,252.1 587.5,252.0C588.3,251.9 588.8,251.1 590.0,249.9C591.3,248.8 593.5,246.5 595.2,245.2C596.9,243.9 598.6,242.0 600.3,242.1C602.0,242.1 603.7,244.5 605.4,245.6C607.1,246.6 608.9,247.8 610.6,248.4C612.3,248.9 614.0,248.9 615.7,248.9C617.4,248.9 619.1,248.7 620.8,248.4C622.5,248.0 624.2,247.6 626.0,246.8C627.7,246.0 629.4,244.5 631.1,243.6C632.8,242.8 634.5,242.1 636.2,241.5C637.9,240.9 640.1,240.3 641.3,240.0C642.6,239.6 643.1,239.2 643.9,239.4C644.8,239.7 645.2,240.7 646.5,241.5C647.8,242.3 649.9,243.6 651.6,244.2C653.3,244.7 655.0,244.2 656.7,244.7C658.4,245.1 660.2,246.0 661.9,246.8C663.6,247.6 666.1,249.0 667.0,249.4" fill="none" stroke="#4b56ad" stroke-width="1.6"/></g>
<line x1="559.2" y1="281.8" x2="559.2" y2="280.3" stroke="#222" stroke-width="1"/>
<line x1="559.2" y1="205.1" x2="559.2" y2="206.6" stroke="#222" stroke-width="1"/>
<line x1="610.5" y1="281.8" x2="610.5" y2="280.3" stroke="#222" stroke-width="1"/>
<line x1="610.5" y1="205.1" x2="610.5" y2="206.6" stroke="#222" stroke-width="1"/>
<line x1="661.8" y1="281.8" x2="661.8" y2="280.3" stroke="#222" stroke-width="1"/>
<line x1="661.8" y1="205.1" x2="661.8" y2="206.6" stroke="#222" stroke-width="1"/>
<line x1="548.9" y1="281.8" x2="550.4" y2="281.8" stroke="#222" stroke-width="1"/>
<line x1="666.9" y1="281.8" x2="665.4" y2="281.8" stroke="#222" stroke-width="1"/>
<line x1="548.9" y1="262.6" x2="550.4" y2="262.6" stroke="#222" stroke-width="1"/>
<line x1="666.9" y1="262.6" x2="665.4" y2="262.6" stroke="#222" stroke-width="1"/>
<line x1="548.9" y1="243.4" x2="550.4" y2="243.4" stroke="#222" stroke-width="1"/>
<line x1="666.9" y1="243.4" x2="665.4" y2="243.4" stroke="#222" stroke-width="1"/>
<line x1="548.9" y1="224.3" x2="550.4" y2="224.3" stroke="#222" stroke-width="1"/>
<line x1="666.9" y1="224.3" x2="665.4" y2="224.3" stroke="#222" stroke-width="1"/>
<line x1="548.9" y1="205.1" x2="550.4" y2="205.1" stroke="#222" stroke-width="1"/>
<line x1="666.9" y1="205.1" x2="665.4" y2="205.1" stroke="#222" stroke-width="1"/>
<rect x="548.9" y="205.1" width="118.0" height="76.7" fill="none" stroke="#000" stroke-width="1.45"/>
<text x="559.2" y="299.9" text-anchor="middle" font-size="16" font-family="Liberation Sans, sans-serif" stroke="#000" stroke-width="0.45" fill="#000">0</text>
<text x="610.5" y="299.9" text-anchor="middle" font-size="16" font-family="Liberation Sans, sans-serif" stroke="#000" stroke-width="0.45" fill="#000">10</text>
<text x="661.8" y="299.9" text-anchor="middle" font-size="16" font-family="Liberation Sans, sans-serif" stroke="#000" stroke-width="0.45" fill="#000">20</text>
<text x="117.7" y="331.1" text-anchor="middle" font-size="16" letter-spacing="0.5" font-family="Liberation Sans, sans-serif" stroke="#000" stroke-width="0.45" fill="#000">channel 3-L</text>
<rect x="84.4" y="344.2" width="25.7" height="71.9" fill="#e3e3e3"/>
<clipPath id="c20"><rect x="58.7" y="341.8" width="118.0" height="76.7"/></clipPath>
<g clip-path="url(#c20)"><path d="M58.5,381.5C59.4,381.4 61.9,381.9 63.6,380.9C65.3,379.9 67.1,377.3 68.8,375.4C70.5,373.5 72.2,371.2 73.9,369.6C75.6,368.0 77.3,367.2 79.0,365.6C80.7,364.1 82.4,362.6 84.2,360.3C85.9,357.9 88.0,353.4 89.3,351.6C90.6,349.7 91.0,349.4 91.8,349.2C92.7,348.9 93.1,349.6 94.4,350.2C95.7,350.9 97.8,352.1 99.5,353.0C101.3,353.9 103.0,354.8 104.7,355.8C106.4,356.8 108.1,358.1 109.8,359.0C111.5,359.9 113.2,361.1 114.9,361.2C116.6,361.4 118.4,360.1 120.1,359.9C121.8,359.7 123.5,360.5 125.2,360.0C126.9,359.5 128.6,357.9 130.3,356.9C132.0,355.9 133.7,354.7 135.5,354.2C137.2,353.6 138.9,353.2 140.6,353.5C142.3,353.9 144.0,355.4 145.7,356.4C147.4,357.3 149.1,358.6 150.8,359.0C152.6,359.4 154.3,359.2 156.0,358.7C157.7,358.2 159.4,356.7 161.1,355.9C162.8,355.1 164.5,354.5 166.2,354.0C167.9,353.6 169.7,353.2 171.4,353.2C173.1,353.1 175.6,353.8 176.5,353.9L176.5,372.1C175.6,372.0 173.1,371.6 171.4,371.7C169.7,371.9 167.9,372.4 166.2,373.0C164.5,373.6 162.8,374.4 161.1,375.3C159.4,376.2 157.7,377.8 156.0,378.5C154.3,379.1 152.6,379.4 150.8,379.2C149.1,378.9 147.4,377.7 145.7,376.9C144.0,376.2 142.3,374.8 140.6,374.5C138.9,374.2 137.2,374.4 135.5,374.9C133.7,375.4 132.0,376.6 130.3,377.5C128.6,378.3 126.9,379.9 125.2,380.3C123.5,380.8 121.8,379.9 120.1,380.0C118.4,380.2 116.6,381.5 114.9,381.2C113.2,380.8 111.5,379.3 109.8,378.2C108.1,377.1 106.4,375.6 104.7,374.3C103.0,373.1 101.3,372.0 99.5,370.8C97.8,369.7 95.7,368.2 94.4,367.3C93.1,366.5 92.7,366.0 91.8,365.9C91.0,365.9 90.6,365.8 89.3,367.0C88.0,368.2 85.9,371.6 84.2,373.0C82.4,374.5 80.7,375.0 79.0,375.7C77.3,376.3 75.6,376.3 73.9,377.0C72.2,377.6 70.5,378.8 68.8,379.6C67.1,380.3 65.3,381.0 63.6,381.4C61.9,381.8 59.4,381.8 58.5,381.8Z" fill="#fde2da" fill-opacity="1.0" stroke="#ef9381" stroke-width="1.1"/><path d="M58.5,380.0C59.4,379.8 61.9,379.8 63.6,379.0C65.3,378.1 67.1,375.7 68.8,375.0C70.5,374.4 72.2,374.7 73.9,374.9C75.6,375.0 77.3,375.3 79.0,375.9C80.7,376.5 82.4,377.5 84.2,378.5C85.9,379.6 87.6,381.2 89.3,382.2C91.0,383.2 92.7,384.0 94.4,384.3C96.1,384.6 97.8,384.1 99.5,383.8C101.3,383.4 103.0,382.9 104.7,382.2C106.4,381.5 108.1,380.1 109.8,379.6C111.5,379.1 113.2,379.1 114.9,379.2C116.6,379.4 118.4,380.2 120.1,380.3C121.8,380.4 123.5,379.6 125.2,379.9C126.9,380.3 128.6,381.7 130.3,382.2C132.0,382.8 133.7,383.2 135.5,383.3C137.2,383.3 138.9,383.1 140.6,382.7C142.3,382.4 144.0,381.6 145.7,381.2C147.4,380.7 149.1,380.2 150.8,380.1C152.6,380.0 154.3,380.4 156.0,380.6C157.7,380.9 159.4,381.4 161.1,381.7C162.8,381.9 164.5,382.1 166.2,382.2C167.9,382.3 169.7,382.2 171.4,382.2C173.1,382.2 175.6,382.2 176.5,382.2L176.5,389.5C175.6,389.5 173.1,389.5 171.4,389.5C169.7,389.5 167.9,389.6 166.2,389.5C164.5,389.5 162.8,389.3 161.1,389.0C159.4,388.8 157.7,388.2 156.0,388.0C154.3,387.7 152.6,387.4 150.8,387.5C149.1,387.5 147.4,388.1 145.7,388.5C144.0,388.9 142.3,389.7 140.6,390.1C138.9,390.4 137.2,390.7 135.5,390.6C133.7,390.5 132.0,390.1 130.3,389.5C128.6,389.0 126.9,387.6 125.2,387.3C123.5,387.0 121.8,387.7 120.1,387.6C118.4,387.5 116.6,386.7 114.9,386.6C113.2,386.5 111.5,386.4 109.8,386.9C108.1,387.4 106.4,388.9 104.7,389.5C103.0,390.2 101.3,390.8 99.5,391.1C97.8,391.5 96.1,391.9 94.4,391.6C92.7,391.4 91.0,390.5 89.3,389.5C87.6,388.6 85.9,386.9 84.2,385.9C82.4,384.8 80.7,383.9 79.0,383.3C77.3,382.6 75.6,382.4 73.9,382.2C72.2,382.1 70.5,382.7 68.8,382.4C67.1,382.0 65.3,380.4 63.6,380.2C61.9,380.0 59.4,381.1 58.5,381.3Z" fill="#dde0f4" fill-opacity="1.0" stroke="#8c92d0" stroke-width="1.1"/><path d="M58.5,381.7C59.4,381.6 61.9,381.9 63.6,381.2C65.3,380.5 67.1,378.8 68.8,377.5C70.5,376.2 72.2,374.4 73.9,373.3C75.6,372.2 77.3,371.8 79.0,370.7C80.7,369.6 82.4,368.5 84.2,366.6C85.9,364.8 88.0,360.8 89.3,359.3C90.6,357.8 91.0,357.6 91.8,357.6C92.7,357.5 93.1,358.1 94.4,358.8C95.7,359.5 97.8,360.9 99.5,361.9C101.3,363.0 103.0,364.0 104.7,365.1C106.4,366.2 108.1,367.6 109.8,368.6C111.5,369.6 113.2,371.0 114.9,371.2C116.6,371.4 118.4,370.1 120.1,370.0C121.8,369.8 123.5,370.6 125.2,370.1C126.9,369.7 128.6,368.1 130.3,367.2C132.0,366.2 133.7,365.1 135.5,364.6C137.2,364.0 138.9,363.7 140.6,364.0C142.3,364.4 144.0,365.8 145.7,366.6C147.4,367.5 149.1,368.8 150.8,369.1C152.6,369.4 154.3,369.2 156.0,368.6C157.7,368.0 159.4,366.4 161.1,365.6C162.8,364.8 164.5,364.0 166.2,363.5C167.9,363.0 169.7,362.5 171.4,362.5C173.1,362.4 175.6,362.9 176.5,363.0" fill="none" stroke="#cd3722" stroke-width="1.6"/><path d="M58.5,380.6C59.4,380.5 61.9,379.9 63.6,379.6C65.3,379.3 67.1,378.9 68.8,378.7C70.5,378.5 72.2,378.4 73.9,378.5C75.6,378.7 77.3,379.0 79.0,379.6C80.7,380.2 82.4,381.2 84.2,382.2C85.9,383.3 87.6,384.9 89.3,385.9C91.0,386.8 92.7,387.7 94.4,388.0C96.1,388.2 97.8,387.8 99.5,387.5C101.3,387.1 103.0,386.6 104.7,385.9C106.4,385.2 108.1,383.8 109.8,383.3C111.5,382.8 113.2,382.8 114.9,382.9C116.6,383.0 118.4,383.8 120.1,384.0C121.8,384.1 123.5,383.3 125.2,383.6C126.9,383.9 128.6,385.3 130.3,385.9C132.0,386.4 133.7,386.8 135.5,386.9C137.2,387.0 138.9,386.8 140.6,386.4C142.3,386.1 144.0,385.3 145.7,384.8C147.4,384.4 149.1,383.9 150.8,383.8C152.6,383.7 154.3,384.0 156.0,384.3C157.7,384.6 159.4,385.1 161.1,385.4C162.8,385.6 164.5,385.8 166.2,385.9C167.9,386.0 169.7,385.9 171.4,385.9C173.1,385.9 175.6,385.9 176.5,385.9" fill="none" stroke="#4b56ad" stroke-width="1.6"/></g>
<line x1="69.0" y1="418.5" x2="69.0" y2="417.0" stroke="#222" stroke-width="1"/>
<line x1="69.0" y1="341.8" x2="69.0" y2="343.3" stroke="#222" stroke-width="1"/>
<line x1="120.3" y1="418.5" x2="120.3" y2="417.0" stroke="#222" stroke-width="1"/>
<line x1="120.3" y1="341.8" x2="120.3" y2="343.3" stroke="#222" stroke-width="1"/>
<line x1="171.6" y1="418.5" x2="171.6" y2="417.0" stroke="#222" stroke-width="1"/>
<line x1="171.6" y1="341.8" x2="171.6" y2="343.3" stroke="#222" stroke-width="1"/>
<line x1="58.7" y1="418.5" x2="60.2" y2="418.5" stroke="#222" stroke-width="1"/>
<line x1="176.7" y1="418.5" x2="175.2" y2="418.5" stroke="#222" stroke-width="1"/>
<line x1="58.7" y1="399.3" x2="60.2" y2="399.3" stroke="#222" stroke-width="1"/>
<line x1="176.7" y1="399.3" x2="175.2" y2="399.3" stroke="#222" stroke-width="1"/>
<line x1="58.7" y1="380.1" x2="60.2" y2="380.1" stroke="#222" stroke-width="1"/>
<line x1="176.7" y1="380.1" x2="175.2" y2="380.1" stroke="#222" stroke-width="1"/>
<line x1="58.7" y1="361.0" x2="60.2" y2="361.0" stroke="#222" stroke-width="1"/>
<line x1="176.7" y1="361.0" x2="175.2" y2="361.0" stroke="#222" stroke-width="1"/>
<line x1="58.7" y1="341.8" x2="60.2" y2="341.8" stroke="#222" stroke-width="1"/>
<line x1="176.7" y1="341.8" x2="175.2" y2="341.8" stroke="#222" stroke-width="1"/>
<rect x="58.7" y="341.8" width="118.0" height="76.7" fill="none" stroke="#000" stroke-width="1.45"/>
<text x="69.0" y="436.9" text-anchor="middle" font-size="16" font-family="Liberation Sans, sans-serif" stroke="#000" stroke-width="0.45" fill="#000">0</text>
<text x="120.3" y="436.9" text-anchor="middle" font-size="16" font-family="Liberation Sans, sans-serif" stroke="#000" stroke-width="0.45" fill="#000">10</text>
<text x="171.6" y="436.9" text-anchor="middle" font-size="16" font-family="Liberation Sans, sans-serif" stroke="#000" stroke-width="0.45" fill="#000">20</text>
<text x="52.5" y="347.5" text-anchor="end" font-size="16" font-family="Liberation Sans, sans-serif" stroke="#000" stroke-width="0.45" fill="#000">0.4</text>
<text x="52.5" y="366.7" text-anchor="end" font-size="16" font-family="Liberation Sans, sans-serif" stroke="#000" stroke-width="0.45" fill="#000">0.2</text>
<text x="52.5" y="385.9" text-anchor="end" font-size="16" font-family="Liberation Sans, sans-serif" stroke="#000" stroke-width="0.45" fill="#000">0</text>
<text x="52.5" y="405.0" text-anchor="end" font-size="16" font-family="Liberation Sans, sans-serif" stroke="#000" stroke-width="0.45" fill="#000">-0.2</text>
<text x="52.5" y="424.2" text-anchor="end" font-size="16" font-family="Liberation Sans, sans-serif" stroke="#000" stroke-width="0.45" fill="#000">-0.4</text>
<text transform="translate(16.2 381.9) rotate(-90)" x="0" y="0" text-anchor="middle" font-size="16" letter-spacing="0.45" font-family="Liberation Sans, sans-serif" stroke="#000" stroke-width="0.45" fill="#000">dConc (<tspan font-style="italic">μ</tspan>M)</text>
<text x="246.6" y="331.1" text-anchor="middle" font-size="16" letter-spacing="0.5" font-family="Liberation Sans, sans-serif" stroke="#000" stroke-width="0.45" fill="#000">channel 3-R</text>
<rect x="213.3" y="344.2" width="25.7" height="71.9" fill="#e3e3e3"/>
<clipPath id="c21"><rect x="187.6" y="341.8" width="118.0" height="76.7"/></clipPath>
<g clip-path="url(#c21)"><path d="M188.0,380.0C188.9,380.1 191.4,380.7 193.1,380.6C194.8,380.4 196.6,379.9 198.3,379.1C200.0,378.3 201.7,377.1 203.4,375.7C205.1,374.3 206.8,372.7 208.5,370.6C210.2,368.6 211.9,365.6 213.7,363.4C215.4,361.2 217.5,358.7 218.8,357.4C220.1,356.1 220.5,355.8 221.3,355.6C222.2,355.5 222.6,355.6 223.9,356.3C225.2,357.0 227.3,358.2 229.0,359.8C230.8,361.3 232.5,363.7 234.2,365.6C235.9,367.6 238.0,370.5 239.3,371.7C240.6,372.9 241.0,373.1 241.9,372.7C242.7,372.3 243.2,370.0 244.4,369.5C245.7,369.1 248.5,369.7 249.6,369.9C250.7,370.2 250.2,371.2 251.1,371.0C252.0,370.7 253.2,368.9 254.7,368.3C256.1,367.6 258.1,367.3 259.8,367.1C261.5,366.9 263.2,366.9 265.0,366.8C266.7,366.8 268.4,366.3 270.1,366.9C271.8,367.6 273.5,369.8 275.2,370.6C276.9,371.3 278.6,371.8 280.3,371.5C282.1,371.3 283.8,370.0 285.5,369.0C287.2,367.9 288.9,366.4 290.6,365.3C292.3,364.2 294.0,363.1 295.7,362.2C297.4,361.3 299.2,360.5 300.9,359.8C302.6,359.1 305.1,358.5 306.0,358.3L306.0,370.8C305.1,371.1 302.6,371.8 300.9,372.5C299.2,373.1 297.4,374.0 295.7,374.9C294.0,375.9 292.3,377.0 290.6,378.1C288.9,379.3 287.2,380.8 285.5,381.8C283.8,382.9 282.1,384.0 280.3,384.5C278.6,384.9 276.9,384.9 275.2,384.4C273.5,384.0 271.8,382.1 270.1,381.7C268.4,381.4 266.7,382.4 265.0,382.6C263.2,382.7 261.5,382.5 259.8,382.6C258.1,382.8 256.1,383.0 254.7,383.6C253.2,384.2 252.0,385.9 251.1,386.1C250.2,386.4 250.7,385.3 249.6,385.0C248.5,384.8 245.7,384.0 244.4,384.4C243.2,384.8 242.7,387.2 241.9,387.5C241.0,387.8 240.6,387.5 239.3,386.4C238.0,385.3 235.9,382.7 234.2,380.9C232.5,379.1 230.8,377.0 229.0,375.6C227.3,374.3 225.2,373.3 223.9,372.8C222.6,372.3 222.2,372.4 221.3,372.4C220.5,372.4 220.1,372.2 218.8,372.7C217.5,373.3 215.4,374.6 213.7,375.8C211.9,377.1 210.2,379.1 208.5,380.2C206.8,381.3 205.1,381.9 203.4,382.4C201.7,382.9 200.0,383.5 198.3,383.3C196.6,383.0 194.8,381.6 193.1,381.1C191.4,380.6 188.9,380.4 188.0,380.3Z" fill="#fde2da" fill-opacity="1.0" stroke="#ef9381" stroke-width="1.1"/><path d="M188.0,379.5C188.9,379.4 191.4,379.7 193.1,379.0C194.8,378.3 196.6,375.9 198.3,375.2C200.0,374.6 201.7,374.8 203.4,375.0C205.1,375.3 206.8,375.8 208.5,376.6C210.2,377.4 211.9,378.8 213.7,379.8C215.4,380.7 217.1,381.8 218.8,382.4C220.5,383.0 222.2,383.3 223.9,383.3C225.6,383.2 227.3,382.6 229.0,381.9C230.8,381.1 232.5,379.7 234.2,378.7C235.9,377.7 237.6,376.3 239.3,376.1C241.0,375.9 242.7,376.9 244.4,377.7C246.1,378.4 247.9,380.5 249.6,380.8C251.3,381.2 253.0,379.8 254.7,379.8C256.4,379.7 258.1,380.1 259.8,380.3C261.5,380.5 263.2,380.8 265.0,380.8C266.7,380.8 268.4,380.8 270.1,380.5C271.8,380.1 273.5,379.2 275.2,378.7C276.9,378.2 278.6,377.9 280.3,377.7C282.1,377.4 283.8,377.3 285.5,377.3C287.2,377.3 288.9,377.5 290.6,377.7C292.3,377.8 294.0,378.1 295.7,378.4C297.4,378.6 299.2,379.0 300.9,379.2C302.6,379.5 305.1,379.7 306.0,379.8L306.0,386.8C305.1,386.7 302.6,386.5 300.9,386.2C299.2,386.0 297.4,385.6 295.7,385.4C294.0,385.1 292.3,384.8 290.6,384.7C288.9,384.5 287.2,384.3 285.5,384.3C283.8,384.3 282.1,384.4 280.3,384.7C278.6,384.9 276.9,385.2 275.2,385.7C273.5,386.2 271.8,387.1 270.1,387.5C268.4,387.8 266.7,387.8 265.0,387.8C263.2,387.8 261.5,387.5 259.8,387.3C258.1,387.1 256.4,386.7 254.7,386.8C253.0,386.8 251.3,388.2 249.6,387.8C247.9,387.5 246.1,385.4 244.4,384.7C242.7,383.9 241.0,382.9 239.3,383.1C237.6,383.3 235.9,384.7 234.2,385.7C232.5,386.7 230.8,388.1 229.0,388.9C227.3,389.6 225.6,390.2 223.9,390.2C222.2,390.3 220.5,390.0 218.8,389.4C217.1,388.8 215.4,387.7 213.7,386.8C211.9,385.8 210.2,384.4 208.5,383.6C206.8,382.8 205.1,382.3 203.4,382.0C201.7,381.8 200.0,382.5 198.3,382.2C196.6,381.9 194.8,380.4 193.1,380.2C191.4,379.9 188.9,380.6 188.0,380.7Z" fill="#dde0f4" fill-opacity="1.0" stroke="#8c92d0" stroke-width="1.1"/><path d="M188.0,380.1C188.9,380.2 191.4,380.6 193.1,380.8C194.8,381.0 196.6,381.4 198.3,381.2C200.0,380.9 201.7,380.0 203.4,379.1C205.1,378.1 206.8,377.0 208.5,375.4C210.2,373.8 211.9,371.3 213.7,369.6C215.4,367.9 217.5,366.0 218.8,365.1C220.1,364.1 220.5,364.1 221.3,364.0C222.2,363.9 222.6,363.9 223.9,364.6C225.2,365.2 227.3,366.2 229.0,367.7C230.8,369.2 232.5,371.4 234.2,373.3C235.9,375.2 238.0,377.9 239.3,379.1C240.6,380.2 241.0,380.5 241.9,380.1C242.7,379.8 243.2,377.4 244.4,377.0C245.7,376.5 248.5,377.2 249.6,377.5C250.7,377.7 250.2,378.8 251.1,378.5C252.0,378.3 253.2,376.5 254.7,375.9C256.1,375.3 258.1,375.1 259.8,374.9C261.5,374.7 263.2,374.8 265.0,374.7C266.7,374.6 268.4,373.9 270.1,374.3C271.8,374.8 273.5,376.9 275.2,377.5C276.9,378.1 278.6,378.4 280.3,378.0C282.1,377.7 283.8,376.4 285.5,375.4C287.2,374.3 288.9,372.9 290.6,371.7C292.3,370.6 294.0,369.5 295.7,368.6C297.4,367.6 299.2,366.8 300.9,366.1C302.6,365.5 305.1,364.8 306.0,364.6" fill="none" stroke="#cd3722" stroke-width="1.6"/><path d="M188.0,380.1C188.9,380.0 191.4,379.8 193.1,379.6C194.8,379.4 196.6,378.9 198.3,378.7C200.0,378.5 201.7,378.3 203.4,378.5C205.1,378.8 206.8,379.3 208.5,380.1C210.2,380.9 211.9,382.3 213.7,383.3C215.4,384.2 217.1,385.3 218.8,385.9C220.5,386.5 222.2,386.8 223.9,386.8C225.6,386.7 227.3,386.1 229.0,385.4C230.8,384.6 232.5,383.2 234.2,382.2C235.9,381.2 237.6,379.8 239.3,379.6C241.0,379.4 242.7,380.4 244.4,381.2C246.1,381.9 247.9,384.0 249.6,384.3C251.3,384.7 253.0,383.3 254.7,383.3C256.4,383.2 258.1,383.6 259.8,383.8C261.5,384.0 263.2,384.3 265.0,384.3C266.7,384.3 268.4,384.3 270.1,384.0C271.8,383.6 273.5,382.7 275.2,382.2C276.9,381.7 278.6,381.4 280.3,381.2C282.1,380.9 283.8,380.8 285.5,380.8C287.2,380.8 288.9,381.0 290.6,381.2C292.3,381.3 294.0,381.6 295.7,381.9C297.4,382.1 299.2,382.5 300.9,382.7C302.6,383.0 305.1,383.2 306.0,383.3" fill="none" stroke="#4b56ad" stroke-width="1.6"/></g>
<line x1="197.9" y1="418.5" x2="197.9" y2="417.0" stroke="#222" stroke-width="1"/>
<line x1="197.9" y1="341.8" x2="197.9" y2="343.3" stroke="#222" stroke-width="1"/>
<line x1="249.2" y1="418.5" x2="249.2" y2="417.0" stroke="#222" stroke-width="1"/>
<line x1="249.2" y1="341.8" x2="249.2" y2="343.3" stroke="#222" stroke-width="1"/>
<line x1="300.5" y1="418.5" x2="300.5" y2="417.0" stroke="#222" stroke-width="1"/>
<line x1="300.5" y1="341.8" x2="300.5" y2="343.3" stroke="#222" stroke-width="1"/>
<line x1="187.6" y1="418.5" x2="189.1" y2="418.5" stroke="#222" stroke-width="1"/>
<line x1="305.6" y1="418.5" x2="304.1" y2="418.5" stroke="#222" stroke-width="1"/>
<line x1="187.6" y1="399.3" x2="189.1" y2="399.3" stroke="#222" stroke-width="1"/>
<line x1="305.6" y1="399.3" x2="304.1" y2="399.3" stroke="#222" stroke-width="1"/>
<line x1="187.6" y1="380.1" x2="189.1" y2="380.1" stroke="#222" stroke-width="1"/>
<line x1="305.6" y1="380.1" x2="304.1" y2="380.1" stroke="#222" stroke-width="1"/>
<line x1="187.6" y1="361.0" x2="189.1" y2="361.0" stroke="#222" stroke-width="1"/>
<line x1="305.6" y1="361.0" x2="304.1" y2="361.0" stroke="#222" stroke-width="1"/>
<line x1="187.6" y1="341.8" x2="189.1" y2="341.8" stroke="#222" stroke-width="1"/>
<line x1="305.6" y1="341.8" x2="304.1" y2="341.8" stroke="#222" stroke-width="1"/>
<rect x="187.6" y="341.8" width="118.0" height="76.7" fill="none" stroke="#000" stroke-width="1.45"/>
<text x="197.9" y="436.9" text-anchor="middle" font-size="16" font-family="Liberation Sans, sans-serif" stroke="#000" stroke-width="0.45" fill="#000">0</text>
<text x="249.2" y="436.9" text-anchor="middle" font-size="16" font-family="Liberation Sans, sans-serif" stroke="#000" stroke-width="0.45" fill="#000">10</text>
<text x="300.5" y="436.9" text-anchor="middle" font-size="16" font-family="Liberation Sans, sans-serif" stroke="#000" stroke-width="0.45" fill="#000">20</text>
<text x="479.3" y="331.1" text-anchor="middle" font-size="16" letter-spacing="0.5" font-family="Liberation Sans, sans-serif" stroke="#000" stroke-width="0.45" fill="#000">channel 3-L</text>
<rect x="446.0" y="344.2" width="25.7" height="71.9" fill="#e3e3e3"/>
<clipPath id="c22"><rect x="420.3" y="341.8" width="118.0" height="76.7"/></clipPath>
<g clip-path="url(#c22)"><path d="M420.0,381.4C420.9,381.2 423.4,380.7 425.1,379.8C426.8,378.9 428.6,376.9 430.3,376.0C432.0,375.0 433.7,374.7 435.4,374.2C437.1,373.7 438.8,373.4 440.5,373.0C442.2,372.6 443.9,372.3 445.7,371.7C447.4,371.1 449.7,369.8 450.8,369.3C451.9,368.9 451.5,368.3 452.3,368.9C453.2,369.5 454.5,371.3 455.9,372.8C457.4,374.4 459.3,376.6 461.0,378.2C462.8,379.8 464.5,381.1 466.2,382.4C467.9,383.8 470.0,385.3 471.3,386.2C472.6,387.1 473.0,388.0 473.9,387.8C474.7,387.6 475.6,386.3 476.4,385.0C477.3,383.7 478.1,381.6 479.0,380.1C479.9,378.5 480.3,377.3 481.6,375.7C482.8,374.1 485.0,371.8 486.7,370.5C488.4,369.3 490.1,368.6 491.8,368.4C493.5,368.2 495.2,368.8 497.0,369.3C498.7,369.9 500.4,370.5 502.1,371.7C503.8,372.8 505.5,374.4 507.2,376.1C508.9,377.8 511.1,380.7 512.3,382.1C513.6,383.5 514.1,384.2 514.9,384.3C515.8,384.4 516.2,383.6 517.5,382.6C518.8,381.6 520.9,379.4 522.6,378.2C524.3,377.1 526.0,376.5 527.7,376.0C529.4,375.4 531.2,375.2 532.9,374.7C534.6,374.2 537.1,373.2 538.0,372.9L538.0,386.2C537.1,386.5 534.6,387.2 532.9,387.6C531.2,388.0 529.4,388.0 527.7,388.5C526.0,388.9 524.3,389.4 522.6,390.4C520.9,391.3 518.8,393.5 517.5,394.4C516.2,395.3 515.8,395.9 514.9,395.8C514.1,395.8 513.6,395.1 512.3,393.9C511.1,392.6 508.9,389.9 507.2,388.3C505.5,386.7 503.8,385.3 502.1,384.4C500.4,383.4 498.7,382.9 497.0,382.5C495.2,382.1 493.5,381.9 491.8,382.0C490.1,382.2 488.4,382.4 486.7,383.4C485.0,384.3 482.8,386.3 481.6,387.7C480.3,389.1 479.9,390.3 479.0,391.7C478.1,393.1 477.3,395.1 476.4,396.2C475.6,397.4 474.7,398.5 473.9,398.6C473.0,398.8 472.6,398.0 471.3,397.1C470.0,396.3 467.9,394.8 466.2,393.5C464.5,392.2 462.8,391.0 461.0,389.4C459.3,387.9 457.4,385.7 455.9,384.2C454.5,382.8 453.2,381.1 452.3,380.5C451.5,379.8 451.9,380.3 450.8,380.4C449.7,380.5 447.4,381.1 445.7,381.2C443.9,381.3 442.2,381.0 440.5,380.9C438.8,380.8 437.1,380.4 435.4,380.5C433.7,380.5 432.0,381.1 430.3,381.1C428.6,381.1 426.8,380.3 425.1,380.4C423.4,380.6 420.9,381.7 420.0,381.9Z" fill="#fde2da" fill-opacity="1.0" stroke="#ef9381" stroke-width="1.1"/><path d="M420.0,380.2C420.9,380.2 423.4,380.4 425.1,380.0C426.8,379.7 428.6,378.3 430.3,378.0C432.0,377.8 433.7,378.4 435.4,378.5C437.1,378.6 438.8,378.7 440.5,378.8C442.2,378.8 443.9,378.6 445.7,378.7C447.4,378.8 449.7,379.1 450.8,379.3C451.9,379.6 451.5,380.6 452.3,380.4C453.2,380.2 454.5,379.2 455.9,378.2C457.4,377.2 459.3,375.5 461.0,374.5C462.8,373.5 464.5,373.1 466.2,372.3C467.9,371.5 470.0,370.3 471.3,369.6C472.6,369.0 473.0,368.2 473.9,368.5C474.7,368.8 475.6,370.5 476.4,371.5C477.3,372.6 478.1,373.7 479.0,374.6C479.9,375.5 480.3,376.0 481.6,377.1C482.8,378.2 485.0,380.3 486.7,381.2C488.4,382.1 490.1,382.4 491.8,382.6C493.5,382.7 495.2,382.5 497.0,382.1C498.7,381.6 500.4,381.0 502.1,380.0C503.8,379.0 505.5,377.2 507.2,375.9C508.9,374.6 511.1,373.2 512.3,372.2C513.6,371.3 514.1,370.2 514.9,370.1C515.8,370.1 516.2,371.0 517.5,371.7C518.8,372.4 520.9,373.8 522.6,374.4C524.3,375.0 526.0,375.3 527.7,375.5C529.4,375.7 531.2,375.4 532.9,375.5C534.6,375.6 537.1,376.0 538.0,376.1L538.0,383.1C537.1,383.0 534.6,382.7 532.9,382.6C531.2,382.5 529.4,382.8 527.7,382.6C526.0,382.5 524.3,382.2 522.6,381.6C520.9,381.0 518.8,379.7 517.5,379.0C516.2,378.4 515.8,377.4 514.9,377.5C514.1,377.6 513.6,378.6 512.3,379.6C511.1,380.6 508.9,382.0 507.2,383.3C505.5,384.6 503.8,386.5 502.1,387.5C500.4,388.6 498.7,389.2 497.0,389.7C495.2,390.1 493.5,390.4 491.8,390.2C490.1,390.1 488.4,389.5 486.7,388.5C485.0,387.5 482.8,385.3 481.6,384.1C480.3,383.0 479.9,382.4 479.0,381.4C478.1,380.4 477.3,379.3 476.4,378.2C475.6,377.1 474.7,375.3 473.9,375.0C473.0,374.6 472.6,375.3 471.3,375.9C470.0,376.5 467.9,377.7 466.2,378.5C464.5,379.2 462.8,379.6 461.0,380.5C459.3,381.4 457.4,383.2 455.9,384.1C454.5,385.0 453.2,386.0 452.3,386.1C451.5,386.3 451.9,385.4 450.8,385.1C449.7,384.8 447.4,384.4 445.7,384.3C443.9,384.2 442.2,384.3 440.5,384.2C438.8,384.2 437.1,384.0 435.4,383.8C433.7,383.6 432.0,383.7 430.3,383.2C428.6,382.7 426.8,381.2 425.1,380.9C423.4,380.5 420.9,381.0 420.0,381.1Z" fill="#dde0f4" fill-opacity="1.0" stroke="#8c92d0" stroke-width="1.1"/><path d="M420.0,381.7C420.9,381.4 423.4,380.6 425.1,380.1C426.8,379.6 428.6,379.0 430.3,378.5C432.0,378.1 433.7,377.6 435.4,377.3C437.1,377.1 438.8,377.1 440.5,377.0C442.2,376.8 443.9,376.8 445.7,376.4C447.4,376.1 449.7,375.2 450.8,374.9C451.9,374.6 451.5,374.1 452.3,374.7C453.2,375.3 454.5,377.0 455.9,378.5C457.4,380.1 459.3,382.2 461.0,383.8C462.8,385.4 464.5,386.7 466.2,388.0C467.9,389.3 470.0,390.8 471.3,391.6C472.6,392.5 473.0,393.4 473.9,393.2C474.7,393.0 475.6,391.8 476.4,390.6C477.3,389.4 478.1,387.4 479.0,385.9C479.9,384.4 480.3,383.2 481.6,381.7C482.8,380.2 485.0,378.0 486.7,377.0C488.4,375.9 490.1,375.4 491.8,375.2C493.5,375.0 495.2,375.4 497.0,375.9C498.7,376.4 500.4,377.0 502.1,378.0C503.8,379.1 505.5,380.5 507.2,382.2C508.9,383.9 511.1,386.7 512.3,388.0C513.6,389.3 514.1,390.0 514.9,390.1C515.8,390.2 516.2,389.5 517.5,388.5C518.8,387.5 520.9,385.4 522.6,384.3C524.3,383.3 526.0,382.7 527.7,382.2C529.4,381.7 531.2,381.6 532.9,381.2C534.6,380.7 537.1,379.8 538.0,379.6" fill="none" stroke="#cd3722" stroke-width="1.6"/><path d="M420.0,380.6C420.9,380.6 423.4,380.5 425.1,380.5C426.8,380.5 428.6,380.5 430.3,380.6C432.0,380.8 433.7,381.0 435.4,381.2C437.1,381.3 438.8,381.4 440.5,381.5C442.2,381.6 443.9,381.4 445.7,381.5C447.4,381.6 449.7,381.9 450.8,382.2C451.9,382.5 451.5,383.4 452.3,383.3C453.2,383.1 454.5,382.1 455.9,381.2C457.4,380.2 459.3,378.4 461.0,377.5C462.8,376.5 464.5,376.2 466.2,375.4C467.9,374.6 470.0,373.4 471.3,372.8C472.6,372.2 473.0,371.4 473.9,371.7C474.7,372.1 475.6,373.8 476.4,374.9C477.3,375.9 478.1,377.1 479.0,378.0C479.9,379.0 480.3,379.5 481.6,380.6C482.8,381.8 485.0,383.9 486.7,384.8C488.4,385.8 490.1,386.2 491.8,386.4C493.5,386.6 495.2,386.3 497.0,385.9C498.7,385.4 500.4,384.8 502.1,383.8C503.8,382.7 505.5,380.9 507.2,379.6C508.9,378.3 511.1,376.9 512.3,375.9C513.6,375.0 514.1,373.9 514.9,373.8C515.8,373.7 516.2,374.7 517.5,375.4C518.8,376.1 520.9,377.4 522.6,378.0C524.3,378.6 526.0,378.9 527.7,379.1C529.4,379.2 531.2,379.0 532.9,379.1C534.6,379.1 537.1,379.5 538.0,379.6" fill="none" stroke="#4b56ad" stroke-width="1.6"/></g>
<line x1="430.6" y1="418.5" x2="430.6" y2="417.0" stroke="#222" stroke-width="1"/>
<line x1="430.6" y1="341.8" x2="430.6" y2="343.3" stroke="#222" stroke-width="1"/>
<line x1="481.9" y1="418.5" x2="481.9" y2="417.0" stroke="#222" stroke-width="1"/>
<line x1="481.9" y1="341.8" x2="481.9" y2="343.3" stroke="#222" stroke-width="1"/>
<line x1="533.2" y1="418.5" x2="533.2" y2="417.0" stroke="#222" stroke-width="1"/>
<line x1="533.2" y1="341.8" x2="533.2" y2="343.3" stroke="#222" stroke-width="1"/>
<line x1="420.3" y1="418.5" x2="421.8" y2="418.5" stroke="#222" stroke-width="1"/>
<line x1="538.3" y1="418.5" x2="536.8" y2="418.5" stroke="#222" stroke-width="1"/>
<line x1="420.3" y1="399.3" x2="421.8" y2="399.3" stroke="#222" stroke-width="1"/>
<line x1="538.3" y1="399.3" x2="536.8" y2="399.3" stroke="#222" stroke-width="1"/>
<line x1="420.3" y1="380.1" x2="421.8" y2="380.1" stroke="#222" stroke-width="1"/>
<line x1="538.3" y1="380.1" x2="536.8" y2="380.1" stroke="#222" stroke-width="1"/>
<line x1="420.3" y1="361.0" x2="421.8" y2="361.0" stroke="#222" stroke-width="1"/>
<line x1="538.3" y1="361.0" x2="536.8" y2="361.0" stroke="#222" stroke-width="1"/>
<line x1="420.3" y1="341.8" x2="421.8" y2="341.8" stroke="#222" stroke-width="1"/>
<line x1="538.3" y1="341.8" x2="536.8" y2="341.8" stroke="#222" stroke-width="1"/>
<rect x="420.3" y="341.8" width="118.0" height="76.7" fill="none" stroke="#000" stroke-width="1.45"/>
<text x="430.6" y="436.9" text-anchor="middle" font-size="16" font-family="Liberation Sans, sans-serif" stroke="#000" stroke-width="0.45" fill="#000">0</text>
<text x="481.9" y="436.9" text-anchor="middle" font-size="16" font-family="Liberation Sans, sans-serif" stroke="#000" stroke-width="0.45" fill="#000">10</text>
<text x="533.2" y="436.9" text-anchor="middle" font-size="16" font-family="Liberation Sans, sans-serif" stroke="#000" stroke-width="0.45" fill="#000">20</text>
<text x="414.1" y="347.5" text-anchor="end" font-size="16" font-family="Liberation Sans, sans-serif" stroke="#000" stroke-width="0.45" fill="#000">0.4</text>
<text x="414.1" y="366.7" text-anchor="end" font-size="16" font-family="Liberation Sans, sans-serif" stroke="#000" stroke-width="0.45" fill="#000">0.2</text>
<text x="414.1" y="385.9" text-anchor="end" font-size="16" font-family="Liberation Sans, sans-serif" stroke="#000" stroke-width="0.45" fill="#000">0</text>
<text x="414.1" y="405.0" text-anchor="end" font-size="16" font-family="Liberation Sans, sans-serif" stroke="#000" stroke-width="0.45" fill="#000">-0.2</text>
<text x="414.1" y="424.2" text-anchor="end" font-size="16" font-family="Liberation Sans, sans-serif" stroke="#000" stroke-width="0.45" fill="#000">-0.4</text>
<text x="607.9" y="331.1" text-anchor="middle" font-size="16" letter-spacing="0.5" font-family="Liberation Sans, sans-serif" stroke="#000" stroke-width="0.45" fill="#000">channel 3-R</text>
<rect x="574.6" y="344.2" width="25.7" height="71.9" fill="#e3e3e3"/>
<clipPath id="c23"><rect x="548.9" y="341.8" width="118.0" height="76.7"/></clipPath>
<g clip-path="url(#c23)"><path d="M549.0,385.6C549.9,384.4 552.4,380.4 554.1,378.2C555.8,376.1 557.6,373.8 559.3,372.7C561.0,371.5 562.7,372.0 564.4,371.2C566.1,370.4 567.8,368.9 569.5,367.9C571.2,366.8 572.9,365.6 574.7,364.9C576.4,364.2 578.1,363.8 579.8,363.9C581.5,363.9 583.2,364.3 584.9,365.0C586.6,365.6 588.3,366.4 590.0,367.7C591.8,369.0 593.5,371.6 595.2,373.0C596.9,374.5 598.6,376.1 600.3,376.3C602.0,376.4 603.7,374.8 605.4,373.8C607.1,372.7 608.9,370.4 610.6,370.2C612.3,370.0 614.0,372.2 615.7,372.4C617.4,372.6 619.5,371.7 620.8,371.5C622.1,371.3 622.5,371.2 623.4,371.0C624.2,370.8 624.7,370.0 626.0,370.4C627.2,370.7 629.4,371.9 631.1,373.2C632.8,374.6 634.5,376.6 636.2,378.2C637.9,379.9 640.1,382.1 641.3,383.2C642.6,384.4 643.1,385.2 643.9,385.2C644.8,385.2 645.6,384.5 646.5,383.1C647.3,381.7 648.2,378.2 649.0,376.8C649.9,375.4 650.3,375.2 651.6,374.7C652.9,374.2 655.0,374.3 656.7,373.6C658.4,372.9 660.2,371.8 661.9,370.5C663.6,369.2 666.1,366.6 667.0,365.8L667.0,375.6C666.1,376.4 663.6,379.0 661.9,380.3C660.2,381.6 658.4,382.7 656.7,383.4C655.0,384.1 652.9,384.0 651.6,384.5C650.3,385.0 649.9,385.2 649.0,386.6C648.2,388.0 647.3,391.5 646.5,392.9C645.6,394.3 644.8,395.0 643.9,395.0C643.1,394.9 642.6,394.0 641.3,392.7C640.1,391.5 637.9,389.1 636.2,387.2C634.5,385.4 632.8,383.2 631.1,381.7C629.4,380.2 627.2,378.8 626.0,378.3C624.7,377.8 624.2,378.5 623.4,378.7C622.5,378.9 622.1,379.0 620.8,379.3C619.5,379.6 617.4,380.6 615.7,380.5C614.0,380.3 612.3,378.2 610.6,378.5C608.9,378.8 607.1,381.2 605.4,382.3C603.7,383.4 602.0,385.1 600.3,385.0C598.6,385.0 596.9,383.3 595.2,381.9C593.5,380.6 591.8,378.1 590.0,376.8C588.3,375.5 586.6,374.8 584.9,374.3C583.2,373.7 581.5,373.5 579.8,373.3C578.1,373.1 576.4,372.7 574.7,372.9C572.9,373.1 571.2,373.9 569.5,374.5C567.8,375.1 566.1,376.0 564.4,376.4C562.7,376.9 561.0,376.7 559.3,377.1C557.6,377.5 555.8,377.3 554.1,378.8C552.4,380.3 549.9,384.9 549.0,386.1Z" fill="#fde2da" fill-opacity="1.0" stroke="#ef9381" stroke-width="1.1"/><path d="M549.0,378.6C549.9,378.8 552.4,380.2 554.1,380.2C555.8,380.1 557.6,378.9 559.3,378.4C561.0,377.8 562.7,377.3 564.4,377.0C566.1,376.7 567.8,375.9 569.5,376.6C571.2,377.3 572.9,380.2 574.7,381.0C576.4,381.8 578.1,381.4 579.8,381.5C581.5,381.6 583.2,381.6 584.9,381.5C586.6,381.4 588.3,381.9 590.0,381.0C591.8,380.0 593.5,377.0 595.2,375.7C596.9,374.5 598.6,373.7 600.3,373.6C602.0,373.6 603.7,374.4 605.4,375.2C607.1,376.0 608.9,377.4 610.6,378.4C612.3,379.3 614.0,380.4 615.7,381.0C617.4,381.6 619.1,382.0 620.8,382.0C622.5,382.0 624.2,381.6 626.0,381.0C627.7,380.4 629.4,379.3 631.1,378.4C632.8,377.4 634.5,376.3 636.2,375.2C637.9,374.2 640.1,372.7 641.3,372.1C642.6,371.5 643.1,371.1 643.9,371.5C644.8,372.0 645.6,373.6 646.5,374.7C647.3,375.7 648.2,377.1 649.0,377.8C649.9,378.5 650.3,378.6 651.6,378.9C652.9,379.1 655.0,379.1 656.7,379.4C658.4,379.7 660.2,379.8 661.9,380.5C663.6,381.1 666.1,382.6 667.0,383.1L667.0,388.7C666.1,388.2 663.6,386.7 661.9,386.1C660.2,385.4 658.4,385.3 656.7,385.0C655.0,384.7 652.9,384.7 651.6,384.5C650.3,384.2 649.9,384.1 649.0,383.4C648.2,382.7 647.3,381.3 646.5,380.3C645.6,379.2 644.8,377.6 643.9,377.1C643.1,376.7 642.6,377.1 641.3,377.7C640.1,378.3 637.9,379.8 636.2,380.8C634.5,381.9 632.8,383.0 631.1,384.0C629.4,384.9 627.7,386.0 626.0,386.6C624.2,387.2 622.5,387.6 620.8,387.6C619.1,387.6 617.4,387.2 615.7,386.6C614.0,386.0 612.3,384.9 610.6,384.0C608.9,383.0 607.1,381.6 605.4,380.8C603.7,380.0 602.0,379.1 600.3,379.2C598.6,379.3 596.9,380.1 595.2,381.3C593.5,382.6 591.8,385.6 590.0,386.6C588.3,387.5 586.6,387.0 584.9,387.1C583.2,387.2 581.5,387.2 579.8,387.1C578.1,387.0 576.4,387.4 574.7,386.6C572.9,385.8 571.2,382.9 569.5,382.2C567.8,381.5 566.1,382.3 564.4,382.6C562.7,382.8 561.0,384.2 559.3,384.0C557.6,383.7 555.8,381.8 554.1,381.1C552.4,380.4 549.9,379.8 549.0,379.5Z" fill="#dde0f4" fill-opacity="1.0" stroke="#8c92d0" stroke-width="1.1"/><path d="M549.0,385.9C549.9,384.7 552.4,380.4 554.1,378.5C555.8,376.7 557.6,375.7 559.3,374.9C561.0,374.1 562.7,374.4 564.4,373.8C566.1,373.2 567.8,372.0 569.5,371.2C571.2,370.4 572.9,369.4 574.7,368.9C576.4,368.5 578.1,368.5 579.8,368.6C581.5,368.7 583.2,369.0 584.9,369.6C586.6,370.2 588.3,370.9 590.0,372.2C591.8,373.6 593.5,376.1 595.2,377.5C596.9,378.9 598.6,380.5 600.3,380.6C602.0,380.7 603.7,379.1 605.4,378.0C607.1,377.0 608.9,374.6 610.6,374.3C612.3,374.1 614.0,376.3 615.7,376.4C617.4,376.6 619.5,375.7 620.8,375.4C622.1,375.1 622.5,375.0 623.4,374.9C624.2,374.7 624.7,373.9 626.0,374.3C627.2,374.8 629.4,376.1 631.1,377.5C632.8,378.9 634.5,381.0 636.2,382.7C637.9,384.5 640.1,386.8 641.3,388.0C642.6,389.2 643.1,390.1 643.9,390.1C644.8,390.1 645.6,389.4 646.5,388.0C647.3,386.6 648.2,383.1 649.0,381.7C649.9,380.3 650.3,380.1 651.6,379.6C652.9,379.1 655.0,379.2 656.7,378.5C658.4,377.8 660.2,376.7 661.9,375.4C663.6,374.1 666.1,371.5 667.0,370.7" fill="none" stroke="#cd3722" stroke-width="1.6"/><path d="M549.0,379.1C549.9,379.3 552.4,380.3 554.1,380.6C555.8,381.0 557.6,381.3 559.3,381.2C561.0,381.0 562.7,380.1 564.4,379.8C566.1,379.5 567.8,378.7 569.5,379.4C571.2,380.1 572.9,383.0 574.7,383.8C576.4,384.6 578.1,384.2 579.8,384.3C581.5,384.4 583.2,384.4 584.9,384.3C586.6,384.2 588.3,384.7 590.0,383.8C591.8,382.8 593.5,379.8 595.2,378.5C596.9,377.3 598.6,376.5 600.3,376.4C602.0,376.4 603.7,377.2 605.4,378.0C607.1,378.8 608.9,380.2 610.6,381.2C612.3,382.1 614.0,383.2 615.7,383.8C617.4,384.4 619.1,384.8 620.8,384.8C622.5,384.8 624.2,384.4 626.0,383.8C627.7,383.2 629.4,382.1 631.1,381.2C632.8,380.2 634.5,379.1 636.2,378.0C637.9,377.0 640.1,375.5 641.3,374.9C642.6,374.3 643.1,373.9 643.9,374.3C644.8,374.8 645.6,376.4 646.5,377.5C647.3,378.5 648.2,379.9 649.0,380.6C649.9,381.3 650.3,381.4 651.6,381.7C652.9,381.9 655.0,381.9 656.7,382.2C658.4,382.5 660.2,382.6 661.9,383.3C663.6,383.9 666.1,385.4 667.0,385.9" fill="none" stroke="#4b56ad" stroke-width="1.6"/></g>
<line x1="559.2" y1="418.5" x2="559.2" y2="417.0" stroke="#222" stroke-width="1"/>
<line x1="559.2" y1="341.8" x2="559.2" y2="343.3" stroke="#222" stroke-width="1"/>
<line x1="610.5" y1="418.5" x2="610.5" y2="417.0" stroke="#222" stroke-width="1"/>
<line x1="610.5" y1="341.8" x2="610.5" y2="343.3" stroke="#222" stroke-width="1"/>
<line x1="661.8" y1="418.5" x2="661.8" y2="417.0" stroke="#222" stroke-width="1"/>
<line x1="661.8" y1="341.8" x2="661.8" y2="343.3" stroke="#222" stroke-width="1"/>
<line x1="548.9" y1="418.5" x2="550.4" y2="418.5" stroke="#222" stroke-width="1"/>
<line x1="666.9" y1="418.5" x2="665.4" y2="418.5" stroke="#222" stroke-width="1"/>
<line x1="548.9" y1="399.3" x2="550.4" y2="399.3" stroke="#222" stroke-width="1"/>
<line x1="666.9" y1="399.3" x2="665.4" y2="399.3" stroke="#222" stroke-width="1"/>
<line x1="548.9" y1="380.1" x2="550.4" y2="380.1" stroke="#222" stroke-width="1"/>
<line x1="666.9" y1="380.1" x2="665.4" y2="380.1" stroke="#222" stroke-width="1"/>
<line x1="548.9" y1="361.0" x2="550.4" y2="361.0" stroke="#222" stroke-width="1"/>
<line x1="666.9" y1="361.0" x2="665.4" y2="361.0" stroke="#222" stroke-width="1"/>
<line x1="548.9" y1="341.8" x2="550.4" y2="341.8" stroke="#222" stroke-width="1"/>
<line x1="666.9" y1="341.8" x2="665.4" y2="341.8" stroke="#222" stroke-width="1"/>
<rect x="548.9" y="341.8" width="118.0" height="76.7" fill="none" stroke="#000" stroke-width="1.45"/>
<text x="559.2" y="436.9" text-anchor="middle" font-size="16" font-family="Liberation Sans, sans-serif" stroke="#000" stroke-width="0.45" fill="#000">0</text>
<text x="610.5" y="436.9" text-anchor="middle" font-size="16" font-family="Liberation Sans, sans-serif" stroke="#000" stroke-width="0.45" fill="#000">10</text>
<text x="661.8" y="436.9" text-anchor="middle" font-size="16" font-family="Liberation Sans, sans-serif" stroke="#000" stroke-width="0.45" fill="#000">20</text>
<text x="117.7" y="467.5" text-anchor="middle" font-size="16" letter-spacing="0.5" font-family="Liberation Sans, sans-serif" stroke="#000" stroke-width="0.45" fill="#000">channel 2-L</text>
<rect x="84.4" y="480.9" width="25.7" height="71.9" fill="#e3e3e3"/>
<clipPath id="c30"><rect x="58.7" y="478.5" width="118.0" height="76.7"/></clipPath>
<g clip-path="url(#c30)"><path d="M58.5,517.0C59.4,517.2 61.9,518.6 63.6,517.9C65.3,517.2 67.1,514.3 68.8,513.0C70.5,511.6 72.2,510.9 73.9,510.0C75.6,509.0 77.3,508.8 79.0,507.3C80.7,505.8 82.4,503.0 84.2,500.9C85.9,498.8 87.6,496.4 89.3,494.7C91.0,493.0 93.1,491.5 94.4,490.9C95.7,490.3 96.1,490.8 97.0,491.1C97.8,491.3 98.3,491.5 99.5,492.5C100.8,493.4 103.0,495.3 104.7,496.6C106.4,498.0 108.5,499.7 109.8,500.6C111.1,501.4 111.5,501.8 112.4,501.8C113.2,501.8 113.7,501.2 114.9,500.5C116.2,499.8 118.4,497.7 120.1,497.5C121.8,497.4 124.1,499.2 125.2,499.8C126.3,500.3 125.9,501.0 126.7,500.7C127.6,500.4 128.9,499.0 130.3,497.8C131.8,496.7 133.7,495.0 135.5,493.8C137.2,492.6 139.5,491.1 140.6,490.6C141.7,490.0 141.3,490.1 142.1,490.5C143.0,490.9 144.3,492.2 145.7,492.9C147.2,493.7 149.1,494.6 150.8,495.1C152.6,495.5 154.3,495.7 156.0,495.6C157.7,495.6 159.4,495.0 161.1,494.6C162.8,494.3 164.5,493.6 166.2,493.5C167.9,493.3 169.7,493.4 171.4,493.9C173.1,494.3 175.6,495.8 176.5,496.2L176.5,513.0C175.6,512.7 173.1,511.6 171.4,511.4C169.7,511.3 167.9,511.4 166.2,511.8C164.5,512.2 162.8,513.2 161.1,513.8C159.4,514.4 157.7,515.3 156.0,515.6C154.3,515.9 152.6,516.0 150.8,515.8C149.1,515.6 147.2,515.0 145.7,514.5C144.3,514.0 143.0,512.9 142.1,512.7C141.3,512.4 141.7,512.5 140.6,513.0C139.5,513.4 137.2,514.4 135.5,515.4C133.7,516.3 131.8,517.7 130.3,518.7C128.9,519.6 127.6,520.8 126.7,521.0C125.9,521.2 126.3,520.6 125.2,519.9C124.1,519.2 121.8,517.0 120.1,516.9C118.4,516.7 116.2,518.6 114.9,519.1C113.7,519.6 113.2,520.0 112.4,520.0C111.5,519.9 111.1,519.8 109.8,519.1C108.5,518.3 106.4,516.8 104.7,515.7C103.0,514.5 100.8,512.9 99.5,512.1C98.3,511.4 97.8,511.2 97.0,511.1C96.1,510.9 95.7,511.1 94.4,511.2C93.1,511.3 91.0,511.1 89.3,511.7C87.6,512.2 85.9,513.5 84.2,514.5C82.4,515.5 80.7,517.2 79.0,517.6C77.3,518.0 75.6,516.9 73.9,517.0C72.2,517.1 70.5,518.0 68.8,518.2C67.1,518.5 65.3,518.7 63.6,518.5C61.9,518.4 59.4,517.5 58.5,517.3Z" fill="#fde2da" fill-opacity="1.0" stroke="#ef9381" stroke-width="1.1"/><path d="M58.5,516.7C59.4,516.4 61.9,516.0 63.6,515.1C65.3,514.2 67.1,512.2 68.8,511.4C70.5,510.7 72.2,510.8 73.9,510.8C75.6,510.7 77.3,510.7 79.0,511.1C80.7,511.6 82.4,512.6 84.2,513.6C85.9,514.6 87.6,516.1 89.3,517.1C91.0,518.1 93.1,519.1 94.4,519.6C95.7,520.1 96.1,520.2 97.0,520.1C97.8,520.0 98.3,519.8 99.5,519.1C100.8,518.4 103.0,516.8 104.7,515.9C106.4,515.1 108.1,514.1 109.8,513.8C111.5,513.6 113.2,514.2 114.9,514.4C116.6,514.5 118.4,514.3 120.1,514.6C121.8,514.9 123.5,515.4 125.2,515.9C126.9,516.4 128.6,517.3 130.3,517.7C132.0,518.1 133.7,518.3 135.5,518.5C137.2,518.7 138.9,518.9 140.6,518.7C142.3,518.6 144.0,517.9 145.7,517.5C147.4,517.1 149.1,516.5 150.8,516.3C152.6,516.1 154.3,516.0 156.0,516.1C157.7,516.3 159.4,516.9 161.1,517.2C162.8,517.4 164.5,517.7 166.2,517.7C167.9,517.6 169.7,517.1 171.4,516.8C173.1,516.5 175.6,516.2 176.5,516.1L176.5,524.5C175.6,524.6 173.1,524.9 171.4,525.2C169.7,525.5 167.9,526.0 166.2,526.1C164.5,526.1 162.8,525.8 161.1,525.5C159.4,525.3 157.7,524.5 156.0,524.5C154.3,524.5 152.6,524.9 150.8,525.4C149.1,525.8 147.4,526.7 145.7,527.3C144.0,527.9 142.3,529.0 140.6,529.2C138.9,529.4 137.2,528.8 135.5,528.4C133.7,528.1 132.0,527.7 130.3,527.1C128.6,526.5 126.9,525.4 125.2,524.7C123.5,524.0 121.8,523.3 120.1,522.9C118.4,522.4 116.6,522.3 114.9,522.1C113.2,521.8 111.5,521.3 109.8,521.5C108.1,521.8 106.4,522.8 104.7,523.6C103.0,524.5 100.8,526.1 99.5,526.8C98.3,527.5 97.8,527.7 97.0,527.8C96.1,527.9 95.7,527.8 94.4,527.3C93.1,526.7 91.0,525.6 89.3,524.5C87.6,523.4 85.9,521.8 84.2,520.7C82.4,519.6 80.7,518.5 79.0,517.9C77.3,517.4 75.6,517.3 73.9,517.3C72.2,517.2 70.5,517.8 68.8,517.6C67.1,517.4 65.3,516.1 63.6,516.1C61.9,516.1 59.4,517.4 58.5,517.6Z" fill="#dde0f4" fill-opacity="1.0" stroke="#8c92d0" stroke-width="1.1"/><path d="M58.5,517.2C59.4,517.3 61.9,518.5 63.6,518.2C65.3,517.9 67.1,516.4 68.8,515.6C70.5,514.8 72.2,514.0 73.9,513.5C75.6,513.0 77.3,513.4 79.0,512.4C80.7,511.5 82.4,509.3 84.2,507.7C85.9,506.2 87.6,504.3 89.3,503.2C91.0,502.1 93.1,501.4 94.4,501.1C95.7,500.7 96.1,500.9 97.0,501.1C97.8,501.3 98.3,501.5 99.5,502.3C100.8,503.1 103.0,504.9 104.7,506.1C106.4,507.4 108.5,509.0 109.8,509.8C111.1,510.6 111.5,510.9 112.4,510.9C113.2,510.9 113.7,510.4 114.9,509.8C116.2,509.2 118.4,507.2 120.1,507.2C121.8,507.2 124.1,509.2 125.2,509.8C126.3,510.4 125.9,511.1 126.7,510.9C127.6,510.6 128.9,509.3 130.3,508.2C131.8,507.2 133.7,505.6 135.5,504.6C137.2,503.5 139.5,502.3 140.6,501.8C141.7,501.3 141.3,501.3 142.1,501.6C143.0,501.9 144.3,503.1 145.7,503.7C147.2,504.3 149.1,505.1 150.8,505.4C152.6,505.8 154.3,505.8 156.0,505.6C157.7,505.4 159.4,504.7 161.1,504.2C162.8,503.7 164.5,502.9 166.2,502.6C167.9,502.4 169.7,502.3 171.4,502.6C173.1,503.0 175.6,504.3 176.5,504.6" fill="none" stroke="#cd3722" stroke-width="1.6"/><path d="M58.5,517.2C59.4,516.9 61.9,516.0 63.6,515.6C65.3,515.1 67.1,514.8 68.8,514.5C70.5,514.3 72.2,514.0 73.9,514.0C75.6,514.0 77.3,514.0 79.0,514.5C80.7,515.1 82.4,516.1 84.2,517.2C85.9,518.2 87.6,519.8 89.3,520.8C91.0,521.9 93.1,522.9 94.4,523.5C95.7,524.0 96.1,524.1 97.0,524.0C97.8,523.9 98.3,523.6 99.5,522.9C100.8,522.2 103.0,520.7 104.7,519.8C106.4,518.9 108.1,517.9 109.8,517.7C111.5,517.4 113.2,518.0 114.9,518.2C116.6,518.4 118.4,518.4 120.1,518.7C121.8,519.1 123.5,519.7 125.2,520.3C126.9,520.9 128.6,521.9 130.3,522.4C132.0,522.9 133.7,523.2 135.5,523.5C137.2,523.7 138.9,524.2 140.6,524.0C142.3,523.8 144.0,522.9 145.7,522.4C147.4,521.9 149.1,521.2 150.8,520.8C152.6,520.5 154.3,520.2 156.0,520.3C157.7,520.4 159.4,521.1 161.1,521.4C162.8,521.6 164.5,521.9 166.2,521.9C167.9,521.8 169.7,521.3 171.4,521.0C173.1,520.7 175.6,520.4 176.5,520.3" fill="none" stroke="#4b56ad" stroke-width="1.6"/></g>
<line x1="69.0" y1="555.2" x2="69.0" y2="553.7" stroke="#222" stroke-width="1"/>
<line x1="69.0" y1="478.5" x2="69.0" y2="480.0" stroke="#222" stroke-width="1"/>
<line x1="120.3" y1="555.2" x2="120.3" y2="553.7" stroke="#222" stroke-width="1"/>
<line x1="120.3" y1="478.5" x2="120.3" y2="480.0" stroke="#222" stroke-width="1"/>
<line x1="171.6" y1="555.2" x2="171.6" y2="553.7" stroke="#222" stroke-width="1"/>
<line x1="171.6" y1="478.5" x2="171.6" y2="480.0" stroke="#222" stroke-width="1"/>
<line x1="58.7" y1="555.2" x2="60.2" y2="555.2" stroke="#222" stroke-width="1"/>
<line x1="176.7" y1="555.2" x2="175.2" y2="555.2" stroke="#222" stroke-width="1"/>
<line x1="58.7" y1="536.0" x2="60.2" y2="536.0" stroke="#222" stroke-width="1"/>
<line x1="176.7" y1="536.0" x2="175.2" y2="536.0" stroke="#222" stroke-width="1"/>
<line x1="58.7" y1="516.9" x2="60.2" y2="516.9" stroke="#222" stroke-width="1"/>
<line x1="176.7" y1="516.9" x2="175.2" y2="516.9" stroke="#222" stroke-width="1"/>
<line x1="58.7" y1="497.7" x2="60.2" y2="497.7" stroke="#222" stroke-width="1"/>
<line x1="176.7" y1="497.7" x2="175.2" y2="497.7" stroke="#222" stroke-width="1"/>
<line x1="58.7" y1="478.5" x2="60.2" y2="478.5" stroke="#222" stroke-width="1"/>
<line x1="176.7" y1="478.5" x2="175.2" y2="478.5" stroke="#222" stroke-width="1"/>
<rect x="58.7" y="478.5" width="118.0" height="76.7" fill="none" stroke="#000" stroke-width="1.45"/>
<text x="69.0" y="573.3" text-anchor="middle" font-size="16" font-family="Liberation Sans, sans-serif" stroke="#000" stroke-width="0.45" fill="#000">0</text>
<text x="120.3" y="573.3" text-anchor="middle" font-size="16" font-family="Liberation Sans, sans-serif" stroke="#000" stroke-width="0.45" fill="#000">10</text>
<text x="171.6" y="573.3" text-anchor="middle" font-size="16" font-family="Liberation Sans, sans-serif" stroke="#000" stroke-width="0.45" fill="#000">20</text>
<text x="52.5" y="483.9" text-anchor="end" font-size="16" font-family="Liberation Sans, sans-serif" stroke="#000" stroke-width="0.45" fill="#000">0.4</text>
<text x="52.5" y="503.1" text-anchor="end" font-size="16" font-family="Liberation Sans, sans-serif" stroke="#000" stroke-width="0.45" fill="#000">0.2</text>
<text x="52.5" y="522.2" text-anchor="end" font-size="16" font-family="Liberation Sans, sans-serif" stroke="#000" stroke-width="0.45" fill="#000">0</text>
<text x="52.5" y="541.4" text-anchor="end" font-size="16" font-family="Liberation Sans, sans-serif" stroke="#000" stroke-width="0.45" fill="#000">-0.2</text>
<text x="52.5" y="560.6" text-anchor="end" font-size="16" font-family="Liberation Sans, sans-serif" stroke="#000" stroke-width="0.45" fill="#000">-0.4</text>
<text transform="translate(16.2 518.6) rotate(-90)" x="0" y="0" text-anchor="middle" font-size="16" letter-spacing="0.45" font-family="Liberation Sans, sans-serif" stroke="#000" stroke-width="0.45" fill="#000">dConc (<tspan font-style="italic">μ</tspan>M)</text>
<text x="246.6" y="467.5" text-anchor="middle" font-size="16" letter-spacing="0.5" font-family="Liberation Sans, sans-serif" stroke="#000" stroke-width="0.45" fill="#000">channel 2-R</text>
<rect x="213.3" y="480.9" width="25.7" height="71.9" fill="#e3e3e3"/>
<clipPath id="c31"><rect x="187.6" y="478.5" width="118.0" height="76.7"/></clipPath>
<g clip-path="url(#c31)"><path d="M188.0,516.7C188.9,516.8 191.4,517.7 193.1,517.4C194.8,517.2 196.6,516.1 198.3,515.1C200.0,514.0 201.7,512.8 203.4,511.2C205.1,509.6 206.8,507.3 208.5,505.3C210.2,503.4 211.9,501.3 213.7,499.4C215.4,497.6 217.1,495.0 218.8,494.3C220.5,493.6 222.2,494.9 223.9,495.3C225.6,495.7 227.3,495.6 229.0,496.6C230.8,497.6 232.5,499.5 234.2,501.3C235.9,503.1 238.3,506.3 239.3,507.5C240.3,508.8 239.5,509.3 240.3,508.6C241.2,507.9 242.9,504.1 244.4,503.2C246.0,502.3 247.9,503.0 249.6,503.1C251.3,503.3 253.0,503.7 254.7,504.0C256.4,504.4 258.5,505.0 259.8,505.3C261.1,505.7 261.5,506.3 262.4,506.2C263.2,506.2 263.7,505.7 265.0,505.0C266.2,504.4 268.4,502.5 270.1,502.1C271.8,501.8 273.5,502.9 275.2,502.9C276.9,502.9 278.6,502.6 280.3,502.2C282.1,501.7 283.8,500.8 285.5,500.3C287.2,499.9 288.9,499.8 290.6,499.6C292.3,499.3 294.0,499.2 295.7,499.0C297.4,498.7 299.2,498.2 300.9,498.1C302.6,498.0 305.1,498.1 306.0,498.1L306.0,507.5C305.1,507.5 302.6,507.4 300.9,507.5C299.2,507.7 297.4,508.1 295.7,508.4C294.0,508.8 292.3,509.2 290.6,509.6C288.9,510.0 287.2,510.3 285.5,510.9C283.8,511.5 282.1,512.7 280.3,513.3C278.6,513.9 276.9,514.4 275.2,514.6C273.5,514.8 271.8,513.7 270.1,514.4C268.4,515.1 266.2,517.7 265.0,518.8C263.7,519.9 263.2,520.4 262.4,520.7C261.5,521.0 261.1,520.6 259.8,520.6C258.5,520.6 256.4,521.0 254.7,520.8C253.0,520.7 251.3,519.9 249.6,519.7C247.9,519.5 246.0,518.7 244.4,519.5C242.9,520.4 241.2,524.0 240.3,524.7C239.5,525.4 240.3,524.9 239.3,523.6C238.3,522.4 235.9,519.1 234.2,517.3C232.5,515.4 230.8,513.6 229.0,512.5C227.3,511.5 225.6,511.5 223.9,511.1C222.2,510.7 220.5,509.9 218.8,510.0C217.1,510.1 215.4,511.1 213.7,511.8C211.9,512.5 210.2,513.5 208.5,514.3C206.8,515.1 205.1,516.0 203.4,516.8C201.7,517.6 200.0,519.1 198.3,519.3C196.6,519.4 194.8,518.3 193.1,517.9C191.4,517.6 188.9,517.1 188.0,517.0Z" fill="#fde2da" fill-opacity="1.0" stroke="#ef9381" stroke-width="1.1"/><path d="M188.0,516.4C188.9,516.3 191.4,516.4 193.1,515.4C194.8,514.4 196.6,511.4 198.3,510.5C200.0,509.7 201.7,509.9 203.4,510.3C205.1,510.7 206.8,512.1 208.5,513.0C210.2,513.8 211.9,514.8 213.7,515.6C215.4,516.4 217.1,517.2 218.8,517.7C220.5,518.2 222.2,518.7 223.9,518.7C225.6,518.7 227.3,518.4 229.0,517.7C230.8,517.0 232.5,515.5 234.2,514.5C235.9,513.6 238.0,512.4 239.3,511.9C240.6,511.4 241.0,511.0 241.9,511.4C242.7,511.8 243.2,513.6 244.4,514.4C245.7,515.1 247.9,515.8 249.6,515.8C251.3,515.8 253.0,514.8 254.7,514.4C256.4,513.9 258.1,513.0 259.8,513.0C261.5,512.9 263.2,513.7 265.0,514.0C266.7,514.3 268.4,514.4 270.1,514.5C271.8,514.6 273.5,514.6 275.2,514.5C276.9,514.4 278.6,514.2 280.3,514.0C282.1,513.9 283.8,513.7 285.5,513.7C287.2,513.6 288.9,513.5 290.6,513.7C292.3,513.8 294.0,514.2 295.7,514.4C297.4,514.5 299.2,514.6 300.9,514.7C302.6,514.8 305.1,515.0 306.0,515.1L306.0,523.5C305.1,523.4 302.6,523.2 300.9,523.1C299.2,523.0 297.4,522.9 295.7,522.8C294.0,522.6 292.3,522.2 290.6,522.1C288.9,521.9 287.2,522.0 285.5,522.1C283.8,522.1 282.1,522.3 280.3,522.4C278.6,522.5 276.9,522.8 275.2,522.9C273.5,523.0 271.8,523.0 270.1,522.9C268.4,522.8 266.7,522.7 265.0,522.4C263.2,522.1 261.5,521.3 259.8,521.4C258.1,521.4 256.4,522.3 254.7,522.8C253.0,523.2 251.3,524.2 249.6,524.2C247.9,524.2 245.7,523.5 244.4,522.8C243.2,522.0 242.7,520.2 241.9,519.8C241.0,519.4 240.6,519.8 239.3,520.3C238.0,520.8 235.9,522.0 234.2,522.9C232.5,523.9 230.8,525.4 229.0,526.1C227.3,526.8 225.6,527.1 223.9,527.1C222.2,527.1 220.5,526.6 218.8,526.1C217.1,525.5 215.4,524.8 213.7,524.0C211.9,523.2 210.2,522.2 208.5,521.4C206.8,520.5 205.1,519.1 203.4,518.7C201.7,518.3 200.0,519.2 198.3,518.9C196.6,518.6 194.8,517.0 193.1,516.8C191.4,516.7 188.9,517.7 188.0,517.9Z" fill="#dde0f4" fill-opacity="1.0" stroke="#8c92d0" stroke-width="1.1"/><path d="M188.0,516.8C188.9,517.0 191.4,517.6 193.1,517.7C194.8,517.7 196.6,517.8 198.3,517.2C200.0,516.5 201.7,515.2 203.4,514.0C205.1,512.8 206.8,511.2 208.5,509.8C210.2,508.4 211.9,506.9 213.7,505.6C215.4,504.3 217.1,502.5 218.8,502.1C220.5,501.7 222.2,502.8 223.9,503.2C225.6,503.6 227.3,503.6 229.0,504.6C230.8,505.6 232.5,507.5 234.2,509.3C235.9,511.1 238.3,514.4 239.3,515.6C240.3,516.8 239.5,517.3 240.3,516.6C241.2,515.9 242.9,512.3 244.4,511.4C246.0,510.5 247.9,511.2 249.6,511.4C251.3,511.6 253.0,512.2 254.7,512.4C256.4,512.7 258.5,512.8 259.8,513.0C261.1,513.1 261.5,513.7 262.4,513.5C263.2,513.3 263.7,512.8 265.0,511.9C266.2,511.0 268.4,508.8 270.1,508.2C271.8,507.7 273.5,508.9 275.2,508.8C276.9,508.7 278.6,508.2 280.3,507.7C282.1,507.2 283.8,506.1 285.5,505.6C287.2,505.1 288.9,504.9 290.6,504.6C292.3,504.3 294.0,504.0 295.7,503.7C297.4,503.4 299.2,503.0 300.9,502.8C302.6,502.7 305.1,502.8 306.0,502.8" fill="none" stroke="#cd3722" stroke-width="1.6"/><path d="M188.0,517.2C188.9,517.0 191.4,516.5 193.1,516.1C194.8,515.7 196.6,515.0 198.3,514.7C200.0,514.4 201.7,514.1 203.4,514.5C205.1,514.9 206.8,516.3 208.5,517.2C210.2,518.0 211.9,519.0 213.7,519.8C215.4,520.6 217.1,521.4 218.8,521.9C220.5,522.4 222.2,522.9 223.9,522.9C225.6,522.9 227.3,522.6 229.0,521.9C230.8,521.2 232.5,519.7 234.2,518.7C235.9,517.8 238.0,516.6 239.3,516.1C240.6,515.6 241.0,515.2 241.9,515.6C242.7,516.0 243.2,517.8 244.4,518.6C245.7,519.3 247.9,520.0 249.6,520.0C251.3,520.0 253.0,519.0 254.7,518.6C256.4,518.1 258.1,517.2 259.8,517.2C261.5,517.1 263.2,517.9 265.0,518.2C266.7,518.5 268.4,518.6 270.1,518.7C271.8,518.8 273.5,518.8 275.2,518.7C276.9,518.6 278.6,518.4 280.3,518.2C282.1,518.1 283.8,517.9 285.5,517.9C287.2,517.8 288.9,517.7 290.6,517.9C292.3,518.0 294.0,518.4 295.7,518.6C297.4,518.7 299.2,518.8 300.9,518.9C302.6,519.0 305.1,519.2 306.0,519.3" fill="none" stroke="#4b56ad" stroke-width="1.6"/></g>
<line x1="197.9" y1="555.2" x2="197.9" y2="553.7" stroke="#222" stroke-width="1"/>
<line x1="197.9" y1="478.5" x2="197.9" y2="480.0" stroke="#222" stroke-width="1"/>
<line x1="249.2" y1="555.2" x2="249.2" y2="553.7" stroke="#222" stroke-width="1"/>
<line x1="249.2" y1="478.5" x2="249.2" y2="480.0" stroke="#222" stroke-width="1"/>
<line x1="300.5" y1="555.2" x2="300.5" y2="553.7" stroke="#222" stroke-width="1"/>
<line x1="300.5" y1="478.5" x2="300.5" y2="480.0" stroke="#222" stroke-width="1"/>
<line x1="187.6" y1="555.2" x2="189.1" y2="555.2" stroke="#222" stroke-width="1"/>
<line x1="305.6" y1="555.2" x2="304.1" y2="555.2" stroke="#222" stroke-width="1"/>
<line x1="187.6" y1="536.0" x2="189.1" y2="536.0" stroke="#222" stroke-width="1"/>
<line x1="305.6" y1="536.0" x2="304.1" y2="536.0" stroke="#222" stroke-width="1"/>
<line x1="187.6" y1="516.9" x2="189.1" y2="516.9" stroke="#222" stroke-width="1"/>
<line x1="305.6" y1="516.9" x2="304.1" y2="516.9" stroke="#222" stroke-width="1"/>
<line x1="187.6" y1="497.7" x2="189.1" y2="497.7" stroke="#222" stroke-width="1"/>
<line x1="305.6" y1="497.7" x2="304.1" y2="497.7" stroke="#222" stroke-width="1"/>
<line x1="187.6" y1="478.5" x2="189.1" y2="478.5" stroke="#222" stroke-width="1"/>
<line x1="305.6" y1="478.5" x2="304.1" y2="478.5" stroke="#222" stroke-width="1"/>
<rect x="187.6" y="478.5" width="118.0" height="76.7" fill="none" stroke="#000" stroke-width="1.45"/>
<text x="197.9" y="573.3" text-anchor="middle" font-size="16" font-family="Liberation Sans, sans-serif" stroke="#000" stroke-width="0.45" fill="#000">0</text>
<text x="249.2" y="573.3" text-anchor="middle" font-size="16" font-family="Liberation Sans, sans-serif" stroke="#000" stroke-width="0.45" fill="#000">10</text>
<text x="300.5" y="573.3" text-anchor="middle" font-size="16" font-family="Liberation Sans, sans-serif" stroke="#000" stroke-width="0.45" fill="#000">20</text>
<text x="479.3" y="467.5" text-anchor="middle" font-size="16" letter-spacing="0.5" font-family="Liberation Sans, sans-serif" stroke="#000" stroke-width="0.45" fill="#000">channel 2-L</text>
<rect x="446.0" y="480.9" width="25.7" height="71.9" fill="#e3e3e3"/>
<clipPath id="c32"><rect x="420.3" y="478.5" width="118.0" height="76.7"/></clipPath>
<g clip-path="url(#c32)"><path d="M420.0,516.4C420.9,516.2 423.4,515.8 425.1,515.3C426.8,514.9 428.6,514.1 430.3,513.7C432.0,513.3 433.7,513.3 435.4,513.0C437.1,512.6 438.8,511.7 440.5,511.7C442.2,511.6 443.9,512.9 445.7,512.5C447.4,512.0 449.6,509.8 450.8,509.1C452.0,508.4 452.0,507.9 452.8,508.2C453.7,508.6 454.5,509.9 455.9,511.0C457.3,512.0 459.3,513.5 461.0,514.4C462.8,515.3 464.5,515.9 466.2,516.3C467.9,516.8 470.2,517.0 471.3,517.2C472.4,517.4 472.0,517.8 472.8,517.5C473.7,517.2 475.4,516.2 476.4,515.3C477.5,514.4 478.1,513.7 479.0,512.1C479.9,510.5 480.3,507.2 481.6,505.8C482.8,504.3 485.0,503.8 486.7,503.4C488.4,503.0 490.1,503.2 491.8,503.3C493.5,503.5 495.2,503.9 497.0,504.6C498.7,505.2 500.4,506.1 502.1,507.2C503.8,508.3 505.5,510.2 507.2,511.4C508.9,512.6 511.1,513.9 512.3,514.5C513.6,515.1 514.1,515.1 514.9,515.1C515.8,515.0 516.2,514.7 517.5,514.1C518.8,513.5 520.9,512.2 522.6,511.6C524.3,510.9 526.0,510.5 527.7,510.1C529.4,509.7 531.2,509.5 532.9,509.2C534.6,508.9 537.1,508.4 538.0,508.2L538.0,522.9C537.1,523.1 534.6,523.7 532.9,524.1C531.2,524.5 529.4,524.8 527.7,525.3C526.0,525.7 524.3,526.2 522.6,526.9C520.9,527.7 518.8,529.0 517.5,529.7C516.2,530.3 515.8,530.7 514.9,530.8C514.1,530.9 513.6,530.9 512.3,530.3C511.1,529.7 508.9,528.3 507.2,527.1C505.5,525.9 503.8,524.1 502.1,522.9C500.4,521.8 498.7,520.9 497.0,520.3C495.2,519.7 493.5,519.3 491.8,519.1C490.1,518.9 488.4,518.7 486.7,519.0C485.0,519.4 482.8,519.8 481.6,521.2C480.3,522.6 479.9,525.9 479.0,527.4C478.1,529.0 477.5,529.7 476.4,530.5C475.4,531.4 473.7,532.3 472.8,532.5C472.0,532.8 472.4,532.3 471.3,531.8C470.2,531.3 467.9,530.5 466.2,529.5C464.5,528.6 462.8,527.5 461.0,526.2C459.3,524.8 457.3,522.7 455.9,521.3C454.5,519.8 453.7,518.2 452.8,517.7C452.0,517.1 452.0,517.6 450.8,517.9C449.6,518.2 447.4,519.8 445.7,519.7C443.9,519.7 442.2,517.8 440.5,517.4C438.8,517.0 437.1,517.2 435.4,517.2C433.7,517.2 432.0,517.7 430.3,517.4C428.6,517.2 426.8,516.0 425.1,515.9C423.4,515.8 420.9,516.7 420.0,516.9Z" fill="#fde2da" fill-opacity="1.0" stroke="#ef9381" stroke-width="1.1"/><path d="M420.0,516.2C420.9,516.2 423.4,516.7 425.1,516.4C426.8,516.0 428.6,514.4 430.3,514.1C432.0,513.7 433.7,514.2 435.4,514.3C437.1,514.4 438.8,514.6 440.5,514.7C442.2,514.8 443.9,514.6 445.7,515.1C447.4,515.6 449.6,516.9 450.8,517.6C452.0,518.2 452.0,518.8 452.8,519.1C453.7,519.3 454.5,519.3 455.9,519.1C457.3,518.8 459.3,518.1 461.0,517.4C462.8,516.8 464.5,516.1 466.2,515.3C467.9,514.5 470.0,513.3 471.3,512.6C472.6,512.0 473.0,511.2 473.9,511.3C474.7,511.4 475.6,512.7 476.4,513.2C477.3,513.7 478.1,514.0 479.0,514.5C479.9,515.1 480.3,515.8 481.6,516.4C482.8,517.0 485.0,517.7 486.7,518.0C488.4,518.4 490.1,518.5 491.8,518.3C493.5,518.2 495.2,517.7 497.0,517.2C498.7,516.7 500.4,516.0 502.1,515.2C503.8,514.4 505.5,513.3 507.2,512.7C508.9,512.0 510.6,511.4 512.3,511.2C514.1,511.0 515.8,511.2 517.5,511.4C519.2,511.7 520.9,512.4 522.6,512.9C524.3,513.4 526.0,514.0 527.7,514.5C529.4,514.9 531.2,515.2 532.9,515.6C534.6,515.9 537.1,516.5 538.0,516.6L538.0,525.0C537.1,524.9 534.6,524.3 532.9,524.0C531.2,523.7 529.4,523.4 527.7,523.0C526.0,522.6 524.3,521.9 522.6,521.5C520.9,521.0 519.2,520.3 517.5,520.1C515.8,519.8 514.1,519.7 512.3,520.0C510.6,520.2 508.9,520.9 507.2,521.6C505.5,522.4 503.8,523.5 502.1,524.4C500.4,525.2 498.7,526.0 497.0,526.6C495.2,527.2 493.5,527.7 491.8,527.9C490.1,528.1 488.4,528.3 486.7,527.8C485.0,527.4 482.8,526.1 481.6,525.3C480.3,524.4 479.9,523.6 479.0,522.9C478.1,522.2 477.3,521.8 476.4,521.1C475.6,520.4 474.7,519.0 473.9,518.8C473.0,518.5 472.6,519.0 471.3,519.6C470.0,520.2 467.9,521.4 466.2,522.2C464.5,522.9 462.8,523.6 461.0,524.2C459.3,524.8 457.3,525.5 455.9,525.7C454.5,526.0 453.7,526.0 452.8,525.7C452.0,525.4 452.0,524.8 450.8,524.1C449.6,523.4 447.4,521.9 445.7,521.3C443.9,520.8 442.2,520.9 440.5,520.7C438.8,520.4 437.1,520.2 435.4,520.0C433.7,519.8 432.0,520.0 430.3,519.5C428.6,519.1 426.8,517.7 425.1,517.2C423.4,516.8 420.9,517.1 420.0,517.1Z" fill="#dde0f4" fill-opacity="1.0" stroke="#8c92d0" stroke-width="1.1"/><path d="M420.0,516.6C420.9,516.5 423.4,515.8 425.1,515.6C426.8,515.4 428.6,515.7 430.3,515.6C432.0,515.5 433.7,515.2 435.4,515.1C437.1,514.9 438.8,514.4 440.5,514.5C442.2,514.7 443.9,516.3 445.7,516.1C447.4,515.9 449.6,514.0 450.8,513.5C452.0,513.0 452.0,512.5 452.8,513.0C453.7,513.4 454.5,514.9 455.9,516.1C457.3,517.3 459.3,519.2 461.0,520.3C462.8,521.4 464.5,522.2 466.2,522.9C467.9,523.6 470.2,524.2 471.3,524.5C472.4,524.9 472.0,525.3 472.8,525.0C473.7,524.8 475.4,523.8 476.4,522.9C477.5,522.1 478.1,521.4 479.0,519.8C479.9,518.2 480.3,514.9 481.6,513.5C482.8,512.1 485.0,511.6 486.7,511.2C488.4,510.8 490.1,511.0 491.8,511.2C493.5,511.4 495.2,511.8 497.0,512.4C498.7,513.1 500.4,513.9 502.1,515.1C503.8,516.2 505.5,518.0 507.2,519.3C508.9,520.5 511.1,521.8 512.3,522.4C513.6,523.0 514.1,523.0 514.9,522.9C515.8,522.8 516.2,522.5 517.5,521.9C518.8,521.3 520.9,520.0 522.6,519.3C524.3,518.6 526.0,518.1 527.7,517.7C529.4,517.2 531.2,517.0 532.9,516.6C534.6,516.3 537.1,515.8 538.0,515.6" fill="none" stroke="#cd3722" stroke-width="1.6"/><path d="M420.0,516.6C420.9,516.7 423.4,516.8 425.1,516.8C426.8,516.8 428.6,516.8 430.3,516.8C432.0,516.9 433.7,517.0 435.4,517.2C437.1,517.3 438.8,517.5 440.5,517.7C442.2,517.9 443.9,517.7 445.7,518.2C447.4,518.7 449.6,520.1 450.8,520.8C452.0,521.5 452.0,522.1 452.8,522.4C453.7,522.7 454.5,522.7 455.9,522.4C457.3,522.1 459.3,521.4 461.0,520.8C462.8,520.2 464.5,519.5 466.2,518.7C467.9,517.9 470.0,516.7 471.3,516.1C472.6,515.5 473.0,514.9 473.9,515.1C474.7,515.2 475.6,516.5 476.4,517.2C477.3,517.8 478.1,518.1 479.0,518.7C479.9,519.3 480.3,520.1 481.6,520.8C482.8,521.5 485.0,522.5 486.7,522.9C488.4,523.3 490.1,523.3 491.8,523.1C493.5,522.9 495.2,522.4 497.0,521.9C498.7,521.3 500.4,520.6 502.1,519.8C503.8,519.0 505.5,517.9 507.2,517.2C508.9,516.5 510.6,515.8 512.3,515.6C514.1,515.4 515.8,515.5 517.5,515.8C519.2,516.0 520.9,516.7 522.6,517.2C524.3,517.7 526.0,518.3 527.7,518.7C529.4,519.2 531.2,519.4 532.9,519.8C534.6,520.1 537.1,520.7 538.0,520.8" fill="none" stroke="#4b56ad" stroke-width="1.6"/></g>
<line x1="430.6" y1="555.2" x2="430.6" y2="553.7" stroke="#222" stroke-width="1"/>
<line x1="430.6" y1="478.5" x2="430.6" y2="480.0" stroke="#222" stroke-width="1"/>
<line x1="481.9" y1="555.2" x2="481.9" y2="553.7" stroke="#222" stroke-width="1"/>
<line x1="481.9" y1="478.5" x2="481.9" y2="480.0" stroke="#222" stroke-width="1"/>
<line x1="533.2" y1="555.2" x2="533.2" y2="553.7" stroke="#222" stroke-width="1"/>
<line x1="533.2" y1="478.5" x2="533.2" y2="480.0" stroke="#222" stroke-width="1"/>
<line x1="420.3" y1="555.2" x2="421.8" y2="555.2" stroke="#222" stroke-width="1"/>
<line x1="538.3" y1="555.2" x2="536.8" y2="555.2" stroke="#222" stroke-width="1"/>
<line x1="420.3" y1="536.0" x2="421.8" y2="536.0" stroke="#222" stroke-width="1"/>
<line x1="538.3" y1="536.0" x2="536.8" y2="536.0" stroke="#222" stroke-width="1"/>
<line x1="420.3" y1="516.9" x2="421.8" y2="516.9" stroke="#222" stroke-width="1"/>
<line x1="538.3" y1="516.9" x2="536.8" y2="516.9" stroke="#222" stroke-width="1"/>
<line x1="420.3" y1="497.7" x2="421.8" y2="497.7" stroke="#222" stroke-width="1"/>
<line x1="538.3" y1="497.7" x2="536.8" y2="497.7" stroke="#222" stroke-width="1"/>
<line x1="420.3" y1="478.5" x2="421.8" y2="478.5" stroke="#222" stroke-width="1"/>
<line x1="538.3" y1="478.5" x2="536.8" y2="478.5" stroke="#222" stroke-width="1"/>
<rect x="420.3" y="478.5" width="118.0" height="76.7" fill="none" stroke="#000" stroke-width="1.45"/>
<text x="430.6" y="573.3" text-anchor="middle" font-size="16" font-family="Liberation Sans, sans-serif" stroke="#000" stroke-width="0.45" fill="#000">0</text>
<text x="481.9" y="573.3" text-anchor="middle" font-size="16" font-family="Liberation Sans, sans-serif" stroke="#000" stroke-width="0.45" fill="#000">10</text>
<text x="533.2" y="573.3" text-anchor="middle" font-size="16" font-family="Liberation Sans, sans-serif" stroke="#000" stroke-width="0.45" fill="#000">20</text>
<text x="414.1" y="483.9" text-anchor="end" font-size="16" font-family="Liberation Sans, sans-serif" stroke="#000" stroke-width="0.45" fill="#000">0.4</text>
<text x="414.1" y="503.1" text-anchor="end" font-size="16" font-family="Liberation Sans, sans-serif" stroke="#000" stroke-width="0.45" fill="#000">0.2</text>
<text x="414.1" y="522.2" text-anchor="end" font-size="16" font-family="Liberation Sans, sans-serif" stroke="#000" stroke-width="0.45" fill="#000">0</text>
<text x="414.1" y="541.4" text-anchor="end" font-size="16" font-family="Liberation Sans, sans-serif" stroke="#000" stroke-width="0.45" fill="#000">-0.2</text>
<text x="414.1" y="560.6" text-anchor="end" font-size="16" font-family="Liberation Sans, sans-serif" stroke="#000" stroke-width="0.45" fill="#000">-0.4</text>
<text x="607.9" y="467.5" text-anchor="middle" font-size="16" letter-spacing="0.5" font-family="Liberation Sans, sans-serif" stroke="#000" stroke-width="0.45" fill="#000">channel 2-R</text>
<rect x="574.6" y="480.9" width="25.7" height="71.9" fill="#e3e3e3"/>
<clipPath id="c33"><rect x="548.9" y="478.5" width="118.0" height="76.7"/></clipPath>
<g clip-path="url(#c33)"><path d="M549.0,519.5C549.9,519.0 552.4,517.9 554.1,516.3C555.8,514.7 557.6,511.1 559.3,509.9C561.0,508.6 562.7,509.0 564.4,508.8C566.1,508.6 567.8,509.0 569.5,508.8C571.2,508.6 572.9,507.8 574.7,507.5C576.4,507.3 578.1,507.1 579.8,507.0C581.5,507.0 583.2,506.8 584.9,507.3C586.6,507.8 588.3,508.5 590.0,510.0C591.8,511.5 593.5,514.7 595.2,516.4C596.9,518.0 599.2,519.4 600.3,520.1C601.4,520.8 601.0,521.0 601.8,520.7C602.7,520.3 604.4,519.0 605.4,518.0C606.5,516.9 607.1,515.1 608.0,514.3C608.9,513.5 609.3,513.8 610.6,513.2C611.8,512.5 614.0,511.3 615.7,510.5C617.4,509.7 619.5,508.7 620.8,508.3C622.1,507.8 622.5,507.7 623.4,507.7C624.2,507.7 624.7,507.4 626.0,508.3C627.2,509.2 629.4,511.2 631.1,513.2C632.8,515.1 634.5,517.9 636.2,520.1C637.9,522.3 640.1,525.2 641.3,526.5C642.6,527.9 643.1,528.3 643.9,528.2C644.8,528.0 645.2,527.2 646.5,525.5C647.8,523.8 649.9,520.3 651.6,518.0C653.3,515.8 655.0,514.1 656.7,512.1C658.4,510.2 660.2,507.7 661.9,506.3C663.6,504.8 666.1,504.0 667.0,503.5L667.0,511.9C666.1,512.3 663.6,513.1 661.9,514.4C660.2,515.8 658.4,518.2 656.7,520.1C655.0,522.0 653.3,523.6 651.6,525.7C649.9,527.9 647.8,531.3 646.5,533.0C645.2,534.6 644.8,535.3 643.9,535.5C643.1,535.7 642.6,535.3 641.3,534.0C640.1,532.7 637.9,530.0 636.2,527.8C634.5,525.7 632.8,523.0 631.1,521.2C629.4,519.3 627.2,517.4 626.0,516.6C624.7,515.7 624.2,516.1 623.4,516.1C622.5,516.1 622.1,516.2 620.8,516.6C619.5,517.0 617.4,517.8 615.7,518.6C614.0,519.4 611.8,520.6 610.6,521.1C609.3,521.7 608.9,521.4 608.0,522.2C607.1,522.9 606.5,524.8 605.4,525.8C604.4,526.8 602.7,528.0 601.8,528.3C601.0,528.7 601.4,528.5 600.3,527.8C599.2,527.2 596.9,525.9 595.2,524.3C593.5,522.6 591.8,519.5 590.0,518.0C588.3,516.6 586.6,515.9 584.9,515.5C583.2,515.1 581.5,515.5 579.8,515.4C578.1,515.4 576.4,515.2 574.7,515.2C572.9,515.3 571.2,515.8 569.5,515.8C567.8,515.7 566.1,515.2 564.4,515.1C562.7,514.9 561.0,514.7 559.3,515.0C557.6,515.3 555.8,516.1 554.1,517.0C552.4,517.8 549.9,519.5 549.0,520.0Z" fill="#fde2da" fill-opacity="1.0" stroke="#ef9381" stroke-width="1.1"/><path d="M549.0,516.3C549.9,516.3 552.4,516.4 554.1,516.3C555.8,516.1 557.6,515.6 559.3,515.5C561.0,515.5 562.7,515.9 564.4,516.0C566.1,516.2 567.8,516.4 569.5,516.5C571.2,516.7 572.9,516.8 574.7,517.0C576.4,517.2 578.1,517.5 579.8,517.5C581.5,517.5 583.2,517.5 584.9,517.2C586.6,516.9 588.3,516.8 590.0,515.8C591.8,514.9 593.5,512.8 595.2,511.3C596.9,509.8 599.2,507.7 600.3,506.8C601.4,506.0 601.0,506.0 601.8,506.3C602.7,506.7 604.4,508.5 605.4,509.0C606.5,509.5 607.1,509.3 608.0,509.5C608.9,509.8 609.3,509.8 610.6,510.6C611.8,511.4 614.0,513.3 615.7,514.3C617.4,515.3 619.1,516.0 620.8,516.4C622.5,516.9 624.2,517.3 626.0,517.0C627.7,516.8 629.4,516.1 631.1,515.0C632.8,513.8 634.5,511.7 636.2,510.3C637.9,508.8 640.1,507.2 641.3,506.1C642.6,505.1 643.1,503.9 643.9,504.0C644.8,504.2 645.2,505.9 646.5,507.2C647.8,508.5 649.9,510.7 651.6,512.0C653.3,513.2 655.0,513.7 656.7,514.6C658.4,515.6 660.2,516.8 661.9,517.8C663.6,518.9 666.1,520.5 667.0,521.0L667.0,526.9C666.1,526.4 663.6,524.9 661.9,523.8C660.2,522.8 658.4,521.7 656.7,520.7C655.0,519.8 653.3,519.4 651.6,518.2C649.9,516.9 647.8,514.8 646.5,513.5C645.2,512.2 644.8,510.5 643.9,510.3C643.1,510.2 642.6,511.4 641.3,512.5C640.1,513.5 637.9,515.2 636.2,516.7C634.5,518.2 632.8,520.3 631.1,521.5C629.4,522.6 627.7,523.3 626.0,523.6C624.2,523.9 622.5,523.5 620.8,523.1C619.1,522.7 617.4,522.0 615.7,521.1C614.0,520.1 611.8,518.2 610.6,517.4C609.3,516.7 608.9,516.7 608.0,516.4C607.1,516.1 606.5,516.4 605.4,515.9C604.4,515.4 602.7,513.6 601.8,513.3C601.0,513.0 601.4,513.1 600.3,513.8C599.2,514.6 596.9,516.4 595.2,517.7C593.5,519.0 591.8,520.8 590.0,521.6C588.3,522.4 586.6,522.3 584.9,522.4C583.2,522.4 581.5,522.2 579.8,522.1C578.1,521.9 576.4,521.7 574.7,521.5C572.9,521.3 571.2,521.1 569.5,520.9C567.8,520.8 566.1,520.6 564.4,520.4C562.7,520.2 561.0,520.4 559.3,519.8C557.6,519.3 555.8,517.5 554.1,517.0C552.4,516.5 549.9,517.0 549.0,517.0Z" fill="#dde0f4" fill-opacity="1.0" stroke="#8c92d0" stroke-width="1.1"/><path d="M549.0,519.8C549.9,519.3 552.4,517.9 554.1,516.6C555.8,515.4 557.6,513.2 559.3,512.4C561.0,511.7 562.7,511.9 564.4,511.9C566.1,511.9 567.8,512.4 569.5,512.3C571.2,512.2 572.9,511.6 574.7,511.4C576.4,511.2 578.1,511.2 579.8,511.2C581.5,511.2 583.2,510.9 584.9,511.4C586.6,511.9 588.3,512.5 590.0,514.0C591.8,515.5 593.5,518.6 595.2,520.3C596.9,522.0 599.2,523.3 600.3,524.0C601.4,524.7 601.0,524.9 601.8,524.5C602.7,524.2 604.4,522.9 605.4,521.9C606.5,520.8 607.1,519.0 608.0,518.2C608.9,517.4 609.3,517.8 610.6,517.2C611.8,516.5 614.0,515.3 615.7,514.5C617.4,513.7 619.5,512.9 620.8,512.4C622.1,512.0 622.5,511.9 623.4,511.9C624.2,511.9 624.7,511.6 626.0,512.4C627.2,513.3 629.4,515.2 631.1,517.2C632.8,519.1 634.5,521.8 636.2,524.0C637.9,526.2 640.1,529.0 641.3,530.3C642.6,531.6 643.1,532.0 643.9,531.8C644.8,531.7 645.2,530.9 646.5,529.2C647.8,527.6 649.9,524.1 651.6,521.9C653.3,519.7 655.0,518.0 656.7,516.1C658.4,514.2 660.2,511.7 661.9,510.3C663.6,508.9 666.1,508.2 667.0,507.7" fill="none" stroke="#cd3722" stroke-width="1.6"/><path d="M549.0,516.6C549.9,516.6 552.4,516.5 554.1,516.6C555.8,516.8 557.6,517.4 559.3,517.7C561.0,517.9 562.7,518.0 564.4,518.2C566.1,518.4 567.8,518.6 569.5,518.7C571.2,518.9 572.9,519.1 574.7,519.3C576.4,519.4 578.1,519.7 579.8,519.8C581.5,519.9 583.2,520.0 584.9,519.8C586.6,519.6 588.3,519.6 590.0,518.7C591.8,517.9 593.5,515.9 595.2,514.5C596.9,513.1 599.2,511.1 600.3,510.3C601.4,509.6 601.0,509.5 601.8,509.8C602.7,510.2 604.4,511.9 605.4,512.4C606.5,513.0 607.1,512.7 608.0,513.0C608.9,513.2 609.3,513.2 610.6,514.0C611.8,514.8 614.0,516.7 615.7,517.7C617.4,518.6 619.1,519.3 620.8,519.8C622.5,520.2 624.2,520.6 626.0,520.3C627.7,520.0 629.4,519.3 631.1,518.2C632.8,517.1 634.5,515.0 636.2,513.5C637.9,512.0 640.1,510.3 641.3,509.3C642.6,508.2 643.1,507.0 643.9,507.2C644.8,507.4 645.2,509.0 646.5,510.3C647.8,511.7 649.9,513.8 651.6,515.1C653.3,516.3 655.0,516.7 656.7,517.7C658.4,518.6 660.2,519.8 661.9,520.8C663.6,521.9 666.1,523.5 667.0,524.0" fill="none" stroke="#4b56ad" stroke-width="1.6"/></g>
<line x1="559.2" y1="555.2" x2="559.2" y2="553.7" stroke="#222" stroke-width="1"/>
<line x1="559.2" y1="478.5" x2="559.2" y2="480.0" stroke="#222" stroke-width="1"/>
<line x1="610.5" y1="555.2" x2="610.5" y2="553.7" stroke="#222" stroke-width="1"/>
<line x1="610.5" y1="478.5" x2="610.5" y2="480.0" stroke="#222" stroke-width="1"/>
<line x1="661.8" y1="555.2" x2="661.8" y2="553.7" stroke="#222" stroke-width="1"/>
<line x1="661.8" y1="478.5" x2="661.8" y2="480.0" stroke="#222" stroke-width="1"/>
<line x1="548.9" y1="555.2" x2="550.4" y2="555.2" stroke="#222" stroke-width="1"/>
<line x1="666.9" y1="555.2" x2="665.4" y2="555.2" stroke="#222" stroke-width="1"/>
<line x1="548.9" y1="536.0" x2="550.4" y2="536.0" stroke="#222" stroke-width="1"/>
<line x1="666.9" y1="536.0" x2="665.4" y2="536.0" stroke="#222" stroke-width="1"/>
<line x1="548.9" y1="516.9" x2="550.4" y2="516.9" stroke="#222" stroke-width="1"/>
<line x1="666.9" y1="516.9" x2="665.4" y2="516.9" stroke="#222" stroke-width="1"/>
<line x1="548.9" y1="497.7" x2="550.4" y2="497.7" stroke="#222" stroke-width="1"/>
<line x1="666.9" y1="497.7" x2="665.4" y2="497.7" stroke="#222" stroke-width="1"/>
<line x1="548.9" y1="478.5" x2="550.4" y2="478.5" stroke="#222" stroke-width="1"/>
<line x1="666.9" y1="478.5" x2="665.4" y2="478.5" stroke="#222" stroke-width="1"/>
<rect x="548.9" y="478.5" width="118.0" height="76.7" fill="none" stroke="#000" stroke-width="1.45"/>
<text x="559.2" y="573.3" text-anchor="middle" font-size="16" font-family="Liberation Sans, sans-serif" stroke="#000" stroke-width="0.45" fill="#000">0</text>
<text x="610.5" y="573.3" text-anchor="middle" font-size="16" font-family="Liberation Sans, sans-serif" stroke="#000" stroke-width="0.45" fill="#000">10</text>
<text x="661.8" y="573.3" text-anchor="middle" font-size="16" font-family="Liberation Sans, sans-serif" stroke="#000" stroke-width="0.45" fill="#000">20</text>
<text x="117.7" y="604.2" text-anchor="middle" font-size="16" letter-spacing="0.5" font-family="Liberation Sans, sans-serif" stroke="#000" stroke-width="0.45" fill="#000">channel 1-L</text>
<rect x="84.4" y="617.6" width="25.7" height="71.9" fill="#e3e3e3"/>
<clipPath id="c40"><rect x="58.7" y="615.2" width="118.0" height="76.7"/></clipPath>
<g clip-path="url(#c40)"><path d="M58.5,653.7C59.4,653.8 61.9,654.7 63.6,654.2C65.3,653.7 67.1,651.6 68.8,650.7C70.5,649.7 72.2,649.0 73.9,648.4C75.6,647.8 77.3,647.5 79.0,646.9C80.7,646.3 82.4,645.7 84.2,644.9C85.9,644.1 87.6,642.9 89.3,642.2C91.0,641.5 92.7,640.5 94.4,640.9C96.1,641.2 97.8,642.7 99.5,644.2C101.3,645.8 103.0,648.5 104.7,650.2C106.4,651.8 108.4,653.3 109.8,654.1C111.3,654.8 112.5,654.9 113.4,654.9C114.3,654.9 113.8,654.4 114.9,654.2C116.0,653.9 118.4,654.1 120.1,653.6C121.8,653.2 123.5,652.6 125.2,651.5C126.9,650.3 128.6,648.1 130.3,646.7C132.0,645.3 134.2,643.9 135.5,643.0C136.7,642.1 137.2,641.5 138.0,641.2C138.9,640.8 139.3,640.5 140.6,640.7C141.9,640.9 144.0,641.8 145.7,642.4C147.4,643.0 149.1,643.7 150.8,644.4C152.6,645.1 154.3,646.6 156.0,646.5C157.7,646.3 159.4,644.0 161.1,643.4C162.8,642.7 164.5,642.7 166.2,642.7C167.9,642.7 169.7,643.1 171.4,643.5C173.1,643.8 175.6,644.4 176.5,644.5L176.5,655.4C175.6,655.2 173.1,654.7 171.4,654.4C169.7,654.1 167.9,653.7 166.2,653.7C164.5,653.7 162.8,653.8 161.1,654.5C159.4,655.1 157.7,657.3 156.0,657.7C154.3,658.0 152.6,656.9 150.8,656.5C149.1,656.2 147.4,655.8 145.7,655.4C144.0,655.1 141.9,654.8 140.6,654.7C139.3,654.5 138.9,654.4 138.0,654.6C137.2,654.8 136.7,655.2 135.5,655.9C134.2,656.5 132.0,657.4 130.3,658.4C128.6,659.5 126.9,661.3 125.2,662.1C123.5,662.8 121.8,662.5 120.1,663.1C118.4,663.7 116.0,665.0 114.9,665.7C113.8,666.4 114.3,666.9 113.4,667.1C112.5,667.3 111.3,667.5 109.8,666.8C108.4,666.2 106.4,664.9 104.7,663.4C103.0,661.9 101.3,659.2 99.5,657.8C97.8,656.4 96.1,655.5 94.4,654.9C92.7,654.3 91.0,654.2 89.3,654.2C87.6,654.3 85.9,654.9 84.2,655.0C82.4,655.2 80.7,655.2 79.0,655.1C77.3,655.1 75.6,654.6 73.9,654.7C72.2,654.8 70.5,655.5 68.8,655.6C67.1,655.6 65.3,655.1 63.6,654.8C61.9,654.5 59.4,654.1 58.5,654.0Z" fill="#fde2da" fill-opacity="1.0" stroke="#ef9381" stroke-width="1.1"/><path d="M58.5,653.6C59.4,653.4 61.9,652.9 63.6,652.0C65.3,651.2 67.1,649.1 68.8,648.7C70.5,648.3 72.2,649.3 73.9,649.7C75.6,650.0 77.3,650.2 79.0,650.6C80.7,651.0 82.4,651.6 84.2,652.1C85.9,652.6 87.6,653.2 89.3,653.6C91.0,654.0 92.7,654.3 94.4,654.5C96.1,654.7 97.8,655.2 99.5,654.8C101.3,654.3 103.0,652.9 104.7,651.7C106.4,650.6 108.1,648.9 109.8,648.0C111.5,647.1 113.2,646.3 114.9,646.3C116.6,646.4 118.4,647.7 120.1,648.2C121.8,648.7 123.5,648.7 125.2,649.3C126.9,649.9 128.6,651.3 130.3,651.9C132.0,652.5 133.7,652.6 135.5,652.8C137.2,653.1 138.9,653.5 140.6,653.3C142.3,653.1 144.0,652.2 145.7,651.8C147.4,651.4 149.1,651.0 150.8,650.9C152.6,650.9 154.3,651.2 156.0,651.6C157.7,652.0 159.4,653.0 161.1,653.3C162.8,653.6 164.5,653.5 166.2,653.4C167.9,653.3 169.7,652.7 171.4,652.5C173.1,652.2 175.6,652.1 176.5,652.1L176.5,659.4C175.6,659.5 173.1,659.7 171.4,660.1C169.7,660.4 167.9,661.0 166.2,661.2C164.5,661.4 162.8,661.6 161.1,661.4C159.4,661.1 157.7,660.2 156.0,659.9C154.3,659.6 152.6,659.4 150.8,659.5C149.1,659.6 147.4,660.2 145.7,660.7C144.0,661.2 142.3,662.2 140.6,662.4C138.9,662.6 137.2,662.1 135.5,661.8C133.7,661.5 132.0,661.3 130.3,660.6C128.6,660.0 126.9,658.6 125.2,657.9C123.5,657.3 121.8,657.2 120.1,656.6C118.4,656.1 116.6,654.7 114.9,654.6C113.2,654.6 111.5,655.3 109.8,656.1C108.1,657.0 106.4,658.7 104.7,659.7C103.0,660.8 101.3,662.2 99.5,662.6C97.8,663.0 96.1,662.5 94.4,662.2C92.7,661.9 91.0,661.5 89.3,661.1C87.6,660.6 85.9,659.9 84.2,659.4C82.4,658.8 80.7,658.2 79.0,657.7C77.3,657.2 75.6,656.9 73.9,656.6C72.2,656.2 70.5,656.0 68.8,655.4C67.1,654.8 65.3,653.3 63.6,653.1C61.9,653.0 59.4,654.4 58.5,654.7Z" fill="#dde0f4" fill-opacity="1.0" stroke="#8c92d0" stroke-width="1.1"/><path d="M58.5,653.8C59.4,653.9 61.9,654.6 63.6,654.5C65.3,654.4 67.1,653.6 68.8,653.1C70.5,652.6 72.2,651.9 73.9,651.5C75.6,651.2 77.3,651.3 79.0,651.0C80.7,650.7 82.4,650.4 84.2,650.0C85.9,649.5 87.6,648.6 89.3,648.2C91.0,647.9 92.7,647.4 94.4,647.9C96.1,648.3 97.8,649.5 99.5,651.0C101.3,652.5 103.0,655.2 104.7,656.8C106.4,658.4 108.4,659.8 109.8,660.5C111.3,661.2 112.5,661.1 113.4,661.0C114.3,660.9 113.8,660.4 114.9,659.9C116.0,659.5 118.4,658.9 120.1,658.4C121.8,657.8 123.5,657.7 125.2,656.8C126.9,655.8 128.6,653.8 130.3,652.6C132.0,651.4 134.2,650.2 135.5,649.4C136.7,648.7 137.2,648.2 138.0,647.9C138.9,647.6 139.3,647.5 140.6,647.7C141.9,647.9 144.0,648.4 145.7,648.9C147.4,649.4 149.1,650.0 150.8,650.5C152.6,651.0 154.3,652.3 156.0,652.1C157.7,651.8 159.4,649.6 161.1,648.9C162.8,648.3 164.5,648.2 166.2,648.2C167.9,648.2 169.7,648.6 171.4,648.9C173.1,649.2 175.6,649.8 176.5,650.0" fill="none" stroke="#cd3722" stroke-width="1.6"/><path d="M58.5,654.2C59.4,653.9 61.9,652.9 63.6,652.6C65.3,652.2 67.1,652.0 68.8,652.1C70.5,652.1 72.2,652.8 73.9,653.1C75.6,653.5 77.3,653.7 79.0,654.2C80.7,654.6 82.4,655.2 84.2,655.7C85.9,656.3 87.6,656.9 89.3,657.3C91.0,657.7 92.7,658.1 94.4,658.4C96.1,658.6 97.8,659.1 99.5,658.7C101.3,658.3 103.0,656.8 104.7,655.7C106.4,654.6 108.1,652.9 109.8,652.1C111.5,651.2 113.2,650.4 114.9,650.5C116.6,650.5 118.4,651.9 120.1,652.4C121.8,652.9 123.5,653.0 125.2,653.6C126.9,654.3 128.6,655.6 130.3,656.3C132.0,656.9 133.7,657.0 135.5,657.3C137.2,657.6 138.9,658.0 140.6,657.8C142.3,657.7 144.0,656.7 145.7,656.3C147.4,655.8 149.1,655.3 150.8,655.2C152.6,655.1 154.3,655.4 156.0,655.7C157.7,656.1 159.4,657.0 161.1,657.3C162.8,657.6 164.5,657.5 166.2,657.3C167.9,657.1 169.7,656.5 171.4,656.3C173.1,656.0 175.6,655.8 176.5,655.7" fill="none" stroke="#4b56ad" stroke-width="1.6"/></g>
<line x1="69.0" y1="691.9" x2="69.0" y2="690.4" stroke="#222" stroke-width="1"/>
<line x1="69.0" y1="615.2" x2="69.0" y2="616.7" stroke="#222" stroke-width="1"/>
<line x1="120.3" y1="691.9" x2="120.3" y2="690.4" stroke="#222" stroke-width="1"/>
<line x1="120.3" y1="615.2" x2="120.3" y2="616.7" stroke="#222" stroke-width="1"/>
<line x1="171.6" y1="691.9" x2="171.6" y2="690.4" stroke="#222" stroke-width="1"/>
<line x1="171.6" y1="615.2" x2="171.6" y2="616.7" stroke="#222" stroke-width="1"/>
<line x1="58.7" y1="691.9" x2="60.2" y2="691.9" stroke="#222" stroke-width="1"/>
<line x1="176.7" y1="691.9" x2="175.2" y2="691.9" stroke="#222" stroke-width="1"/>
<line x1="58.7" y1="672.7" x2="60.2" y2="672.7" stroke="#222" stroke-width="1"/>
<line x1="176.7" y1="672.7" x2="175.2" y2="672.7" stroke="#222" stroke-width="1"/>
<line x1="58.7" y1="653.5" x2="60.2" y2="653.5" stroke="#222" stroke-width="1"/>
<line x1="176.7" y1="653.5" x2="175.2" y2="653.5" stroke="#222" stroke-width="1"/>
<line x1="58.7" y1="634.4" x2="60.2" y2="634.4" stroke="#222" stroke-width="1"/>
<line x1="176.7" y1="634.4" x2="175.2" y2="634.4" stroke="#222" stroke-width="1"/>
<line x1="58.7" y1="615.2" x2="60.2" y2="615.2" stroke="#222" stroke-width="1"/>
<line x1="176.7" y1="615.2" x2="175.2" y2="615.2" stroke="#222" stroke-width="1"/>
<rect x="58.7" y="615.2" width="118.0" height="76.7" fill="none" stroke="#000" stroke-width="1.45"/>
<text x="69.0" y="709.7" text-anchor="middle" font-size="16" font-family="Liberation Sans, sans-serif" stroke="#000" stroke-width="0.45" fill="#000">0</text>
<text x="120.3" y="709.7" text-anchor="middle" font-size="16" font-family="Liberation Sans, sans-serif" stroke="#000" stroke-width="0.45" fill="#000">10</text>
<text x="171.6" y="709.7" text-anchor="middle" font-size="16" font-family="Liberation Sans, sans-serif" stroke="#000" stroke-width="0.45" fill="#000">20</text>
<text x="52.5" y="620.6" text-anchor="end" font-size="16" font-family="Liberation Sans, sans-serif" stroke="#000" stroke-width="0.45" fill="#000">0.4</text>
<text x="52.5" y="639.8" text-anchor="end" font-size="16" font-family="Liberation Sans, sans-serif" stroke="#000" stroke-width="0.45" fill="#000">0.2</text>
<text x="52.5" y="658.9" text-anchor="end" font-size="16" font-family="Liberation Sans, sans-serif" stroke="#000" stroke-width="0.45" fill="#000">0</text>
<text x="52.5" y="678.1" text-anchor="end" font-size="16" font-family="Liberation Sans, sans-serif" stroke="#000" stroke-width="0.45" fill="#000">-0.2</text>
<text x="52.5" y="697.3" text-anchor="end" font-size="16" font-family="Liberation Sans, sans-serif" stroke="#000" stroke-width="0.45" fill="#000">-0.4</text>
<text transform="translate(16.2 655.3) rotate(-90)" x="0" y="0" text-anchor="middle" font-size="16" letter-spacing="0.45" font-family="Liberation Sans, sans-serif" stroke="#000" stroke-width="0.45" fill="#000">dConc (<tspan font-style="italic">μ</tspan>M)</text>
<text x="117.7" y="728.9" text-anchor="middle" font-size="16" font-family="Liberation Sans, sans-serif" stroke="#000" stroke-width="0.45" fill="#000">time (s)</text>
<text x="246.6" y="604.2" text-anchor="middle" font-size="16" letter-spacing="0.5" font-family="Liberation Sans, sans-serif" stroke="#000" stroke-width="0.45" fill="#000">channel 1-R</text>
<rect x="213.3" y="617.6" width="25.7" height="71.9" fill="#e3e3e3"/>
<clipPath id="c41"><rect x="187.6" y="615.2" width="118.0" height="76.7"/></clipPath>
<g clip-path="url(#c41)"><path d="M188.0,651.9C188.9,652.1 191.4,653.3 193.1,653.3C194.8,653.4 196.6,652.4 198.3,652.1C200.0,651.8 201.7,651.7 203.4,651.5C205.1,651.4 207.2,651.1 208.5,651.0C209.8,650.9 210.2,651.1 211.1,650.7C211.9,650.4 212.4,649.7 213.7,648.9C214.9,648.1 217.1,646.4 218.8,645.8C220.5,645.1 222.2,644.9 223.9,644.8C225.6,644.8 227.3,644.7 229.0,645.5C230.8,646.3 232.5,648.5 234.2,649.8C235.9,651.2 238.2,652.8 239.3,653.6C240.4,654.4 240.0,655.0 240.8,654.6C241.7,654.2 243.0,651.5 244.4,651.2C245.9,650.9 248.3,652.5 249.6,652.9C250.8,653.4 251.3,654.0 252.1,653.8C253.0,653.6 253.4,652.4 254.7,651.9C256.0,651.4 258.1,651.2 259.8,650.7C261.5,650.3 263.2,649.7 265.0,649.0C266.7,648.4 268.4,647.4 270.1,646.8C271.8,646.3 273.5,646.1 275.2,645.7C276.9,645.4 278.6,645.0 280.3,644.6C282.1,644.3 283.8,644.2 285.5,643.6C287.2,642.9 288.9,641.8 290.6,640.9C292.3,640.0 294.0,638.6 295.7,638.3C297.4,637.9 299.2,638.3 300.9,638.8C302.6,639.2 305.1,640.5 306.0,640.9L306.0,650.7C305.1,650.3 302.6,649.0 300.9,648.6C299.2,648.1 297.4,647.5 295.7,648.0C294.0,648.6 292.3,650.5 290.6,651.7C288.9,652.9 287.2,654.4 285.5,655.3C283.8,656.3 282.1,656.7 280.3,657.4C278.6,658.1 276.9,658.8 275.2,659.4C273.5,660.1 271.8,660.7 270.1,661.5C268.4,662.3 266.7,663.6 265.0,664.5C263.2,665.4 261.5,666.3 259.8,667.0C258.1,667.8 256.0,668.3 254.7,669.0C253.4,669.7 253.0,671.1 252.1,671.3C251.3,671.5 250.8,670.7 249.6,670.1C248.3,669.5 245.9,667.5 244.4,667.6C243.0,667.7 241.7,670.2 240.8,670.5C240.0,670.8 240.4,670.1 239.3,669.4C238.2,668.6 235.9,667.1 234.2,665.8C232.5,664.6 230.8,662.5 229.0,661.8C227.3,661.0 225.6,661.2 223.9,661.4C222.2,661.5 220.5,662.4 218.8,662.5C217.1,662.7 214.9,662.5 213.7,662.5C212.4,662.6 211.9,663.0 211.1,662.8C210.2,662.6 209.8,662.2 208.5,661.5C207.2,660.8 205.1,659.6 203.4,658.9C201.7,658.2 200.0,658.1 198.3,657.3C196.6,656.5 194.8,654.8 193.1,653.9C191.4,653.1 188.9,652.5 188.0,652.2Z" fill="#fde2da" fill-opacity="1.0" stroke="#ef9381" stroke-width="1.1"/><path d="M188.0,652.7C188.9,652.6 191.4,652.8 193.1,652.2C194.8,651.6 196.6,649.7 198.3,649.1C200.0,648.4 201.7,648.4 203.4,648.3C205.1,648.2 206.8,648.3 208.5,648.2C210.2,648.2 211.9,648.1 213.7,648.0C215.4,647.9 217.1,647.7 218.8,647.7C220.5,647.8 222.2,648.1 223.9,648.0C225.6,648.0 227.3,647.9 229.0,647.3C230.8,646.7 232.5,645.2 234.2,644.4C235.9,643.7 237.6,642.7 239.3,642.6C241.0,642.6 242.7,643.6 244.4,644.0C246.1,644.5 247.9,645.0 249.6,645.4C251.3,645.8 253.0,646.1 254.7,646.3C256.4,646.5 258.1,646.6 259.8,646.8C261.5,647.0 263.2,647.4 265.0,647.6C266.7,647.7 268.4,647.9 270.1,647.9C271.8,648.0 273.5,647.9 275.2,647.8C276.9,647.8 278.6,647.8 280.3,647.7C282.1,647.5 283.8,647.1 285.5,647.0C287.2,646.9 288.9,646.8 290.6,646.9C292.3,646.9 294.0,647.3 295.7,647.4C297.4,647.6 299.2,647.9 300.9,648.0C302.6,648.1 305.1,648.2 306.0,648.2L306.0,657.3C305.1,657.3 302.6,657.3 300.9,657.2C299.2,657.1 297.4,656.8 295.7,656.7C294.0,656.5 292.3,656.2 290.6,656.2C288.9,656.2 287.2,656.3 285.5,656.4C283.8,656.6 282.1,657.0 280.3,657.1C278.6,657.3 276.9,657.3 275.2,657.4C273.5,657.4 271.8,657.6 270.1,657.6C268.4,657.6 266.7,657.4 265.0,657.3C263.2,657.1 261.5,656.9 259.8,656.6C258.1,656.4 256.4,656.1 254.7,655.7C253.0,655.4 251.3,655.0 249.6,654.5C247.9,654.0 246.1,653.3 244.4,652.8C242.7,652.2 241.0,651.1 239.3,651.0C237.6,650.9 235.9,651.7 234.2,652.4C232.5,653.0 230.8,654.3 229.0,654.7C227.3,655.2 225.6,655.1 223.9,655.0C222.2,655.0 220.5,654.4 218.8,654.3C217.1,654.1 215.4,654.1 213.7,654.0C211.9,654.0 210.2,653.9 208.5,653.8C206.8,653.8 205.1,653.6 203.4,653.7C201.7,653.8 200.0,654.5 198.3,654.3C196.6,654.2 194.8,653.2 193.1,653.0C191.4,652.9 188.9,653.4 188.0,653.5Z" fill="#dde0f4" fill-opacity="1.0" stroke="#8c92d0" stroke-width="1.1"/><path d="M188.0,652.1C188.9,652.3 191.4,653.2 193.1,653.6C194.8,654.1 196.6,654.4 198.3,654.7C200.0,654.9 201.7,654.9 203.4,655.2C205.1,655.5 207.2,656.0 208.5,656.3C209.8,656.5 210.2,656.9 211.1,656.8C211.9,656.7 212.4,656.2 213.7,655.7C214.9,655.3 217.1,654.6 218.8,654.2C220.5,653.7 222.2,653.2 223.9,653.1C225.6,653.0 227.3,652.8 229.0,653.6C230.8,654.4 232.5,656.5 234.2,657.8C235.9,659.1 238.2,660.7 239.3,661.5C240.4,662.3 240.0,662.9 240.8,662.5C241.7,662.2 243.0,659.6 244.4,659.4C245.9,659.2 248.3,661.0 249.6,661.5C250.8,662.0 251.3,662.7 252.1,662.5C253.0,662.4 253.4,661.1 254.7,660.5C256.0,659.8 258.1,659.5 259.8,658.9C261.5,658.3 263.2,657.6 265.0,656.8C266.7,656.0 268.4,654.9 270.1,654.2C271.8,653.5 273.5,653.1 275.2,652.6C276.9,652.1 278.6,651.5 280.3,651.0C282.1,650.5 283.8,650.2 285.5,649.4C287.2,648.7 288.9,647.3 290.6,646.3C292.3,645.2 294.0,643.6 295.7,643.1C297.4,642.7 299.2,643.2 300.9,643.7C302.6,644.1 305.1,645.4 306.0,645.8" fill="none" stroke="#cd3722" stroke-width="1.6"/><path d="M188.0,653.1C188.9,653.0 191.4,652.8 193.1,652.6C194.8,652.4 196.6,652.0 198.3,651.7C200.0,651.4 201.7,651.1 203.4,651.0C205.1,650.9 206.8,651.0 208.5,651.0C210.2,651.0 211.9,651.0 213.7,651.0C215.4,651.0 217.1,650.9 218.8,651.0C220.5,651.1 222.2,651.5 223.9,651.5C225.6,651.5 227.3,651.5 229.0,651.0C230.8,650.5 232.5,649.1 234.2,648.4C235.9,647.7 237.6,646.8 239.3,646.8C241.0,646.8 242.7,647.9 244.4,648.4C246.1,648.9 247.9,649.5 249.6,650.0C251.3,650.4 253.0,650.7 254.7,651.0C256.4,651.3 258.1,651.5 259.8,651.7C261.5,651.9 263.2,652.2 265.0,652.4C266.7,652.6 268.4,652.7 270.1,652.8C271.8,652.8 273.5,652.6 275.2,652.6C276.9,652.5 278.6,652.6 280.3,652.4C282.1,652.3 283.8,651.9 285.5,651.7C287.2,651.6 288.9,651.5 290.6,651.5C292.3,651.6 294.0,651.9 295.7,652.1C297.4,652.2 299.2,652.5 300.9,652.6C302.6,652.7 305.1,652.7 306.0,652.8" fill="none" stroke="#4b56ad" stroke-width="1.6"/></g>
<line x1="197.9" y1="691.9" x2="197.9" y2="690.4" stroke="#222" stroke-width="1"/>
<line x1="197.9" y1="615.2" x2="197.9" y2="616.7" stroke="#222" stroke-width="1"/>
<line x1="249.2" y1="691.9" x2="249.2" y2="690.4" stroke="#222" stroke-width="1"/>
<line x1="249.2" y1="615.2" x2="249.2" y2="616.7" stroke="#222" stroke-width="1"/>
<line x1="300.5" y1="691.9" x2="300.5" y2="690.4" stroke="#222" stroke-width="1"/>
<line x1="300.5" y1="615.2" x2="300.5" y2="616.7" stroke="#222" stroke-width="1"/>
<line x1="187.6" y1="691.9" x2="189.1" y2="691.9" stroke="#222" stroke-width="1"/>
<line x1="305.6" y1="691.9" x2="304.1" y2="691.9" stroke="#222" stroke-width="1"/>
<line x1="187.6" y1="672.7" x2="189.1" y2="672.7" stroke="#222" stroke-width="1"/>
<line x1="305.6" y1="672.7" x2="304.1" y2="672.7" stroke="#222" stroke-width="1"/>
<line x1="187.6" y1="653.5" x2="189.1" y2="653.5" stroke="#222" stroke-width="1"/>
<line x1="305.6" y1="653.5" x2="304.1" y2="653.5" stroke="#222" stroke-width="1"/>
<line x1="187.6" y1="634.4" x2="189.1" y2="634.4" stroke="#222" stroke-width="1"/>
<line x1="305.6" y1="634.4" x2="304.1" y2="634.4" stroke="#222" stroke-width="1"/>
<line x1="187.6" y1="615.2" x2="189.1" y2="615.2" stroke="#222" stroke-width="1"/>
<line x1="305.6" y1="615.2" x2="304.1" y2="615.2" stroke="#222" stroke-width="1"/>
<rect x="187.6" y="615.2" width="118.0" height="76.7" fill="none" stroke="#000" stroke-width="1.45"/>
<text x="197.9" y="709.7" text-anchor="middle" font-size="16" font-family="Liberation Sans, sans-serif" stroke="#000" stroke-width="0.45" fill="#000">0</text>
<text x="249.2" y="709.7" text-anchor="middle" font-size="16" font-family="Liberation Sans, sans-serif" stroke="#000" stroke-width="0.45" fill="#000">10</text>
<text x="300.5" y="709.7" text-anchor="middle" font-size="16" font-family="Liberation Sans, sans-serif" stroke="#000" stroke-width="0.45" fill="#000">20</text>
<text x="246.6" y="728.9" text-anchor="middle" font-size="16" font-family="Liberation Sans, sans-serif" stroke="#000" stroke-width="0.45" fill="#000">time (s)</text>
<text x="479.3" y="604.2" text-anchor="middle" font-size="16" letter-spacing="0.5" font-family="Liberation Sans, sans-serif" stroke="#000" stroke-width="0.45" fill="#000">channel 1-L</text>
<rect x="446.0" y="617.6" width="25.7" height="71.9" fill="#e3e3e3"/>
<clipPath id="c42"><rect x="420.3" y="615.2" width="118.0" height="76.7"/></clipPath>
<g clip-path="url(#c42)"><path d="M420.0,655.0C420.9,654.6 423.4,653.8 425.1,652.8C426.8,651.8 428.6,649.7 430.3,648.8C432.0,647.9 433.7,647.8 435.4,647.3C437.1,646.9 438.8,646.3 440.5,645.9C442.2,645.6 443.9,645.4 445.7,645.1C447.4,644.7 449.1,643.6 450.8,643.7C452.5,643.7 454.2,644.9 455.9,645.4C457.6,645.9 459.3,646.0 461.0,646.6C462.8,647.1 464.5,648.2 466.2,648.8C467.9,649.4 470.0,649.6 471.3,650.0C472.6,650.3 473.0,650.9 473.9,650.8C474.7,650.8 475.6,650.2 476.4,649.5C477.3,648.7 478.1,647.6 479.0,646.5C479.9,645.4 480.3,644.0 481.6,643.0C482.8,642.1 485.0,641.5 486.7,640.8C488.4,640.1 490.5,639.0 491.8,638.6C493.1,638.2 493.5,638.0 494.4,638.3C495.2,638.5 495.7,639.0 497.0,639.8C498.2,640.6 500.4,641.6 502.1,643.0C503.8,644.4 505.5,646.6 507.2,648.2C508.9,649.8 510.6,651.4 512.3,652.4C514.1,653.4 515.8,653.9 517.5,654.0C519.2,654.1 520.9,653.8 522.6,653.1C524.3,652.5 526.0,651.0 527.7,650.1C529.4,649.3 531.2,649.2 532.9,648.2C534.6,647.2 537.1,644.9 538.0,644.2L538.0,658.9C537.1,659.6 534.6,662.1 532.9,663.2C531.2,664.4 529.4,664.6 527.7,665.5C526.0,666.5 524.3,668.1 522.6,668.8C520.9,669.6 519.2,670.1 517.5,670.1C515.8,670.0 514.1,669.5 512.3,668.5C510.6,667.5 508.9,665.9 507.2,664.3C505.5,662.7 503.8,660.5 502.1,659.1C500.4,657.7 498.2,656.7 497.0,655.9C495.7,655.1 495.2,654.7 494.4,654.3C493.5,654.0 493.1,653.9 491.8,654.0C490.5,654.1 488.4,654.6 486.7,654.9C485.0,655.2 482.8,655.2 481.6,655.8C480.3,656.5 479.9,657.8 479.0,658.7C478.1,659.5 477.3,660.5 476.4,661.0C475.6,661.5 474.7,661.8 473.9,661.7C473.0,661.6 472.6,661.0 471.3,660.4C470.0,659.9 467.9,659.3 466.2,658.5C464.5,657.6 462.8,656.3 461.0,655.5C459.3,654.6 457.6,654.2 455.9,653.5C454.2,652.8 452.5,651.3 450.8,651.0C449.1,650.7 447.4,651.6 445.7,651.7C443.9,651.9 442.2,651.7 440.5,651.9C438.8,652.0 437.1,652.4 435.4,652.6C433.7,652.8 432.0,653.1 430.3,653.2C428.6,653.4 426.8,653.0 425.1,653.4C423.4,653.8 420.9,655.1 420.0,655.4Z" fill="#fde2da" fill-opacity="1.0" stroke="#ef9381" stroke-width="1.1"/><path d="M420.0,652.2C420.9,652.3 423.4,652.9 425.1,652.7C426.8,652.4 428.6,651.1 430.3,650.6C432.0,650.2 433.7,650.2 435.4,650.1C437.1,650.0 438.8,650.0 440.5,650.0C442.2,650.1 443.9,650.1 445.7,650.5C447.4,651.0 449.1,652.0 450.8,652.6C452.5,653.2 454.2,654.0 455.9,654.2C457.6,654.3 459.3,654.0 461.0,653.5C462.8,653.0 464.5,652.1 466.2,651.3C467.9,650.4 470.0,649.2 471.3,648.5C472.6,647.9 473.0,647.3 473.9,647.4C474.7,647.5 475.2,648.1 476.4,648.9C477.7,649.7 479.9,651.7 481.6,652.3C483.3,652.9 485.0,652.7 486.7,652.7C488.4,652.7 490.1,652.4 491.8,652.2C493.5,652.1 495.2,652.3 497.0,651.8C498.7,651.3 500.4,650.2 502.1,649.2C503.8,648.3 505.5,646.9 507.2,646.2C508.9,645.4 510.6,644.8 512.3,644.5C514.1,644.1 515.8,644.1 517.5,644.2C519.2,644.3 520.9,644.8 522.6,645.2C524.3,645.5 526.0,646.1 527.7,646.5C529.4,646.9 531.2,647.1 532.9,647.6C534.6,648.1 537.1,649.0 538.0,649.3L538.0,657.0C537.1,656.7 534.6,655.9 532.9,655.5C531.2,655.1 529.4,654.9 527.7,654.5C526.0,654.2 524.3,653.7 522.6,653.4C520.9,653.1 519.2,652.6 517.5,652.6C515.8,652.5 514.1,652.6 512.3,653.0C510.6,653.4 508.9,654.0 507.2,654.8C505.5,655.7 503.8,657.1 502.1,658.0C500.4,659.0 498.7,660.2 497.0,660.7C495.2,661.3 493.5,661.3 491.8,661.3C490.1,661.3 488.4,661.2 486.7,660.9C485.0,660.6 483.3,660.5 481.6,659.5C479.9,658.6 477.7,656.2 476.4,655.2C475.2,654.2 474.7,653.7 473.9,653.6C473.0,653.5 472.6,654.0 471.3,654.6C470.0,655.1 467.9,656.3 466.2,657.0C464.5,657.8 462.8,658.6 461.0,659.0C459.3,659.4 457.6,659.6 455.9,659.4C454.2,659.2 452.5,658.4 450.8,657.8C449.1,657.2 447.4,656.1 445.7,655.7C443.9,655.2 442.2,655.2 440.5,655.1C438.8,655.0 437.1,655.0 435.4,655.1C433.7,655.2 432.0,655.9 430.3,655.6C428.6,655.3 426.8,654.0 425.1,653.5C423.4,653.1 420.9,653.1 420.0,653.0Z" fill="#dde0f4" fill-opacity="1.0" stroke="#8c92d0" stroke-width="1.1"/><path d="M420.0,655.2C420.9,654.9 423.4,653.8 425.1,653.1C426.8,652.4 428.6,651.5 430.3,651.0C432.0,650.5 433.7,650.3 435.4,650.0C437.1,649.6 438.8,649.2 440.5,648.9C442.2,648.7 443.9,648.7 445.7,648.4C447.4,648.1 449.1,647.2 450.8,647.3C452.5,647.5 454.2,648.8 455.9,649.4C457.6,650.1 459.3,650.3 461.0,651.0C462.8,651.7 464.5,652.9 466.2,653.6C467.9,654.3 470.0,654.8 471.3,655.2C472.6,655.6 473.0,656.3 473.9,656.3C474.7,656.3 475.6,655.8 476.4,655.2C477.3,654.6 478.1,653.5 479.0,652.6C479.9,651.6 480.3,650.2 481.6,649.4C482.8,648.7 485.0,648.4 486.7,647.9C488.4,647.3 490.5,646.6 491.8,646.3C493.1,646.0 493.5,646.0 494.4,646.3C495.2,646.6 495.7,647.1 497.0,647.9C498.2,648.7 500.4,649.6 502.1,651.0C503.8,652.4 505.5,654.7 507.2,656.3C508.9,657.8 510.6,659.5 512.3,660.5C514.1,661.4 515.8,661.9 517.5,662.0C519.2,662.1 520.9,661.7 522.6,661.0C524.3,660.3 526.0,658.7 527.7,657.8C529.4,657.0 531.2,656.8 532.9,655.7C534.6,654.7 537.1,652.2 538.0,651.5" fill="none" stroke="#cd3722" stroke-width="1.6"/><path d="M420.0,652.6C420.9,652.7 423.4,653.0 425.1,653.1C426.8,653.2 428.6,653.2 430.3,653.1C432.0,653.0 433.7,652.7 435.4,652.6C437.1,652.5 438.8,652.5 440.5,652.6C442.2,652.7 443.9,652.7 445.7,653.1C447.4,653.5 449.1,654.6 450.8,655.2C452.5,655.8 454.2,656.6 455.9,656.8C457.6,657.0 459.3,656.7 461.0,656.3C462.8,655.8 464.5,654.9 466.2,654.2C467.9,653.4 470.0,652.1 471.3,651.5C472.6,650.9 473.0,650.4 473.9,650.5C474.7,650.6 475.2,651.2 476.4,652.1C477.7,653.0 479.9,655.1 481.6,655.9C483.3,656.7 485.0,656.6 486.7,656.8C488.4,656.9 490.1,656.9 491.8,656.8C493.5,656.7 495.2,656.8 497.0,656.3C498.7,655.7 500.4,654.6 502.1,653.6C503.8,652.7 505.5,651.3 507.2,650.5C508.9,649.7 510.6,649.1 512.3,648.7C514.1,648.4 515.8,648.3 517.5,648.4C519.2,648.5 520.9,648.9 522.6,649.3C524.3,649.6 526.0,650.1 527.7,650.5C529.4,650.9 531.2,651.1 532.9,651.5C534.6,652.0 537.1,652.8 538.0,653.1" fill="none" stroke="#4b56ad" stroke-width="1.6"/></g>
<line x1="430.6" y1="691.9" x2="430.6" y2="690.4" stroke="#222" stroke-width="1"/>
<line x1="430.6" y1="615.2" x2="430.6" y2="616.7" stroke="#222" stroke-width="1"/>
<line x1="481.9" y1="691.9" x2="481.9" y2="690.4" stroke="#222" stroke-width="1"/>
<line x1="481.9" y1="615.2" x2="481.9" y2="616.7" stroke="#222" stroke-width="1"/>
<line x1="533.2" y1="691.9" x2="533.2" y2="690.4" stroke="#222" stroke-width="1"/>
<line x1="533.2" y1="615.2" x2="533.2" y2="616.7" stroke="#222" stroke-width="1"/>
<line x1="420.3" y1="691.9" x2="421.8" y2="691.9" stroke="#222" stroke-width="1"/>
<line x1="538.3" y1="691.9" x2="536.8" y2="691.9" stroke="#222" stroke-width="1"/>
<line x1="420.3" y1="672.7" x2="421.8" y2="672.7" stroke="#222" stroke-width="1"/>
<line x1="538.3" y1="672.7" x2="536.8" y2="672.7" stroke="#222" stroke-width="1"/>
<line x1="420.3" y1="653.5" x2="421.8" y2="653.5" stroke="#222" stroke-width="1"/>
<line x1="538.3" y1="653.5" x2="536.8" y2="653.5" stroke="#222" stroke-width="1"/>
<line x1="420.3" y1="634.4" x2="421.8" y2="634.4" stroke="#222" stroke-width="1"/>
<line x1="538.3" y1="634.4" x2="536.8" y2="634.4" stroke="#222" stroke-width="1"/>
<line x1="420.3" y1="615.2" x2="421.8" y2="615.2" stroke="#222" stroke-width="1"/>
<line x1="538.3" y1="615.2" x2="536.8" y2="615.2" stroke="#222" stroke-width="1"/>
<rect x="420.3" y="615.2" width="118.0" height="76.7" fill="none" stroke="#000" stroke-width="1.45"/>
<text x="430.6" y="709.7" text-anchor="middle" font-size="16" font-family="Liberation Sans, sans-serif" stroke="#000" stroke-width="0.45" fill="#000">0</text>
<text x="481.9" y="709.7" text-anchor="middle" font-size="16" font-family="Liberation Sans, sans-serif" stroke="#000" stroke-width="0.45" fill="#000">10</text>
<text x="533.2" y="709.7" text-anchor="middle" font-size="16" font-family="Liberation Sans, sans-serif" stroke="#000" stroke-width="0.45" fill="#000">20</text>
<text x="414.1" y="620.6" text-anchor="end" font-size="16" font-family="Liberation Sans, sans-serif" stroke="#000" stroke-width="0.45" fill="#000">0.4</text>
<text x="414.1" y="639.8" text-anchor="end" font-size="16" font-family="Liberation Sans, sans-serif" stroke="#000" stroke-width="0.45" fill="#000">0.2</text>
<text x="414.1" y="658.9" text-anchor="end" font-size="16" font-family="Liberation Sans, sans-serif" stroke="#000" stroke-width="0.45" fill="#000">0</text>
<text x="414.1" y="678.1" text-anchor="end" font-size="16" font-family="Liberation Sans, sans-serif" stroke="#000" stroke-width="0.45" fill="#000">-0.2</text>
<text x="414.1" y="697.3" text-anchor="end" font-size="16" font-family="Liberation Sans, sans-serif" stroke="#000" stroke-width="0.45" fill="#000">-0.4</text>
<text x="479.3" y="728.9" text-anchor="middle" font-size="16" font-family="Liberation Sans, sans-serif" stroke="#000" stroke-width="0.45" fill="#000">time (s)</text>
<text x="607.9" y="604.2" text-anchor="middle" font-size="16" letter-spacing="0.5" font-family="Liberation Sans, sans-serif" stroke="#000" stroke-width="0.45" fill="#000">channel 1-R</text>
<rect x="574.6" y="617.6" width="25.7" height="71.9" fill="#e3e3e3"/>
<clipPath id="c43"><rect x="548.9" y="615.2" width="118.0" height="76.7"/></clipPath>
<g clip-path="url(#c43)"><path d="M549.0,654.4C549.9,654.2 552.4,653.8 554.1,652.7C555.8,651.6 557.6,648.5 559.3,647.7C561.0,647.0 563.3,648.1 564.4,648.4C565.5,648.7 565.1,649.6 565.9,649.3C566.8,649.0 568.1,647.4 569.5,646.4C571.0,645.4 572.9,644.4 574.7,643.4C576.4,642.4 578.1,641.2 579.8,640.4C581.5,639.6 583.2,639.3 584.9,638.5C586.6,637.6 588.8,635.5 590.0,635.1C591.3,634.7 591.8,635.5 592.6,636.3C593.5,637.0 593.9,638.4 595.2,639.7C596.5,641.0 598.6,643.5 600.3,644.0C602.0,644.4 604.2,643.0 605.4,642.4C606.7,641.9 607.1,640.9 608.0,640.9C608.9,640.9 609.3,641.7 610.6,642.4C611.8,643.1 614.0,645.0 615.7,645.1C617.4,645.2 619.1,643.6 620.8,643.0C622.5,642.4 624.7,641.7 626.0,641.4C627.2,641.1 627.7,640.9 628.5,641.3C629.4,641.8 629.8,641.7 631.1,643.9C632.4,646.1 634.5,652.2 636.2,654.3C637.9,656.3 640.1,655.9 641.3,656.3C642.6,656.6 643.1,656.5 643.9,656.2C644.8,656.0 645.2,655.3 646.5,654.6C647.8,654.0 649.9,653.1 651.6,652.5C653.3,652.0 655.5,652.2 656.7,651.4C658.0,650.6 658.4,649.6 659.3,647.7C660.2,645.9 660.6,642.4 661.9,640.4C663.2,638.4 666.1,636.4 667.0,635.6L667.0,645.4C666.1,646.2 663.2,648.1 661.9,650.1C660.6,652.1 660.2,655.6 659.3,657.4C658.4,659.3 658.0,660.3 656.7,661.1C655.5,661.9 653.3,661.6 651.6,662.1C649.9,662.6 647.8,663.6 646.5,664.2C645.2,664.8 644.8,665.5 643.9,665.7C643.1,666.0 642.6,666.1 641.3,665.7C640.1,665.3 637.9,665.6 636.2,663.5C634.5,661.3 632.4,655.1 631.1,652.9C629.8,650.7 629.4,650.7 628.5,650.2C627.7,649.7 627.2,649.9 626.0,650.1C624.7,650.4 622.5,651.1 620.8,651.7C619.1,652.3 617.4,653.9 615.7,653.8C614.0,653.7 611.8,651.9 610.6,651.2C609.3,650.5 608.9,649.6 608.0,649.6C607.1,649.6 606.7,650.5 605.4,651.2C604.2,651.9 602.0,653.9 600.3,653.9C598.6,653.8 596.5,651.8 595.2,650.8C593.9,649.8 593.5,648.5 592.6,647.9C591.8,647.4 591.3,647.0 590.0,647.3C588.8,647.7 586.6,649.3 584.9,649.9C583.2,650.6 581.5,650.5 579.8,651.1C578.1,651.7 576.4,652.6 574.7,653.4C572.9,654.1 571.0,654.8 569.5,655.6C568.1,656.4 566.8,657.7 565.9,657.9C565.1,658.1 565.5,657.4 564.4,656.8C563.3,656.2 561.0,654.8 559.3,654.3C557.6,653.7 555.8,653.4 554.1,653.5C552.4,653.6 549.9,654.7 549.0,654.9Z" fill="#fde2da" fill-opacity="1.0" stroke="#ef9381" stroke-width="1.1"/><path d="M549.0,654.3C549.9,654.1 552.4,654.0 554.1,653.2C555.8,652.4 557.6,650.7 559.3,649.5C561.0,648.3 563.3,646.5 564.4,645.8C565.5,645.1 565.1,645.0 565.9,645.2C566.8,645.5 568.1,646.4 569.5,647.3C571.0,648.1 572.9,649.6 574.7,650.4C576.4,651.1 578.1,651.4 579.8,651.9C581.5,652.4 583.2,652.6 584.9,653.4C586.6,654.1 588.9,655.8 590.0,656.4C591.2,657.0 590.7,657.4 591.6,656.9C592.4,656.5 593.7,655.2 595.2,653.7C596.6,652.2 598.6,648.3 600.3,647.9C602.0,647.4 603.7,650.1 605.4,650.9C607.1,651.8 608.9,652.8 610.6,652.9C612.3,653.1 614.0,651.7 615.7,651.8C617.4,651.9 619.1,652.9 620.8,653.3C622.5,653.7 624.2,654.4 626.0,654.3C627.7,654.2 629.4,653.7 631.1,652.7C632.8,651.8 634.5,649.7 636.2,648.5C637.9,647.3 640.1,646.0 641.3,645.3C642.6,644.7 643.1,644.5 643.9,644.8C644.8,645.2 645.2,647.1 646.5,647.4C647.8,647.8 649.9,646.6 651.6,646.9C653.3,647.1 655.0,648.3 656.7,649.0C658.4,649.6 660.2,650.2 661.9,651.0C663.6,651.9 666.1,653.6 667.0,654.2L667.0,661.5C666.1,661.0 663.6,659.2 661.9,658.3C660.2,657.5 658.4,656.9 656.7,656.2C655.0,655.5 653.3,654.4 651.6,654.1C649.9,653.8 647.8,655.0 646.5,654.6C645.2,654.3 644.8,652.3 643.9,652.0C643.1,651.6 642.6,651.9 641.3,652.5C640.1,653.1 637.9,654.4 636.2,655.6C634.5,656.8 632.8,658.8 631.1,659.8C629.4,660.7 627.7,661.3 626.0,661.3C624.2,661.4 622.5,660.7 620.8,660.3C619.1,659.8 617.4,658.7 615.7,658.6C614.0,658.5 612.3,659.8 610.6,659.6C608.9,659.4 607.1,658.3 605.4,657.4C603.7,656.5 602.0,653.8 600.3,654.2C598.6,654.6 596.6,658.4 595.2,659.8C593.7,661.3 592.4,662.5 591.6,662.9C590.7,663.3 591.2,663.0 590.0,662.4C588.9,661.7 586.6,660.0 584.9,659.1C583.2,658.3 581.5,658.0 579.8,657.5C578.1,656.9 576.4,656.7 574.7,655.8C572.9,655.0 571.0,653.5 569.5,652.6C568.1,651.8 566.8,650.8 565.9,650.5C565.1,650.2 565.5,650.3 564.4,651.0C563.3,651.7 561.0,654.1 559.3,654.6C557.6,655.1 555.8,654.0 554.1,654.1C552.4,654.1 549.9,654.9 549.0,655.1Z" fill="#dde0f4" fill-opacity="1.0" stroke="#8c92d0" stroke-width="1.1"/><path d="M549.0,654.7C549.9,654.4 552.4,653.7 554.1,653.1C555.8,652.5 557.6,651.1 559.3,651.0C561.0,650.9 563.3,652.1 564.4,652.6C565.5,653.0 565.1,653.9 565.9,653.6C566.8,653.4 568.1,651.9 569.5,651.0C571.0,650.1 572.9,649.3 574.7,648.4C576.4,647.5 578.1,646.5 579.8,645.8C581.5,645.1 583.2,645.0 584.9,644.2C586.6,643.4 588.8,641.6 590.0,641.2C591.3,640.9 591.8,641.4 592.6,642.1C593.5,642.8 593.9,644.1 595.2,645.2C596.5,646.4 598.6,648.7 600.3,648.9C602.0,649.2 604.2,647.4 605.4,646.8C606.7,646.2 607.1,645.2 608.0,645.2C608.9,645.2 609.3,646.1 610.6,646.8C611.8,647.5 614.0,649.4 615.7,649.4C617.4,649.5 619.1,648.0 620.8,647.3C622.5,646.7 624.7,646.0 626.0,645.8C627.2,645.5 627.7,645.3 628.5,645.8C629.4,646.2 629.8,646.2 631.1,648.4C632.4,650.6 634.5,656.8 636.2,658.9C637.9,661.0 640.1,660.6 641.3,661.0C642.6,661.3 643.1,661.2 643.9,661.0C644.8,660.7 645.2,660.0 646.5,659.4C647.8,658.8 649.9,657.8 651.6,657.3C653.3,656.8 655.5,657.0 656.7,656.3C658.0,655.5 658.4,654.4 659.3,652.6C660.2,650.7 660.6,647.3 661.9,645.2C663.2,643.2 666.1,641.3 667.0,640.5" fill="none" stroke="#cd3722" stroke-width="1.6"/><path d="M549.0,654.7C549.9,654.5 552.4,654.1 554.1,653.6C555.8,653.2 557.6,652.9 559.3,652.1C561.0,651.2 563.3,649.1 564.4,648.4C565.5,647.7 565.1,647.6 565.9,647.9C566.8,648.1 568.1,649.1 569.5,650.0C571.0,650.8 572.9,652.3 574.7,653.1C576.4,653.9 578.1,654.2 579.8,654.7C581.5,655.2 583.2,655.5 584.9,656.3C586.6,657.0 588.9,658.8 590.0,659.4C591.2,660.0 590.7,660.4 591.6,659.9C592.4,659.5 593.7,658.3 595.2,656.8C596.6,655.3 598.6,651.4 600.3,651.0C602.0,650.6 603.7,653.3 605.4,654.2C607.1,655.0 608.9,656.1 610.6,656.3C612.3,656.4 614.0,655.1 615.7,655.2C617.4,655.3 619.1,656.3 620.8,656.8C622.5,657.2 624.2,657.9 626.0,657.8C627.7,657.7 629.4,657.2 631.1,656.3C632.8,655.3 634.5,653.3 636.2,652.1C637.9,650.8 640.1,649.5 641.3,648.9C642.6,648.3 643.1,648.0 643.9,648.4C644.8,648.7 645.2,650.7 646.5,651.0C647.8,651.4 649.9,650.2 651.6,650.5C653.3,650.7 655.0,651.9 656.7,652.6C658.4,653.3 660.2,653.8 661.9,654.7C663.6,655.6 666.1,657.3 667.0,657.8" fill="none" stroke="#4b56ad" stroke-width="1.6"/></g>
<line x1="559.2" y1="691.9" x2="559.2" y2="690.4" stroke="#222" stroke-width="1"/>
<line x1="559.2" y1="615.2" x2="559.2" y2="616.7" stroke="#222" stroke-width="1"/>
<line x1="610.5" y1="691.9" x2="610.5" y2="690.4" stroke="#222" stroke-width="1"/>
<line x1="610.5" y1="615.2" x2="610.5" y2="616.7" stroke="#222" stroke-width="1"/>
<line x1="661.8" y1="691.9" x2="661.8" y2="690.4" stroke="#222" stroke-width="1"/>
<line x1="661.8" y1="615.2" x2="661.8" y2="616.7" stroke="#222" stroke-width="1"/>
<line x1="548.9" y1="691.9" x2="550.4" y2="691.9" stroke="#222" stroke-width="1"/>
<line x1="666.9" y1="691.9" x2="665.4" y2="691.9" stroke="#222" stroke-width="1"/>
<line x1="548.9" y1="672.7" x2="550.4" y2="672.7" stroke="#222" stroke-width="1"/>
<line x1="666.9" y1="672.7" x2="665.4" y2="672.7" stroke="#222" stroke-width="1"/>
<line x1="548.9" y1="653.5" x2="550.4" y2="653.5" stroke="#222" stroke-width="1"/>
<line x1="666.9" y1="653.5" x2="665.4" y2="653.5" stroke="#222" stroke-width="1"/>
<line x1="548.9" y1="634.4" x2="550.4" y2="634.4" stroke="#222" stroke-width="1"/>
<line x1="666.9" y1="634.4" x2="665.4" y2="634.4" stroke="#222" stroke-width="1"/>
<line x1="548.9" y1="615.2" x2="550.4" y2="615.2" stroke="#222" stroke-width="1"/>
<line x1="666.9" y1="615.2" x2="665.4" y2="615.2" stroke="#222" stroke-width="1"/>
<rect x="548.9" y="615.2" width="118.0" height="76.7" fill="none" stroke="#000" stroke-width="1.45"/>
<text x="559.2" y="709.7" text-anchor="middle" font-size="16" font-family="Liberation Sans, sans-serif" stroke="#000" stroke-width="0.45" fill="#000">0</text>
<text x="610.5" y="709.7" text-anchor="middle" font-size="16" font-family="Liberation Sans, sans-serif" stroke="#000" stroke-width="0.45" fill="#000">10</text>
<text x="661.8" y="709.7" text-anchor="middle" font-size="16" font-family="Liberation Sans, sans-serif" stroke="#000" stroke-width="0.45" fill="#000">20</text>
<text x="607.9" y="728.9" text-anchor="middle" font-size="16" font-family="Liberation Sans, sans-serif" stroke="#000" stroke-width="0.45" fill="#000">time (s)</text>
<text x="347.5" y="102" text-anchor="middle" font-size="14.2" letter-spacing="-0.1" font-family="Liberation Sans, sans-serif" stroke="#000" stroke-width="0.2" fill="#000">DORSAL</text>
<text x="347.5" y="664" text-anchor="middle" font-size="14.2" letter-spacing="-0.2" font-family="Liberation Sans, sans-serif" stroke="#000" stroke-width="0.2" fill="#000">VENTRAL</text>
<rect x="345.2" y="144" width="4.4" height="473" fill="#000"/>
<polygon points="347.3,127.3 337,145.5 357.6,145.5" fill="#000"/>
<polygon points="347.3,634.2 337,615.8 357.6,615.8" fill="#000"/>
</g></svg>
</body></html>
